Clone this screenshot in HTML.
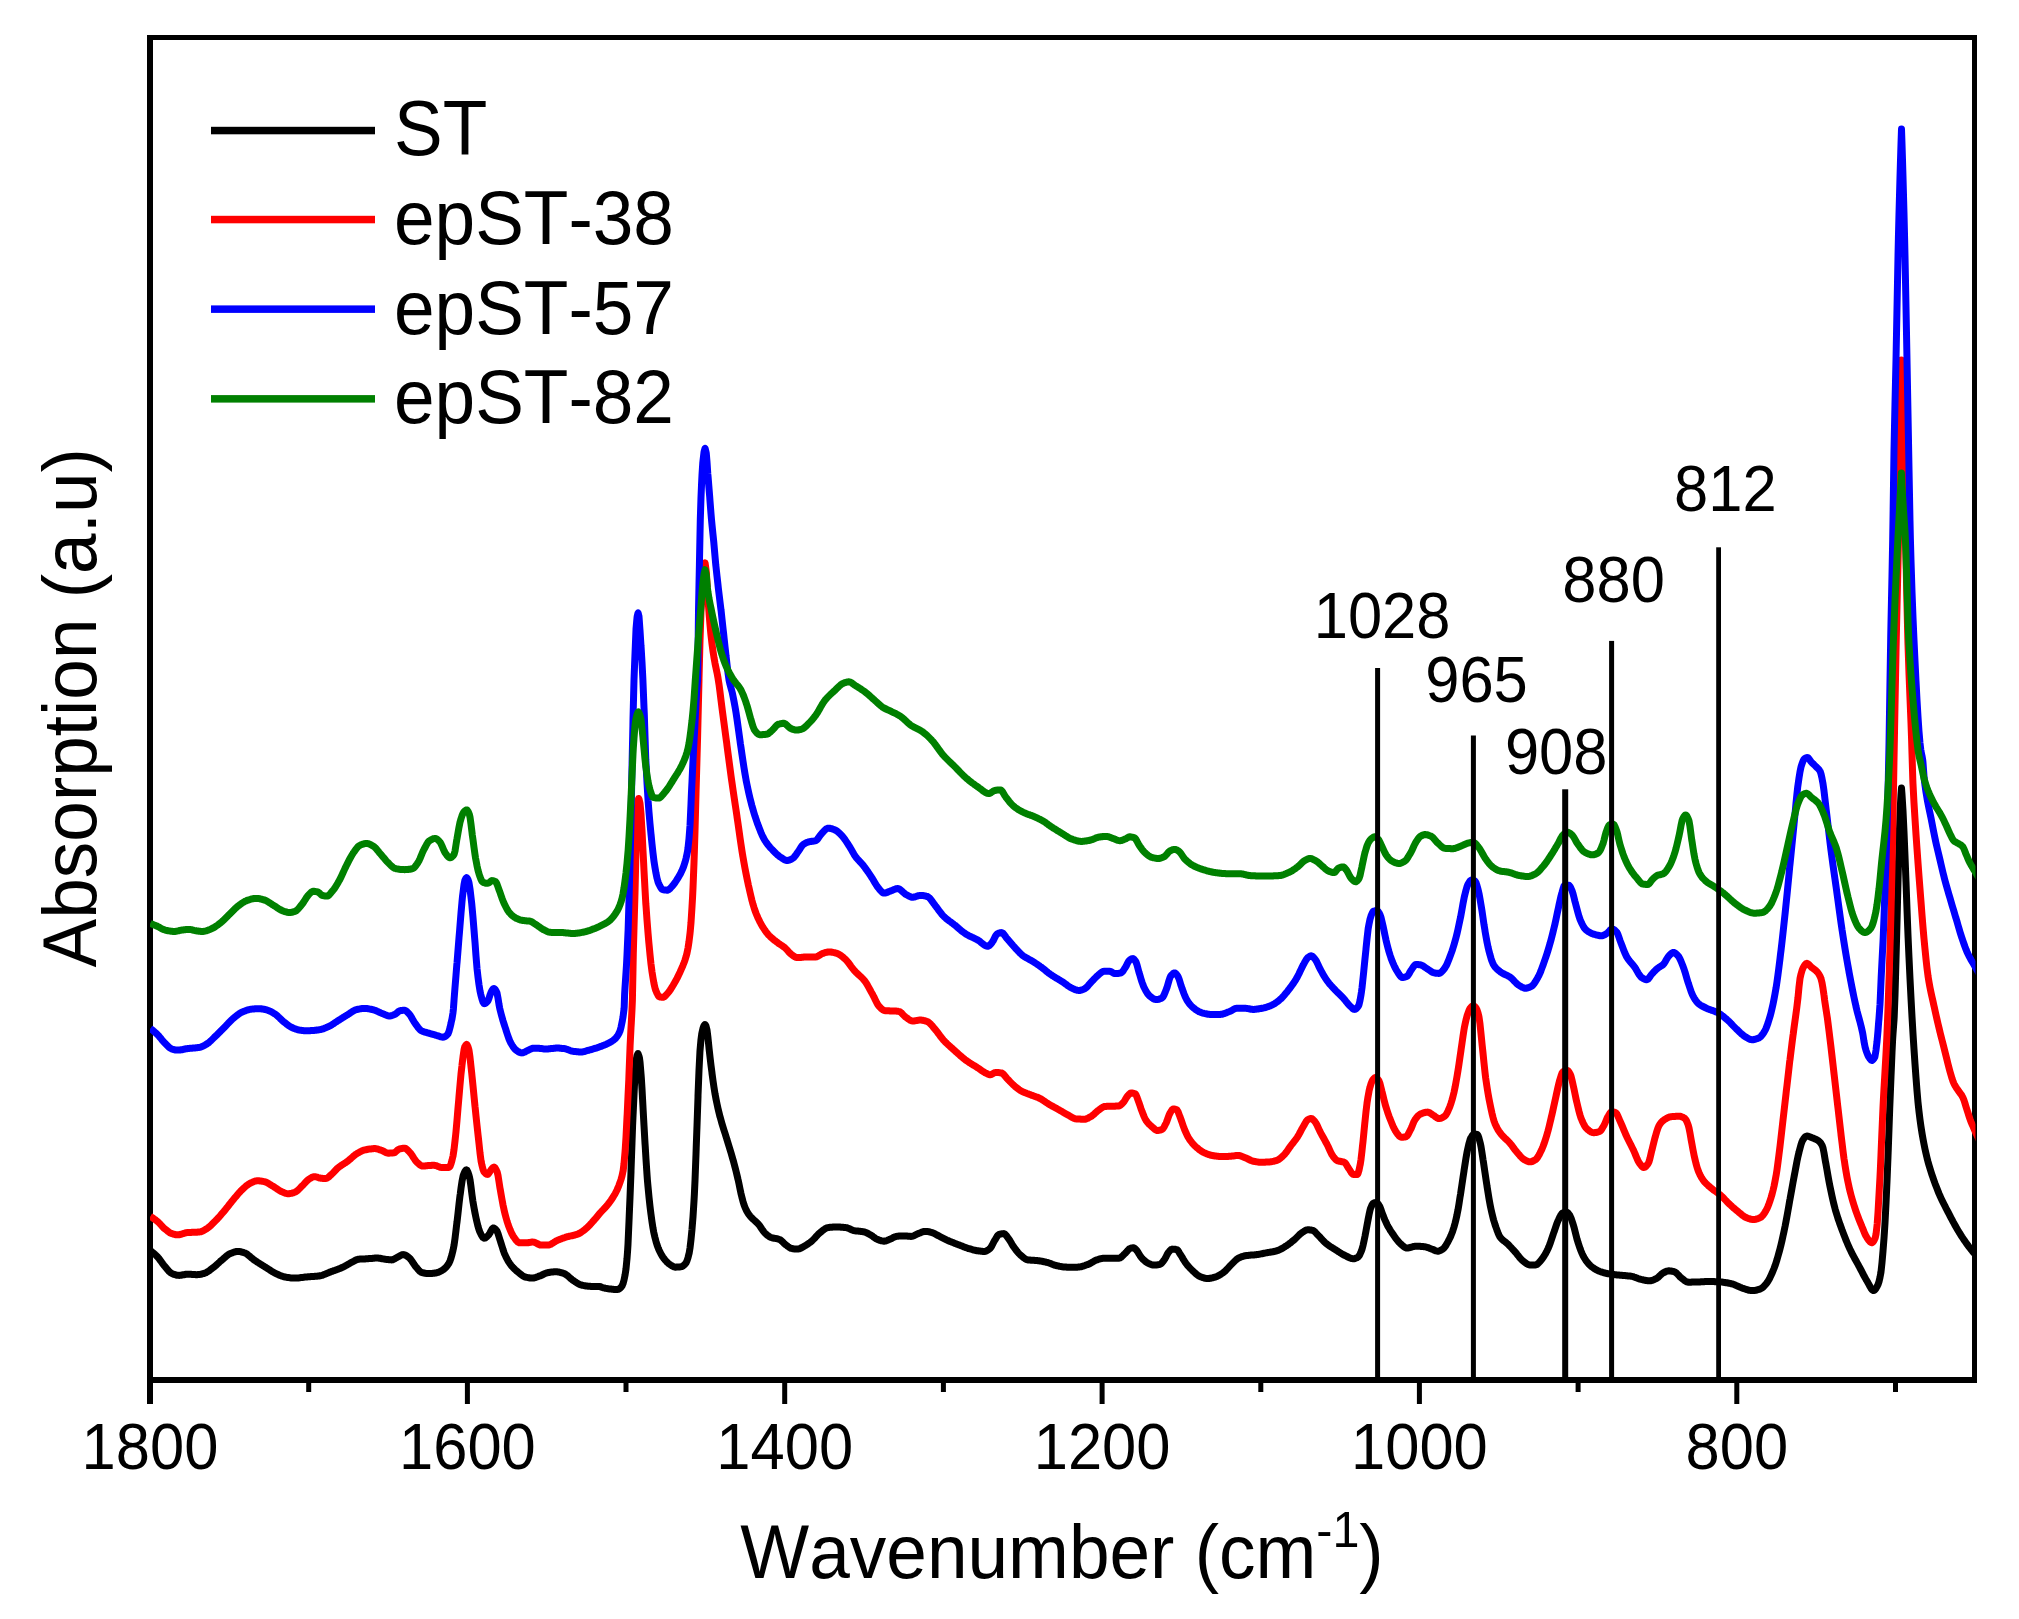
<!DOCTYPE html>
<html><head><meta charset="utf-8"><title>FTIR spectra</title>
<style>
html,body{margin:0;padding:0;background:#fff;}
body{width:2019px;height:1619px;overflow:hidden;}
svg{display:block;}
text{font-family:"Liberation Sans",Arial,Helvetica,sans-serif;fill:#000;font-kerning:none;}
.t73{font-size:73px;}
.t61{font-size:61.5px;}
</style></head><body>
<svg width="2019" height="1619" viewBox="0 0 2019 1619">
<rect x="0" y="0" width="2019" height="1619" fill="#ffffff"/>
<defs><clipPath id="plot"><rect x="150" y="36" width="1825.5" height="1344"/></clipPath></defs>

<rect x="147" y="35" width="6" height="1369" fill="#000"/><rect x="147" y="1377" width="1830" height="6" fill="#000"/><rect x="147" y="35" width="1830" height="5" fill="#000"/><rect x="1972" y="35" width="5" height="1348" fill="#000"/>
<g clip-path="url(#plot)" fill="none" stroke-linejoin="round" stroke-linecap="butt">
<path d="M150.3,1250.7 L151.0,1251.2 L152.0,1251.9 L153.0,1252.7 L154.0,1253.5 L155.0,1254.4 L156.0,1255.4 L157.0,1256.3 L157.1,1256.4 L158.0,1257.4 L159.0,1258.6 L160.0,1260.0 L161.0,1261.3 L162.0,1262.7 L163.0,1264.1 L164.0,1265.4 L165.0,1266.6 L165.1,1266.7 L166.0,1267.8 L167.0,1269.0 L168.0,1270.2 L169.0,1271.3 L170.0,1272.2 L171.0,1273.0 L171.9,1273.5 L172.0,1273.6 L173.0,1274.0 L174.0,1274.4 L175.0,1274.7 L176.0,1275.0 L177.0,1275.2 L178.0,1275.3 L178.8,1275.4 L179.0,1275.4 L180.0,1275.3 L181.0,1275.2 L182.0,1275.0 L183.0,1274.8 L184.0,1274.7 L185.0,1274.5 L186.0,1274.3 L187.0,1274.2 L187.9,1274.2 L188.0,1274.2 L189.0,1274.2 L190.0,1274.3 L191.0,1274.3 L192.0,1274.4 L193.0,1274.5 L194.0,1274.6 L195.0,1274.6 L196.0,1274.7 L197.0,1274.7 L197.0,1274.7 L198.0,1274.6 L199.0,1274.5 L200.0,1274.4 L201.0,1274.2 L202.0,1274.0 L203.0,1273.7 L203.8,1273.5 L204.0,1273.5 L205.0,1273.1 L206.0,1272.7 L207.0,1272.1 L208.0,1271.5 L209.0,1270.8 L210.0,1270.1 L211.0,1269.3 L212.0,1268.5 L212.9,1267.8 L213.0,1267.8 L214.0,1267.0 L215.0,1266.2 L216.0,1265.3 L217.0,1264.4 L218.0,1263.5 L219.0,1262.6 L220.0,1261.6 L221.0,1260.8 L222.0,1259.9 L222.1,1259.9 L223.0,1259.1 L224.0,1258.2 L225.0,1257.3 L226.0,1256.4 L227.0,1255.6 L228.0,1254.9 L229.0,1254.2 L230.0,1253.7 L230.0,1253.7 L231.0,1253.3 L232.0,1252.9 L233.0,1252.5 L234.0,1252.2 L235.0,1251.9 L236.0,1251.6 L237.0,1251.5 L238.0,1251.4 L238.0,1251.4 L239.0,1251.5 L240.0,1251.6 L241.0,1251.8 L242.0,1252.1 L243.0,1252.4 L244.0,1252.7 L244.9,1253.0 L245.0,1253.1 L246.0,1253.5 L247.0,1254.1 L248.0,1254.9 L249.0,1255.7 L250.0,1256.6 L251.0,1257.4 L252.0,1258.3 L253.0,1259.1 L254.0,1259.9 L254.0,1259.9 L255.0,1260.6 L256.0,1261.2 L257.0,1261.9 L258.0,1262.5 L259.0,1263.2 L260.0,1263.8 L261.0,1264.4 L262.0,1265.1 L263.0,1265.7 L264.0,1266.3 L265.0,1266.9 L265.4,1267.2 L266.0,1267.5 L267.0,1268.2 L268.0,1268.8 L269.0,1269.5 L270.0,1270.1 L271.0,1270.8 L272.0,1271.4 L273.0,1272.0 L274.0,1272.6 L275.0,1273.1 L276.0,1273.6 L276.8,1274.0 L277.0,1274.1 L278.0,1274.5 L279.0,1275.0 L280.0,1275.4 L281.0,1275.8 L282.0,1276.2 L283.0,1276.5 L284.0,1276.8 L285.0,1277.0 L285.9,1277.2 L286.0,1277.2 L287.0,1277.4 L288.0,1277.5 L289.0,1277.6 L290.0,1277.8 L291.0,1277.9 L292.0,1278.0 L293.0,1278.0 L294.0,1278.1 L295.0,1278.1 L295.0,1278.1 L296.0,1278.1 L297.0,1278.0 L298.0,1278.0 L299.0,1277.9 L300.0,1277.7 L301.0,1277.6 L302.0,1277.5 L303.0,1277.4 L304.0,1277.2 L305.0,1277.1 L306.0,1277.0 L306.4,1277.0 L307.0,1276.9 L308.0,1276.8 L309.0,1276.7 L310.0,1276.7 L311.0,1276.6 L312.0,1276.6 L313.0,1276.5 L314.0,1276.4 L315.0,1276.3 L316.0,1276.3 L317.0,1276.2 L318.0,1276.1 L319.0,1276.0 L320.0,1275.8 L320.1,1275.8 L321.0,1275.6 L322.0,1275.4 L323.0,1275.0 L324.0,1274.6 L325.0,1274.2 L326.0,1273.8 L327.0,1273.3 L328.0,1272.9 L329.0,1272.5 L329.2,1272.4 L330.0,1272.1 L331.0,1271.7 L332.0,1271.4 L333.0,1271.0 L334.0,1270.6 L335.0,1270.3 L336.0,1269.9 L337.0,1269.6 L338.0,1269.2 L339.0,1268.8 L340.0,1268.4 L341.0,1268.0 L342.0,1267.5 L342.9,1267.2 L343.0,1267.1 L344.0,1266.6 L345.0,1266.1 L346.0,1265.5 L347.0,1264.9 L348.0,1264.3 L349.0,1263.8 L350.0,1263.2 L351.0,1262.6 L352.0,1262.1 L352.0,1262.1 L353.0,1261.6 L354.0,1261.1 L355.0,1260.5 L356.0,1260.0 L357.0,1259.6 L358.0,1259.3 L358.8,1259.2 L359.0,1259.2 L360.0,1259.1 L361.0,1259.0 L362.0,1259.0 L363.0,1258.9 L364.0,1258.9 L365.0,1258.9 L366.0,1258.8 L367.0,1258.8 L367.9,1258.7 L368.0,1258.7 L369.0,1258.6 L370.0,1258.6 L371.0,1258.5 L372.0,1258.4 L373.0,1258.3 L374.0,1258.2 L375.0,1258.1 L376.0,1258.1 L377.0,1258.0 L377.1,1258.0 L378.0,1258.1 L379.0,1258.2 L380.0,1258.3 L381.0,1258.5 L382.0,1258.7 L383.0,1258.9 L384.0,1259.1 L385.0,1259.2 L386.0,1259.4 L386.2,1259.4 L387.0,1259.5 L388.0,1259.6 L389.0,1259.7 L390.0,1259.8 L391.0,1259.8 L391.9,1259.9 L392.0,1259.9 L393.0,1259.7 L394.0,1259.2 L395.0,1258.7 L396.0,1258.0 L397.0,1257.4 L397.6,1257.1 L398.0,1256.9 L399.0,1256.4 L400.0,1255.8 L401.0,1255.2 L402.0,1254.8 L403.0,1254.6 L403.3,1254.6 L404.0,1254.7 L405.0,1255.0 L406.0,1255.5 L407.0,1256.1 L408.0,1256.9 L409.0,1257.6 L409.0,1257.6 L410.0,1258.5 L411.0,1259.8 L412.0,1261.2 L413.0,1262.7 L414.0,1264.3 L415.0,1265.7 L415.8,1266.7 L416.0,1266.9 L417.0,1268.1 L418.0,1269.4 L419.0,1270.5 L420.0,1271.5 L421.0,1272.2 L421.5,1272.4 L422.0,1272.5 L423.0,1272.8 L424.0,1273.0 L425.0,1273.2 L426.0,1273.4 L427.0,1273.5 L428.0,1273.5 L428.4,1273.5 L429.0,1273.5 L430.0,1273.5 L431.0,1273.4 L432.0,1273.4 L433.0,1273.3 L434.0,1273.2 L435.0,1273.0 L436.0,1272.9 L436.3,1272.9 L437.0,1272.7 L438.0,1272.4 L439.0,1272.0 L440.0,1271.6 L441.0,1271.0 L442.0,1270.4 L443.0,1269.8 L443.2,1269.7 L444.0,1269.1 L445.0,1268.2 L446.0,1267.2 L447.0,1266.0 L448.0,1264.7 L448.9,1263.3 L449.0,1263.0 L450.0,1260.9 L451.0,1258.0 L452.0,1254.5 L453.0,1250.4 L453.4,1248.5 L454.0,1245.4 L455.0,1238.4 L456.0,1230.3 L456.8,1223.4 L457.0,1222.1 L458.0,1213.4 L459.0,1204.2 L460.0,1195.7 L460.3,1193.8 L461.0,1188.3 L462.0,1181.4 L463.0,1176.3 L463.2,1175.5 L464.0,1173.4 L465.0,1171.2 L466.0,1170.0 L466.4,1169.8 L467.0,1170.2 L468.0,1172.2 L469.0,1175.4 L469.4,1176.7 L470.0,1179.6 L471.0,1186.8 L472.0,1194.9 L472.8,1200.6 L473.0,1201.8 L474.0,1207.6 L475.0,1213.0 L476.0,1217.9 L476.2,1218.8 L477.0,1222.2 L478.0,1226.3 L479.0,1229.7 L479.6,1231.4 L480.0,1232.2 L481.0,1234.3 L482.0,1236.2 L483.0,1237.5 L484.0,1238.2 L484.2,1238.2 L485.0,1238.0 L486.0,1237.5 L487.0,1236.6 L488.0,1235.6 L488.8,1234.8 L489.0,1234.5 L490.0,1232.9 L491.0,1230.9 L492.0,1229.1 L493.0,1228.0 L493.3,1227.9 L494.0,1228.1 L495.0,1228.8 L496.0,1229.8 L496.7,1230.7 L497.0,1231.1 L498.0,1233.5 L499.0,1236.7 L500.0,1240.0 L500.2,1240.5 L501.0,1243.1 L502.0,1246.3 L503.0,1249.5 L504.0,1252.4 L504.7,1254.2 L505.0,1254.8 L506.0,1256.9 L507.0,1258.9 L508.0,1260.7 L509.0,1262.4 L510.0,1263.9 L510.4,1264.4 L511.0,1265.2 L512.0,1266.4 L513.0,1267.5 L514.0,1268.5 L515.0,1269.5 L516.0,1270.4 L517.0,1271.3 L518.0,1272.1 L518.4,1272.4 L519.0,1272.9 L520.0,1273.7 L521.0,1274.5 L522.0,1275.3 L523.0,1275.9 L524.0,1276.5 L525.0,1276.9 L525.2,1277.0 L526.0,1277.2 L527.0,1277.4 L528.0,1277.6 L529.0,1277.8 L530.0,1278.0 L531.0,1278.1 L532.0,1278.1 L532.1,1278.1 L533.0,1278.0 L534.0,1277.9 L535.0,1277.6 L536.0,1277.3 L537.0,1276.9 L538.0,1276.6 L538.9,1276.3 L539.0,1276.2 L540.0,1275.9 L541.0,1275.5 L542.0,1275.0 L543.0,1274.5 L544.0,1274.0 L545.0,1273.6 L546.0,1273.2 L547.0,1272.9 L548.0,1272.6 L548.0,1272.6 L549.0,1272.5 L550.0,1272.3 L551.0,1272.1 L552.0,1272.0 L553.0,1271.9 L554.0,1271.8 L555.0,1271.7 L556.0,1271.7 L556.0,1271.7 L557.0,1271.8 L558.0,1271.9 L559.0,1272.0 L560.0,1272.3 L561.0,1272.6 L562.0,1272.9 L563.0,1273.2 L564.0,1273.5 L564.0,1273.5 L565.0,1274.0 L566.0,1274.6 L567.0,1275.3 L568.0,1276.1 L569.0,1277.0 L570.0,1277.9 L571.0,1278.8 L572.0,1279.6 L573.0,1280.3 L573.1,1280.4 L574.0,1281.0 L575.0,1281.7 L576.0,1282.3 L577.0,1283.0 L578.0,1283.6 L579.0,1284.1 L580.0,1284.6 L581.0,1284.9 L581.1,1284.9 L582.0,1285.2 L583.0,1285.4 L584.0,1285.6 L585.0,1285.8 L586.0,1286.0 L587.0,1286.1 L588.0,1286.2 L589.0,1286.3 L589.1,1286.3 L590.0,1286.3 L591.0,1286.4 L592.0,1286.4 L593.0,1286.4 L594.0,1286.4 L595.0,1286.4 L596.0,1286.4 L597.0,1286.4 L598.0,1286.5 L599.0,1286.5 L600.0,1286.5 L600.0,1286.5 L601.0,1287.0 L601.4,1287.2 L602.0,1287.4 L603.0,1287.7 L604.0,1287.9 L605.0,1288.2 L606.0,1288.4 L607.0,1288.6 L608.0,1288.7 L609.0,1288.9 L610.0,1289.0 L610.5,1289.0 L611.0,1289.1 L612.0,1289.2 L613.0,1289.3 L614.0,1289.4 L615.0,1289.4 L616.0,1289.5 L617.0,1289.5 L617.4,1289.5 L618.0,1289.4 L619.0,1289.0 L620.0,1288.2 L621.0,1287.2 L621.9,1286.1 L622.0,1286.0 L623.0,1283.7 L624.0,1280.1 L625.0,1275.3 L625.3,1273.5 L626.0,1268.9 L627.0,1258.7 L627.6,1250.7 L628.0,1244.2 L629.0,1221.4 L629.2,1216.5 L630.0,1197.5 L631.0,1171.8 L631.0,1171.0 L632.0,1142.6 L632.6,1125.4 L633.0,1116.4 L634.0,1095.0 L634.4,1086.6 L635.0,1076.6 L636.0,1061.4 L636.3,1059.3 L637.0,1055.6 L637.9,1053.6 L638.0,1053.6 L639.0,1056.2 L639.5,1058.1 L640.0,1061.9 L641.0,1073.7 L641.3,1077.5 L642.0,1088.8 L643.0,1107.4 L643.1,1109.4 L644.0,1125.5 L645.0,1143.2 L645.2,1145.9 L646.0,1159.4 L647.0,1174.4 L647.4,1180.1 L648.0,1186.6 L649.0,1197.2 L650.0,1206.3 L650.4,1209.7 L651.0,1214.4 L652.0,1221.8 L653.0,1228.2 L653.8,1232.5 L654.0,1233.3 L655.0,1237.6 L656.0,1241.4 L657.0,1244.7 L658.0,1247.5 L658.4,1248.5 L659.0,1249.9 L660.0,1252.0 L661.0,1254.0 L662.0,1255.7 L663.0,1257.2 L664.0,1258.6 L664.1,1258.7 L665.0,1259.9 L666.0,1261.0 L667.0,1262.1 L668.0,1263.0 L669.0,1263.9 L669.8,1264.4 L670.0,1264.6 L671.0,1265.2 L672.0,1265.9 L673.0,1266.4 L674.0,1266.9 L675.0,1267.1 L675.5,1267.2 L676.0,1267.1 L677.0,1267.1 L678.0,1267.1 L679.0,1267.0 L680.0,1266.9 L681.0,1266.7 L681.2,1266.7 L682.0,1266.5 L683.0,1265.9 L684.0,1265.2 L685.0,1264.1 L685.7,1263.3 L686.0,1262.9 L687.0,1260.8 L688.0,1257.7 L689.0,1253.7 L689.2,1253.0 L690.0,1248.0 L691.0,1239.5 L692.0,1229.3 L692.1,1227.9 L693.0,1216.9 L694.0,1201.0 L694.4,1193.8 L695.0,1180.6 L696.0,1154.2 L696.2,1148.2 L697.0,1125.8 L698.0,1097.0 L698.0,1095.7 L699.0,1070.3 L699.9,1052.4 L700.0,1050.6 L701.0,1039.4 L701.7,1034.2 L702.0,1032.5 L703.0,1028.2 L703.3,1027.4 L704.0,1025.7 L705.0,1024.4 L705.1,1024.4 L706.0,1026.0 L706.9,1029.6 L707.0,1029.9 L708.0,1038.0 L709.0,1047.9 L709.0,1048.0 L710.0,1056.8 L711.0,1065.4 L712.0,1072.9 L712.0,1073.3 L713.0,1080.6 L714.0,1087.5 L715.0,1093.7 L715.4,1095.7 L716.0,1099.0 L717.0,1103.9 L718.0,1108.4 L719.0,1112.6 L719.9,1116.3 L720.0,1116.5 L721.0,1120.2 L722.0,1123.7 L723.0,1127.0 L724.0,1130.2 L725.0,1133.3 L726.0,1136.5 L726.8,1139.0 L727.0,1139.8 L728.0,1143.1 L729.0,1146.3 L730.0,1149.6 L731.0,1152.8 L732.0,1156.2 L733.0,1159.7 L733.6,1161.8 L734.0,1163.3 L735.0,1167.1 L736.0,1171.0 L737.0,1175.1 L738.0,1179.4 L738.2,1180.1 L739.0,1183.9 L740.0,1188.9 L741.0,1193.6 L741.6,1196.0 L742.0,1197.6 L743.0,1201.4 L744.0,1204.7 L745.0,1207.4 L745.0,1207.4 L746.0,1209.6 L747.0,1211.5 L748.0,1213.2 L749.0,1214.6 L749.6,1215.4 L750.0,1216.0 L751.0,1217.1 L752.0,1218.2 L753.0,1219.1 L754.0,1220.0 L755.0,1220.9 L756.0,1221.8 L757.0,1222.8 L758.0,1223.8 L758.7,1224.5 L759.0,1224.9 L760.0,1226.2 L761.0,1227.7 L762.0,1229.2 L763.0,1230.6 L764.0,1232.0 L765.0,1233.1 L765.5,1233.6 L766.0,1234.1 L767.0,1234.9 L768.0,1235.7 L769.0,1236.4 L770.0,1237.0 L771.0,1237.4 L771.2,1237.5 L772.0,1237.8 L773.0,1238.0 L774.0,1238.2 L775.0,1238.4 L776.0,1238.6 L777.0,1238.7 L778.0,1239.0 L779.0,1239.3 L779.2,1239.3 L780.0,1239.7 L781.0,1240.4 L782.0,1241.3 L783.0,1242.3 L784.0,1243.3 L785.0,1244.2 L786.0,1245.0 L786.0,1245.0 L787.0,1245.7 L788.0,1246.5 L789.0,1247.2 L790.0,1247.8 L791.0,1248.3 L791.7,1248.5 L792.0,1248.5 L793.0,1248.7 L794.0,1248.9 L795.0,1249.0 L796.0,1249.1 L797.0,1249.1 L797.4,1249.1 L798.0,1249.1 L799.0,1248.9 L800.0,1248.5 L801.0,1248.0 L802.0,1247.5 L803.0,1246.9 L804.0,1246.3 L804.3,1246.2 L805.0,1245.8 L806.0,1245.2 L807.0,1244.6 L808.0,1243.9 L809.0,1243.2 L810.0,1242.5 L811.0,1241.7 L811.1,1241.6 L812.0,1240.9 L813.0,1239.9 L814.0,1238.9 L815.0,1237.8 L816.0,1236.7 L817.0,1235.6 L818.0,1234.5 L819.0,1233.5 L820.0,1232.7 L820.2,1232.5 L821.0,1231.9 L822.0,1231.1 L823.0,1230.3 L824.0,1229.5 L825.0,1228.8 L826.0,1228.2 L827.0,1227.8 L828.0,1227.5 L828.2,1227.5 L829.0,1227.4 L830.0,1227.3 L831.0,1227.2 L832.0,1227.2 L833.0,1227.1 L834.0,1227.1 L835.0,1227.0 L836.0,1227.0 L836.2,1227.0 L837.0,1227.0 L838.0,1227.1 L839.0,1227.1 L840.0,1227.1 L841.0,1227.2 L842.0,1227.2 L843.0,1227.3 L844.0,1227.4 L845.0,1227.5 L845.3,1227.5 L846.0,1227.6 L847.0,1227.8 L848.0,1228.2 L849.0,1228.6 L850.0,1229.0 L851.0,1229.5 L852.0,1229.9 L853.0,1230.3 L854.0,1230.6 L854.4,1230.7 L855.0,1230.8 L856.0,1230.9 L857.0,1231.0 L858.0,1231.1 L859.0,1231.2 L860.0,1231.3 L861.0,1231.4 L862.0,1231.6 L863.0,1231.7 L863.5,1231.8 L864.0,1231.9 L865.0,1232.2 L866.0,1232.6 L867.0,1233.0 L868.0,1233.5 L869.0,1234.1 L870.0,1234.6 L870.4,1234.8 L871.0,1235.1 L872.0,1235.8 L873.0,1236.6 L874.0,1237.3 L875.0,1238.1 L876.0,1238.7 L877.0,1239.3 L877.2,1239.3 L878.0,1239.6 L879.0,1240.0 L880.0,1240.4 L881.0,1240.7 L882.0,1240.9 L883.0,1241.1 L884.0,1241.2 L884.1,1241.2 L885.0,1241.1 L886.0,1240.8 L887.0,1240.5 L888.0,1240.1 L889.0,1239.6 L889.7,1239.3 L890.0,1239.2 L891.0,1238.8 L892.0,1238.3 L893.0,1237.7 L894.0,1237.2 L895.0,1236.8 L896.0,1236.5 L896.6,1236.4 L897.0,1236.3 L898.0,1236.2 L899.0,1236.1 L900.0,1236.1 L901.0,1236.0 L902.0,1235.9 L903.0,1235.9 L903.4,1235.9 L904.0,1235.9 L905.0,1236.0 L906.0,1236.0 L907.0,1236.1 L908.0,1236.2 L909.0,1236.3 L910.0,1236.3 L911.0,1236.4 L911.4,1236.4 L912.0,1236.3 L913.0,1236.1 L914.0,1235.7 L915.0,1235.2 L916.0,1234.7 L917.0,1234.2 L918.0,1233.7 L918.2,1233.6 L919.0,1233.3 L920.0,1232.9 L921.0,1232.5 L922.0,1232.1 L923.0,1231.7 L924.0,1231.5 L925.0,1231.4 L925.1,1231.4 L926.0,1231.4 L927.0,1231.5 L928.0,1231.6 L929.0,1231.8 L930.0,1232.0 L931.0,1232.3 L931.9,1232.5 L932.0,1232.5 L933.0,1232.9 L934.0,1233.3 L935.0,1233.8 L936.0,1234.4 L937.0,1235.0 L938.0,1235.5 L938.8,1235.9 L939.0,1236.0 L940.0,1236.6 L941.0,1237.1 L942.0,1237.6 L943.0,1238.1 L944.0,1238.6 L945.0,1239.1 L946.0,1239.6 L947.0,1240.1 L947.9,1240.5 L948.0,1240.5 L949.0,1241.0 L950.0,1241.4 L951.0,1241.8 L952.0,1242.2 L953.0,1242.6 L954.0,1243.0 L955.0,1243.4 L956.0,1243.8 L957.0,1244.2 L958.0,1244.6 L959.0,1244.9 L959.3,1245.0 L960.0,1245.3 L961.0,1245.7 L962.0,1246.1 L963.0,1246.5 L964.0,1246.9 L965.0,1247.3 L966.0,1247.7 L967.0,1248.0 L968.0,1248.3 L968.4,1248.5 L969.0,1248.6 L970.0,1248.9 L971.0,1249.2 L972.0,1249.5 L973.0,1249.8 L974.0,1250.1 L975.0,1250.3 L976.0,1250.5 L977.0,1250.7 L977.5,1250.7 L978.0,1250.8 L979.0,1251.0 L980.0,1251.1 L981.0,1251.2 L982.0,1251.3 L983.0,1251.4 L984.0,1251.4 L984.3,1251.4 L985.0,1251.4 L986.0,1251.1 L987.0,1250.6 L988.0,1250.0 L989.0,1249.3 L990.0,1248.5 L990.0,1248.5 L991.0,1247.3 L992.0,1245.5 L993.0,1243.5 L994.0,1241.5 L994.6,1240.5 L995.0,1239.9 L996.0,1238.2 L997.0,1236.5 L998.0,1235.2 L999.0,1234.4 L999.2,1234.3 L1000.0,1234.1 L1001.0,1233.9 L1002.0,1233.8 L1003.0,1233.7 L1003.7,1233.6 L1004.0,1233.7 L1005.0,1234.2 L1006.0,1235.2 L1007.0,1236.5 L1008.0,1237.9 L1008.3,1238.2 L1009.0,1239.2 L1010.0,1240.7 L1011.0,1242.4 L1012.0,1244.2 L1013.0,1245.9 L1014.0,1247.3 L1014.0,1247.3 L1015.0,1248.7 L1016.0,1250.0 L1017.0,1251.3 L1018.0,1252.5 L1019.0,1253.6 L1020.0,1254.6 L1020.8,1255.3 L1021.0,1255.5 L1022.0,1256.3 L1023.0,1257.2 L1024.0,1258.0 L1025.0,1258.7 L1026.0,1259.3 L1027.0,1259.7 L1027.7,1259.9 L1028.0,1259.9 L1029.0,1260.0 L1030.0,1260.1 L1031.0,1260.2 L1032.0,1260.2 L1033.0,1260.3 L1034.0,1260.3 L1035.0,1260.4 L1036.0,1260.5 L1036.8,1260.5 L1037.0,1260.6 L1038.0,1260.7 L1039.0,1260.8 L1040.0,1261.0 L1041.0,1261.1 L1042.0,1261.3 L1043.0,1261.5 L1044.0,1261.7 L1045.0,1261.9 L1046.0,1262.2 L1047.0,1262.4 L1048.0,1262.7 L1049.0,1263.0 L1050.0,1263.3 L1050.0,1263.3 L1051.0,1263.7 L1052.0,1264.2 L1053.0,1264.6 L1053.7,1264.9 L1054.0,1265.0 L1055.0,1265.2 L1056.0,1265.5 L1057.0,1265.7 L1058.0,1265.9 L1059.0,1266.2 L1060.0,1266.4 L1061.0,1266.6 L1062.0,1266.7 L1063.0,1266.9 L1064.0,1267.0 L1065.0,1267.1 L1066.0,1267.1 L1067.0,1267.2 L1067.4,1267.2 L1068.0,1267.2 L1069.0,1267.2 L1070.0,1267.2 L1071.0,1267.2 L1072.0,1267.2 L1073.0,1267.2 L1074.0,1267.2 L1075.0,1267.2 L1076.0,1267.2 L1077.0,1267.2 L1077.6,1267.2 L1078.0,1267.1 L1079.0,1267.1 L1080.0,1266.9 L1081.0,1266.7 L1082.0,1266.5 L1083.0,1266.2 L1084.0,1265.8 L1085.0,1265.5 L1086.0,1265.1 L1087.0,1264.7 L1087.9,1264.4 L1088.0,1264.4 L1089.0,1264.0 L1090.0,1263.5 L1091.0,1262.9 L1092.0,1262.3 L1093.0,1261.8 L1094.0,1261.2 L1095.0,1260.7 L1096.0,1260.2 L1097.0,1259.9 L1097.0,1259.9 L1098.0,1259.5 L1099.0,1259.2 L1100.0,1258.9 L1101.0,1258.6 L1102.0,1258.4 L1103.0,1258.3 L1103.8,1258.3 L1104.0,1258.3 L1105.0,1258.3 L1106.0,1258.3 L1107.0,1258.3 L1108.0,1258.3 L1109.0,1258.3 L1110.0,1258.3 L1111.0,1258.3 L1112.0,1258.3 L1113.0,1258.3 L1114.0,1258.3 L1115.0,1258.3 L1116.0,1258.3 L1117.0,1258.3 L1118.0,1258.3 L1118.6,1258.3 L1119.0,1258.2 L1120.0,1257.9 L1121.0,1257.3 L1122.0,1256.4 L1123.0,1255.5 L1124.0,1254.4 L1125.0,1253.5 L1125.5,1253.0 L1126.0,1252.5 L1127.0,1251.4 L1128.0,1250.1 L1129.0,1249.1 L1130.0,1248.5 L1130.0,1248.5 L1131.0,1248.2 L1132.0,1247.9 L1133.0,1247.8 L1133.5,1247.8 L1134.0,1247.9 L1135.0,1248.6 L1136.0,1249.7 L1136.9,1250.7 L1137.0,1250.9 L1138.0,1252.2 L1139.0,1253.9 L1140.0,1255.6 L1141.0,1257.0 L1141.4,1257.6 L1142.0,1258.2 L1143.0,1259.3 L1144.0,1260.2 L1145.0,1261.1 L1146.0,1261.9 L1147.0,1262.5 L1147.1,1262.6 L1148.0,1263.1 L1149.0,1263.6 L1150.0,1264.1 L1151.0,1264.5 L1152.0,1264.8 L1153.0,1265.0 L1154.0,1265.1 L1154.0,1265.1 L1155.0,1265.1 L1156.0,1265.0 L1157.0,1264.9 L1158.0,1264.7 L1159.0,1264.6 L1159.7,1264.4 L1160.0,1264.3 L1161.0,1263.7 L1162.0,1262.7 L1163.0,1261.5 L1164.0,1260.2 L1164.2,1259.9 L1165.0,1258.7 L1166.0,1256.8 L1167.0,1254.8 L1168.0,1253.0 L1168.8,1251.9 L1169.0,1251.7 L1170.0,1250.5 L1171.0,1249.6 L1172.0,1249.2 L1172.2,1249.1 L1173.0,1249.2 L1174.0,1249.2 L1175.0,1249.3 L1176.0,1249.5 L1176.8,1249.6 L1177.0,1249.7 L1178.0,1250.6 L1179.0,1252.2 L1180.0,1253.9 L1180.2,1254.2 L1181.0,1255.4 L1182.0,1257.0 L1183.0,1258.8 L1184.0,1260.4 L1185.0,1262.0 L1185.9,1263.3 L1186.0,1263.4 L1187.0,1264.7 L1188.0,1265.9 L1189.0,1267.0 L1190.0,1268.1 L1191.0,1269.1 L1192.0,1270.1 L1192.7,1270.8 L1193.0,1271.1 L1194.0,1272.0 L1195.0,1272.9 L1196.0,1273.8 L1197.0,1274.7 L1198.0,1275.4 L1199.0,1276.0 L1199.6,1276.3 L1200.0,1276.5 L1201.0,1276.9 L1202.0,1277.3 L1203.0,1277.7 L1204.0,1278.0 L1205.0,1278.2 L1206.0,1278.4 L1207.0,1278.5 L1207.5,1278.6 L1208.0,1278.5 L1209.0,1278.5 L1210.0,1278.3 L1211.0,1278.2 L1212.0,1277.9 L1213.0,1277.7 L1214.0,1277.4 L1215.0,1277.1 L1215.5,1277.0 L1216.0,1276.8 L1217.0,1276.4 L1218.0,1275.9 L1219.0,1275.4 L1220.0,1274.8 L1221.0,1274.2 L1222.0,1273.5 L1223.0,1272.8 L1223.5,1272.4 L1224.0,1272.0 L1225.0,1271.2 L1226.0,1270.2 L1227.0,1269.1 L1228.0,1268.1 L1229.0,1267.0 L1230.0,1265.9 L1231.0,1264.9 L1231.5,1264.4 L1232.0,1263.9 L1233.0,1262.9 L1234.0,1261.9 L1235.0,1260.9 L1236.0,1259.9 L1237.0,1259.1 L1238.0,1258.4 L1238.3,1258.3 L1239.0,1257.9 L1240.0,1257.4 L1241.0,1257.0 L1242.0,1256.6 L1243.0,1256.3 L1244.0,1256.0 L1245.0,1255.8 L1245.2,1255.8 L1246.0,1255.6 L1247.0,1255.5 L1248.0,1255.4 L1249.0,1255.3 L1250.0,1255.2 L1251.0,1255.1 L1252.0,1255.0 L1253.0,1255.0 L1254.0,1254.9 L1255.0,1254.8 L1256.0,1254.7 L1256.5,1254.6 L1257.0,1254.6 L1258.0,1254.4 L1259.0,1254.3 L1260.0,1254.1 L1261.0,1253.9 L1262.0,1253.7 L1263.0,1253.5 L1264.0,1253.3 L1265.0,1253.1 L1266.0,1252.9 L1267.0,1252.7 L1267.9,1252.6 L1268.0,1252.6 L1269.0,1252.4 L1270.0,1252.2 L1271.0,1252.0 L1272.0,1251.9 L1273.0,1251.7 L1274.0,1251.5 L1275.0,1251.3 L1276.0,1251.0 L1277.0,1250.8 L1277.1,1250.7 L1278.0,1250.4 L1279.0,1250.0 L1280.0,1249.6 L1281.0,1249.0 L1282.0,1248.5 L1283.0,1247.9 L1284.0,1247.3 L1285.0,1246.7 L1285.0,1246.6 L1286.0,1246.0 L1287.0,1245.4 L1288.0,1244.7 L1289.0,1243.9 L1290.0,1243.2 L1291.0,1242.4 L1292.0,1241.6 L1293.0,1240.8 L1294.0,1239.9 L1294.2,1239.8 L1295.0,1239.1 L1296.0,1238.1 L1297.0,1237.1 L1298.0,1236.1 L1299.0,1235.1 L1300.0,1234.2 L1301.0,1233.3 L1302.0,1232.6 L1302.1,1232.5 L1303.0,1232.0 L1304.0,1231.3 L1305.0,1230.7 L1306.0,1230.2 L1307.0,1229.9 L1307.8,1229.8 L1308.0,1229.8 L1309.0,1229.8 L1310.0,1229.9 L1311.0,1230.0 L1312.0,1230.2 L1312.4,1230.2 L1313.0,1230.4 L1314.0,1231.0 L1315.0,1231.9 L1316.0,1233.0 L1317.0,1234.1 L1318.0,1235.2 L1318.1,1235.2 L1319.0,1236.1 L1320.0,1237.2 L1321.0,1238.3 L1322.0,1239.4 L1323.0,1240.5 L1324.0,1241.5 L1325.0,1242.5 L1326.0,1243.4 L1326.1,1243.4 L1327.0,1244.2 L1328.0,1244.9 L1329.0,1245.6 L1330.0,1246.3 L1331.0,1247.0 L1332.0,1247.6 L1333.0,1248.2 L1334.0,1248.8 L1335.0,1249.5 L1336.0,1250.1 L1336.3,1250.3 L1337.0,1250.7 L1338.0,1251.4 L1339.0,1252.0 L1340.0,1252.7 L1341.0,1253.3 L1342.0,1253.9 L1343.0,1254.5 L1344.0,1255.0 L1345.0,1255.5 L1345.4,1255.8 L1346.0,1256.0 L1347.0,1256.5 L1348.0,1257.0 L1349.0,1257.5 L1350.0,1257.9 L1351.0,1258.3 L1352.0,1258.6 L1353.0,1258.7 L1353.4,1258.7 L1354.0,1258.7 L1355.0,1258.5 L1356.0,1258.1 L1357.0,1257.7 L1358.0,1257.1 L1358.0,1257.1 L1359.0,1256.0 L1360.0,1254.2 L1361.0,1251.9 L1361.9,1249.6 L1362.0,1249.2 L1363.0,1245.6 L1364.0,1241.0 L1364.8,1237.1 L1365.0,1236.2 L1366.0,1230.9 L1367.0,1225.3 L1367.8,1221.1 L1368.0,1220.0 L1369.0,1214.8 L1370.0,1210.3 L1370.5,1208.6 L1371.0,1207.3 L1372.0,1205.0 L1373.0,1203.5 L1373.3,1203.3 L1374.0,1203.0 L1375.0,1202.6 L1376.0,1202.4 L1376.2,1202.4 L1377.0,1202.7 L1378.0,1203.8 L1379.0,1205.3 L1379.6,1206.3 L1380.0,1206.9 L1381.0,1209.5 L1382.0,1212.5 L1383.0,1215.3 L1383.1,1215.4 L1384.0,1217.7 L1385.0,1220.1 L1386.0,1222.3 L1387.0,1224.5 L1387.6,1225.7 L1388.0,1226.4 L1389.0,1228.1 L1390.0,1229.8 L1391.0,1231.4 L1392.0,1232.9 L1393.0,1234.3 L1393.3,1234.8 L1394.0,1235.8 L1395.0,1237.2 L1396.0,1238.6 L1397.0,1239.9 L1398.0,1241.2 L1399.0,1242.3 L1400.0,1243.3 L1400.2,1243.4 L1401.0,1244.2 L1402.0,1245.1 L1403.0,1246.0 L1404.0,1246.8 L1405.0,1247.4 L1406.0,1247.9 L1407.0,1248.0 L1407.0,1248.0 L1408.0,1247.9 L1409.0,1247.8 L1410.0,1247.5 L1411.0,1247.3 L1412.0,1247.0 L1413.0,1246.7 L1414.0,1246.4 L1415.0,1246.3 L1416.0,1246.2 L1416.1,1246.2 L1417.0,1246.2 L1418.0,1246.2 L1419.0,1246.3 L1420.0,1246.3 L1421.0,1246.4 L1422.0,1246.5 L1423.0,1246.6 L1424.0,1246.7 L1425.0,1246.8 L1425.2,1246.9 L1426.0,1247.0 L1427.0,1247.3 L1428.0,1247.6 L1429.0,1248.0 L1430.0,1248.4 L1431.0,1248.8 L1432.0,1249.1 L1432.1,1249.1 L1433.0,1249.5 L1434.0,1250.0 L1435.0,1250.5 L1436.0,1250.9 L1437.0,1251.1 L1437.8,1251.2 L1438.0,1251.2 L1439.0,1251.0 L1440.0,1250.7 L1441.0,1250.2 L1442.0,1249.6 L1443.0,1248.9 L1443.0,1248.9 L1444.0,1248.0 L1445.0,1246.7 L1446.0,1245.2 L1447.0,1243.4 L1448.0,1241.7 L1448.0,1241.6 L1449.0,1239.8 L1450.0,1237.8 L1451.0,1235.5 L1452.0,1233.0 L1452.6,1231.4 L1453.0,1230.2 L1454.0,1227.0 L1455.0,1223.4 L1456.0,1219.3 L1457.0,1214.9 L1457.1,1214.3 L1458.0,1209.8 L1459.0,1203.8 L1460.0,1197.3 L1460.6,1193.8 L1461.0,1190.9 L1462.0,1184.2 L1463.0,1177.4 L1464.0,1171.0 L1464.0,1170.8 L1465.0,1164.4 L1466.0,1158.0 L1467.0,1152.4 L1467.4,1150.4 L1468.0,1147.7 L1469.0,1143.4 L1470.0,1139.9 L1470.8,1137.9 L1471.0,1137.6 L1472.0,1136.0 L1473.0,1134.7 L1474.0,1134.1 L1474.2,1134.0 L1475.0,1134.1 L1476.0,1134.2 L1477.0,1134.4 L1477.2,1134.5 L1478.0,1135.5 L1479.0,1138.3 L1480.0,1142.1 L1480.4,1143.6 L1481.0,1146.5 L1482.0,1152.7 L1483.0,1159.5 L1483.4,1161.8 L1484.0,1166.1 L1485.0,1172.8 L1486.0,1179.6 L1486.8,1184.6 L1487.0,1186.1 L1488.0,1192.4 L1489.0,1198.6 L1490.0,1204.2 L1490.2,1205.2 L1491.0,1209.1 L1492.0,1213.6 L1493.0,1217.7 L1493.6,1220.0 L1494.0,1221.3 L1495.0,1224.5 L1496.0,1227.4 L1497.0,1230.1 L1497.0,1230.2 L1498.0,1232.8 L1499.0,1235.2 L1500.0,1237.1 L1500.0,1237.1 L1501.0,1238.3 L1502.0,1239.3 L1503.0,1240.2 L1504.0,1241.0 L1505.0,1241.7 L1506.0,1242.5 L1507.0,1243.4 L1507.1,1243.4 L1508.0,1244.3 L1509.0,1245.3 L1510.0,1246.4 L1511.0,1247.4 L1512.0,1248.5 L1513.0,1249.6 L1514.0,1250.7 L1515.0,1251.8 L1515.1,1251.9 L1516.0,1252.9 L1517.0,1254.2 L1518.0,1255.4 L1519.0,1256.7 L1520.0,1257.9 L1521.0,1259.1 L1522.0,1260.1 L1523.0,1261.0 L1523.1,1261.0 L1524.0,1261.7 L1525.0,1262.5 L1526.0,1263.3 L1527.0,1263.9 L1528.0,1264.4 L1529.0,1264.8 L1529.9,1264.9 L1530.0,1264.9 L1531.0,1264.9 L1532.0,1264.9 L1533.0,1264.9 L1534.0,1264.9 L1535.0,1264.9 L1535.6,1264.9 L1536.0,1264.8 L1537.0,1264.4 L1538.0,1263.6 L1539.0,1262.6 L1540.0,1261.4 L1541.0,1260.2 L1541.3,1259.9 L1542.0,1259.0 L1543.0,1257.7 L1544.0,1256.1 L1545.0,1254.5 L1546.0,1252.7 L1547.0,1250.8 L1548.0,1248.7 L1548.1,1248.5 L1549.0,1246.4 L1550.0,1243.8 L1551.0,1240.9 L1552.0,1237.9 L1553.0,1234.9 L1553.8,1232.5 L1554.0,1232.0 L1555.0,1229.1 L1556.0,1226.1 L1557.0,1223.3 L1558.0,1220.8 L1558.4,1220.0 L1559.0,1218.7 L1560.0,1216.6 L1561.0,1214.8 L1562.0,1213.5 L1562.5,1213.1 L1563.0,1212.9 L1564.0,1212.5 L1565.0,1212.2 L1566.0,1212.0 L1566.4,1212.0 L1567.0,1212.2 L1568.0,1213.0 L1569.0,1214.3 L1569.8,1215.4 L1570.0,1215.8 L1571.0,1217.9 L1572.0,1220.8 L1573.0,1223.9 L1573.2,1224.5 L1574.0,1227.2 L1575.0,1231.1 L1576.0,1235.2 L1577.0,1239.1 L1577.8,1241.6 L1578.0,1242.4 L1579.0,1245.4 L1580.0,1248.3 L1581.0,1251.0 L1582.0,1253.4 L1583.0,1255.6 L1583.5,1256.4 L1584.0,1257.4 L1585.0,1259.0 L1586.0,1260.6 L1587.0,1261.9 L1588.0,1263.2 L1589.0,1264.3 L1590.0,1265.3 L1590.3,1265.6 L1591.0,1266.2 L1592.0,1267.0 L1593.0,1267.7 L1594.0,1268.4 L1595.0,1269.1 L1596.0,1269.7 L1597.0,1270.2 L1598.0,1270.7 L1599.0,1271.1 L1599.4,1271.3 L1600.0,1271.5 L1601.0,1271.8 L1602.0,1272.2 L1603.0,1272.5 L1604.0,1272.8 L1605.0,1273.0 L1606.0,1273.3 L1607.0,1273.5 L1608.0,1273.7 L1609.0,1273.9 L1610.0,1274.1 L1610.8,1274.2 L1611.0,1274.2 L1612.0,1274.4 L1613.0,1274.5 L1614.0,1274.6 L1615.0,1274.7 L1616.0,1274.8 L1617.0,1274.9 L1618.0,1275.0 L1619.0,1275.1 L1620.0,1275.2 L1621.0,1275.2 L1622.0,1275.3 L1622.2,1275.4 L1623.0,1275.4 L1624.0,1275.5 L1625.0,1275.6 L1626.0,1275.7 L1627.0,1275.8 L1628.0,1275.9 L1629.0,1276.0 L1630.0,1276.1 L1631.0,1276.2 L1631.3,1276.3 L1632.0,1276.4 L1633.0,1276.6 L1634.0,1277.0 L1635.0,1277.3 L1636.0,1277.7 L1637.0,1278.1 L1638.0,1278.5 L1639.0,1278.8 L1640.0,1279.1 L1640.4,1279.2 L1641.0,1279.4 L1642.0,1279.6 L1643.0,1279.8 L1644.0,1280.1 L1645.0,1280.3 L1646.0,1280.5 L1647.0,1280.6 L1648.0,1280.8 L1649.0,1280.8 L1649.6,1280.8 L1650.0,1280.8 L1651.0,1280.7 L1652.0,1280.4 L1653.0,1280.1 L1654.0,1279.7 L1655.0,1279.2 L1656.0,1278.7 L1656.4,1278.6 L1657.0,1278.2 L1658.0,1277.5 L1659.0,1276.5 L1660.0,1275.5 L1661.0,1274.6 L1662.0,1273.7 L1663.0,1273.0 L1663.2,1272.9 L1664.0,1272.5 L1665.0,1272.0 L1666.0,1271.5 L1667.0,1271.1 L1668.0,1270.9 L1668.9,1270.8 L1669.0,1270.8 L1670.0,1270.9 L1671.0,1271.0 L1672.0,1271.2 L1673.0,1271.4 L1674.0,1271.7 L1674.6,1271.9 L1675.0,1272.1 L1676.0,1272.7 L1677.0,1273.6 L1678.0,1274.6 L1679.0,1275.7 L1680.0,1276.8 L1681.0,1277.7 L1681.5,1278.1 L1682.0,1278.5 L1683.0,1279.3 L1684.0,1280.1 L1685.0,1280.8 L1686.0,1281.5 L1687.0,1281.9 L1688.0,1282.2 L1688.3,1282.2 L1689.0,1282.2 L1690.0,1282.2 L1691.0,1282.2 L1692.0,1282.1 L1693.0,1282.1 L1694.0,1282.1 L1695.0,1282.0 L1696.0,1282.0 L1697.0,1282.0 L1697.4,1282.0 L1698.0,1282.0 L1699.0,1281.9 L1700.0,1281.9 L1701.0,1281.8 L1702.0,1281.8 L1703.0,1281.7 L1704.0,1281.7 L1705.0,1281.6 L1706.0,1281.6 L1707.0,1281.5 L1708.0,1281.5 L1708.8,1281.5 L1709.0,1281.5 L1710.0,1281.5 L1711.0,1281.5 L1712.0,1281.6 L1713.0,1281.6 L1714.0,1281.6 L1715.0,1281.7 L1716.0,1281.7 L1717.0,1281.8 L1718.0,1281.8 L1719.0,1281.9 L1720.0,1282.0 L1720.2,1282.0 L1721.0,1282.0 L1722.0,1282.1 L1723.0,1282.2 L1724.0,1282.4 L1725.0,1282.5 L1726.0,1282.7 L1727.0,1282.8 L1728.0,1283.0 L1729.0,1283.2 L1730.0,1283.4 L1731.0,1283.7 L1731.6,1283.8 L1732.0,1283.9 L1733.0,1284.2 L1734.0,1284.5 L1735.0,1284.9 L1736.0,1285.4 L1737.0,1285.8 L1738.0,1286.3 L1739.0,1286.7 L1740.0,1287.2 L1741.0,1287.6 L1742.0,1288.0 L1743.0,1288.3 L1743.0,1288.4 L1744.0,1288.7 L1745.0,1289.0 L1746.0,1289.3 L1747.0,1289.7 L1748.0,1290.0 L1749.0,1290.2 L1750.0,1290.4 L1751.0,1290.6 L1752.0,1290.6 L1752.1,1290.6 L1753.0,1290.6 L1754.0,1290.5 L1755.0,1290.4 L1756.0,1290.2 L1757.0,1290.0 L1758.0,1289.7 L1759.0,1289.4 L1760.0,1289.1 L1760.1,1289.0 L1761.0,1288.6 L1762.0,1288.0 L1763.0,1287.2 L1764.0,1286.2 L1765.0,1285.1 L1766.0,1283.9 L1767.0,1282.7 L1767.0,1282.6 L1768.0,1281.2 L1769.0,1279.5 L1770.0,1277.6 L1771.0,1275.5 L1772.0,1273.3 L1773.0,1270.9 L1773.8,1269.0 L1774.0,1268.5 L1775.0,1265.8 L1776.0,1262.8 L1777.0,1259.6 L1778.0,1256.1 L1779.0,1252.5 L1779.5,1250.7 L1780.0,1248.8 L1781.0,1244.8 L1782.0,1240.6 L1783.0,1236.1 L1784.0,1231.4 L1785.0,1226.6 L1785.2,1225.7 L1786.0,1221.5 L1787.0,1216.1 L1788.0,1210.5 L1789.0,1204.8 L1789.7,1200.6 L1790.0,1199.2 L1791.0,1193.6 L1792.0,1188.1 L1793.0,1182.5 L1794.0,1177.1 L1794.3,1175.5 L1795.0,1171.8 L1796.0,1166.5 L1797.0,1161.2 L1798.0,1156.4 L1798.9,1152.7 L1799.0,1152.2 L1800.0,1148.3 L1801.0,1144.6 L1802.0,1141.7 L1802.7,1140.2 L1803.0,1139.8 L1804.0,1138.3 L1805.0,1137.1 L1806.0,1136.3 L1806.8,1136.1 L1807.0,1136.1 L1808.0,1136.2 L1809.0,1136.5 L1810.0,1136.8 L1811.0,1137.3 L1812.0,1137.7 L1812.5,1137.9 L1813.0,1138.1 L1814.0,1138.5 L1815.0,1138.9 L1816.0,1139.3 L1817.0,1139.8 L1818.0,1140.5 L1818.2,1140.6 L1819.0,1141.2 L1820.0,1142.2 L1821.0,1143.5 L1822.0,1145.2 L1822.3,1145.9 L1823.0,1147.9 L1824.0,1152.9 L1825.0,1158.8 L1825.5,1161.8 L1826.0,1164.3 L1827.0,1170.0 L1828.0,1175.8 L1829.0,1181.3 L1829.6,1184.6 L1830.0,1186.4 L1831.0,1191.2 L1832.0,1195.9 L1833.0,1200.4 L1834.0,1204.6 L1835.0,1208.5 L1835.3,1209.7 L1836.0,1212.0 L1837.0,1215.3 L1838.0,1218.5 L1839.0,1221.4 L1840.0,1224.3 L1841.0,1227.0 L1842.0,1229.7 L1842.2,1230.2 L1843.0,1232.4 L1844.0,1235.0 L1845.0,1237.6 L1846.0,1240.1 L1847.0,1242.5 L1848.0,1244.8 L1849.0,1247.1 L1850.0,1249.3 L1850.2,1249.6 L1851.0,1251.4 L1852.0,1253.4 L1853.0,1255.3 L1854.0,1257.1 L1855.0,1259.0 L1856.0,1260.8 L1857.0,1262.6 L1858.0,1264.4 L1859.0,1266.2 L1859.3,1266.7 L1860.0,1268.1 L1861.0,1270.0 L1862.0,1271.9 L1863.0,1273.9 L1864.0,1275.8 L1865.0,1277.6 L1866.0,1279.4 L1867.0,1281.1 L1867.3,1281.5 L1868.0,1282.8 L1869.0,1284.7 L1870.0,1286.6 L1871.0,1288.3 L1872.0,1289.6 L1873.0,1290.5 L1873.6,1290.6 L1874.0,1290.6 L1875.0,1289.8 L1876.0,1288.4 L1877.0,1286.6 L1877.8,1285.0 L1878.0,1284.6 L1879.0,1281.6 L1880.0,1277.4 L1880.8,1273.2 L1881.0,1271.9 L1882.0,1262.6 L1882.8,1253.4 L1883.0,1251.1 L1884.0,1238.2 L1884.7,1227.7 L1885.0,1222.7 L1886.0,1203.3 L1886.7,1188.2 L1887.0,1181.4 L1888.0,1156.6 L1888.3,1148.7 L1889.0,1129.0 L1889.7,1109.2 L1890.0,1101.4 L1891.0,1076.7 L1891.3,1069.6 L1892.0,1052.7 L1892.6,1040.0 L1893.0,1033.8 L1894.0,1020.3 L1894.2,1016.7 L1895.0,995.6 L1896.0,959.9 L1896.6,937.6 L1897.0,922.4 L1898.0,881.3 L1898.6,858.6 L1899.0,844.6 L1900.0,813.6 L1900.2,809.0 L1901.0,794.2 L1901.5,788.0 L1902.0,794.6 L1902.9,809.0 L1903.0,810.8 L1904.0,832.0 L1905.0,856.2 L1905.1,858.6 L1906.0,882.0 L1907.0,909.5 L1908.0,935.3 L1908.1,937.6 L1909.0,957.7 L1910.0,978.6 L1911.0,998.2 L1912.0,1016.7 L1913.0,1033.6 L1913.4,1040.0 L1914.0,1049.3 L1915.0,1064.1 L1915.4,1069.6 L1916.0,1077.7 L1917.0,1090.8 L1918.0,1102.3 L1918.3,1105.2 L1919.0,1111.5 L1920.0,1119.6 L1921.0,1126.7 L1922.0,1133.1 L1922.3,1134.9 L1923.0,1138.9 L1924.0,1144.2 L1925.0,1149.1 L1926.0,1153.6 L1927.0,1157.8 L1927.2,1158.6 L1928.0,1161.7 L1929.0,1165.2 L1930.0,1168.6 L1931.0,1171.8 L1932.0,1174.8 L1933.0,1177.7 L1933.2,1178.3 L1934.0,1180.6 L1935.0,1183.4 L1936.0,1186.0 L1937.0,1188.6 L1938.0,1191.1 L1939.0,1193.6 L1940.0,1195.9 L1940.1,1196.1 L1941.0,1198.1 L1942.0,1200.2 L1943.0,1202.3 L1944.0,1204.3 L1945.0,1206.2 L1946.0,1208.2 L1947.0,1210.1 L1948.0,1212.0 L1949.0,1213.9 L1950.0,1215.9 L1951.0,1217.8 L1952.0,1219.7 L1953.0,1221.6 L1954.0,1223.4 L1955.0,1225.2 L1955.9,1226.8 L1956.0,1227.0 L1957.0,1228.7 L1958.0,1230.4 L1959.0,1232.1 L1960.0,1233.7 L1961.0,1235.3 L1962.0,1236.9 L1963.0,1238.4 L1963.8,1239.6 L1964.0,1239.9 L1965.0,1241.3 L1966.0,1242.7 L1967.0,1244.1 L1968.0,1245.5 L1969.0,1246.8 L1970.0,1248.1 L1971.0,1249.4 L1972.0,1250.6 L1972.7,1251.5 L1973.0,1251.9 L1974.0,1253.1 L1975.0,1254.3 L1976.0,1255.5 L1977.0,1256.6 L1978.0,1257.8 L1979.0,1258.9 L1980.0,1260.0" stroke="#000000" stroke-width="7.0"/>
<path d="M150.3,1216.5 L151.0,1216.9 L152.0,1217.5 L153.0,1218.1 L154.0,1218.8 L155.0,1219.5 L156.0,1220.3 L157.0,1221.0 L157.1,1221.1 L158.0,1221.9 L159.0,1222.9 L160.0,1223.9 L161.0,1225.0 L162.0,1226.1 L163.0,1227.2 L164.0,1228.2 L165.0,1229.0 L165.1,1229.1 L166.0,1229.8 L167.0,1230.6 L168.0,1231.4 L169.0,1232.1 L170.0,1232.8 L171.0,1233.3 L171.9,1233.6 L172.0,1233.7 L173.0,1234.0 L174.0,1234.2 L175.0,1234.5 L176.0,1234.7 L177.0,1234.8 L177.6,1234.8 L178.0,1234.8 L179.0,1234.7 L180.0,1234.5 L181.0,1234.3 L182.0,1234.0 L183.0,1233.7 L184.0,1233.3 L185.0,1233.0 L186.0,1232.8 L187.0,1232.6 L187.9,1232.5 L188.0,1232.5 L189.0,1232.4 L190.0,1232.4 L191.0,1232.4 L192.0,1232.3 L193.0,1232.3 L194.0,1232.3 L195.0,1232.3 L196.0,1232.2 L197.0,1232.2 L198.0,1232.1 L199.0,1232.1 L199.3,1232.0 L200.0,1231.9 L201.0,1231.7 L202.0,1231.3 L203.0,1230.8 L204.0,1230.3 L205.0,1229.7 L206.0,1229.1 L206.1,1229.1 L207.0,1228.5 L208.0,1227.8 L209.0,1227.0 L210.0,1226.2 L211.0,1225.3 L212.0,1224.3 L213.0,1223.3 L214.0,1222.3 L215.0,1221.3 L215.2,1221.1 L216.0,1220.3 L217.0,1219.3 L218.0,1218.2 L219.0,1217.1 L220.0,1216.0 L221.0,1214.8 L222.0,1213.6 L223.0,1212.4 L224.0,1211.3 L224.3,1210.9 L225.0,1210.1 L226.0,1208.8 L227.0,1207.6 L228.0,1206.3 L229.0,1205.0 L230.0,1203.7 L231.0,1202.5 L232.0,1201.2 L233.0,1200.0 L233.5,1199.5 L234.0,1198.8 L235.0,1197.6 L236.0,1196.4 L237.0,1195.2 L238.0,1194.0 L239.0,1192.9 L240.0,1191.8 L241.0,1190.7 L242.0,1189.7 L242.6,1189.2 L243.0,1188.8 L244.0,1187.9 L245.0,1187.0 L246.0,1186.1 L247.0,1185.3 L248.0,1184.6 L249.0,1183.9 L250.0,1183.3 L250.6,1183.0 L251.0,1182.8 L252.0,1182.4 L253.0,1181.9 L254.0,1181.5 L255.0,1181.2 L256.0,1180.9 L257.0,1180.8 L257.4,1180.8 L258.0,1180.8 L259.0,1180.8 L260.0,1180.9 L261.0,1181.1 L262.0,1181.2 L263.0,1181.4 L264.0,1181.6 L264.2,1181.7 L265.0,1181.9 L266.0,1182.2 L267.0,1182.7 L268.0,1183.2 L269.0,1183.8 L270.0,1184.4 L271.0,1185.1 L272.0,1185.7 L272.2,1185.8 L273.0,1186.2 L274.0,1186.9 L275.0,1187.6 L276.0,1188.2 L277.0,1188.9 L278.0,1189.6 L279.0,1190.2 L280.0,1190.8 L281.0,1191.3 L281.3,1191.5 L282.0,1191.8 L283.0,1192.2 L284.0,1192.7 L285.0,1193.1 L286.0,1193.4 L287.0,1193.6 L288.0,1193.8 L288.2,1193.8 L289.0,1193.7 L290.0,1193.6 L291.0,1193.4 L292.0,1193.2 L293.0,1192.9 L294.0,1192.5 L295.0,1192.2 L295.0,1192.2 L296.0,1191.7 L297.0,1191.0 L298.0,1190.1 L299.0,1189.1 L300.0,1188.1 L301.0,1187.0 L301.8,1186.2 L302.0,1186.1 L303.0,1185.1 L304.0,1184.0 L305.0,1182.9 L306.0,1181.8 L307.0,1180.8 L308.0,1179.9 L308.7,1179.4 L309.0,1179.2 L310.0,1178.5 L311.0,1177.9 L312.0,1177.3 L313.0,1176.9 L314.0,1176.7 L314.4,1176.7 L315.0,1176.7 L316.0,1176.9 L317.0,1177.1 L318.0,1177.5 L319.0,1177.8 L320.0,1178.1 L321.0,1178.2 L321.2,1178.3 L322.0,1178.3 L323.0,1178.4 L324.0,1178.4 L325.0,1178.5 L325.8,1178.5 L326.0,1178.5 L327.0,1178.2 L328.0,1177.5 L329.0,1176.7 L330.0,1175.7 L331.0,1174.8 L331.5,1174.4 L332.0,1173.9 L333.0,1173.0 L334.0,1171.9 L335.0,1170.8 L336.0,1169.8 L337.0,1168.7 L338.0,1167.8 L338.3,1167.5 L339.0,1167.0 L340.0,1166.3 L341.0,1165.6 L342.0,1164.9 L343.0,1164.3 L344.0,1163.7 L345.0,1163.0 L346.0,1162.4 L347.0,1161.7 L347.4,1161.4 L348.0,1161.0 L349.0,1160.1 L350.0,1159.3 L351.0,1158.4 L352.0,1157.5 L353.0,1156.6 L354.0,1155.7 L355.0,1154.9 L356.0,1154.2 L356.5,1153.9 L357.0,1153.6 L358.0,1153.0 L359.0,1152.4 L360.0,1151.8 L361.0,1151.3 L362.0,1150.8 L363.0,1150.4 L364.0,1150.1 L364.5,1150.0 L365.0,1149.9 L366.0,1149.7 L367.0,1149.5 L368.0,1149.3 L369.0,1149.1 L370.0,1149.0 L371.0,1148.9 L372.0,1148.8 L373.0,1148.7 L374.0,1148.6 L374.8,1148.6 L375.0,1148.6 L376.0,1148.7 L377.0,1148.9 L378.0,1149.2 L379.0,1149.5 L380.0,1149.9 L381.0,1150.2 L381.6,1150.4 L382.0,1150.6 L383.0,1151.0 L384.0,1151.5 L385.0,1152.1 L386.0,1152.6 L387.0,1152.9 L388.0,1153.2 L388.5,1153.2 L389.0,1153.2 L390.0,1153.1 L391.0,1153.1 L392.0,1153.0 L393.0,1152.9 L394.0,1152.7 L394.2,1152.7 L395.0,1152.4 L396.0,1151.5 L397.0,1150.6 L398.0,1149.7 L398.7,1149.3 L399.0,1149.2 L400.0,1148.9 L401.0,1148.6 L402.0,1148.4 L403.0,1148.3 L404.0,1148.2 L404.4,1148.2 L405.0,1148.2 L406.0,1148.7 L407.0,1149.5 L408.0,1150.5 L409.0,1151.5 L410.0,1152.6 L410.1,1152.7 L411.0,1153.8 L412.0,1155.2 L413.0,1156.8 L414.0,1158.4 L415.0,1159.9 L416.0,1161.3 L417.0,1162.3 L417.0,1162.3 L418.0,1163.2 L419.0,1164.1 L420.0,1164.9 L421.0,1165.5 L422.0,1165.9 L422.7,1165.9 L423.0,1165.9 L424.0,1165.9 L425.0,1165.9 L426.0,1165.8 L427.0,1165.7 L428.0,1165.6 L429.0,1165.5 L430.0,1165.5 L431.0,1165.4 L432.0,1165.3 L433.0,1165.3 L434.0,1165.3 L434.1,1165.3 L435.0,1165.4 L436.0,1165.6 L437.0,1166.0 L438.0,1166.4 L439.0,1166.8 L440.0,1167.2 L441.0,1167.4 L442.0,1167.5 L442.0,1167.5 L443.0,1167.5 L444.0,1167.5 L445.0,1167.5 L446.0,1167.5 L447.0,1167.5 L448.0,1167.5 L448.9,1167.5 L449.0,1167.5 L450.0,1166.4 L451.0,1163.8 L452.0,1160.2 L452.7,1157.3 L453.0,1156.1 L454.0,1149.6 L455.0,1141.0 L455.7,1134.5 L456.0,1131.6 L457.0,1120.4 L458.0,1108.1 L458.7,1100.3 L459.0,1096.6 L460.0,1085.0 L461.0,1074.0 L461.9,1066.1 L462.0,1065.0 L463.0,1056.8 L464.0,1049.9 L464.8,1046.7 L465.0,1046.4 L466.0,1044.8 L466.6,1044.4 L467.0,1044.6 L468.0,1046.8 L468.7,1049.0 L469.0,1050.3 L470.0,1057.3 L471.0,1066.7 L471.7,1072.9 L472.0,1076.0 L473.0,1085.9 L474.0,1096.2 L475.0,1106.4 L475.1,1107.1 L476.0,1116.0 L477.0,1125.4 L478.0,1134.6 L478.5,1139.0 L479.0,1143.6 L480.0,1153.0 L481.0,1160.6 L481.2,1161.8 L482.0,1165.4 L483.0,1169.4 L484.0,1171.8 L484.2,1172.1 L485.0,1172.9 L486.0,1173.8 L487.0,1174.3 L487.6,1174.4 L488.0,1174.3 L489.0,1173.1 L490.0,1171.4 L491.0,1169.9 L491.0,1169.8 L492.0,1168.7 L493.0,1167.6 L494.0,1167.1 L494.0,1167.1 L495.0,1167.7 L496.0,1169.4 L497.0,1171.6 L497.2,1172.1 L498.0,1175.4 L499.0,1181.7 L500.0,1188.3 L500.2,1189.2 L501.0,1193.9 L502.0,1199.5 L503.0,1204.9 L504.0,1209.6 L504.0,1209.7 L505.0,1213.8 L506.0,1217.6 L507.0,1221.1 L508.0,1224.2 L508.1,1224.5 L509.0,1226.9 L510.0,1229.5 L511.0,1231.8 L512.0,1234.0 L513.0,1235.8 L513.8,1237.1 L514.0,1237.3 L515.0,1238.7 L516.0,1240.1 L517.0,1241.2 L518.0,1242.2 L519.0,1242.7 L519.5,1242.8 L520.0,1242.8 L521.0,1242.8 L522.0,1242.8 L523.0,1242.8 L524.0,1242.8 L525.0,1242.8 L526.0,1242.8 L526.4,1242.8 L527.0,1242.7 L528.0,1242.7 L529.0,1242.5 L530.0,1242.4 L531.0,1242.2 L532.0,1242.1 L533.0,1242.1 L533.2,1242.1 L534.0,1242.2 L535.0,1242.5 L536.0,1242.9 L537.0,1243.5 L538.0,1244.0 L539.0,1244.5 L540.0,1244.9 L541.0,1245.0 L541.2,1245.0 L542.0,1245.0 L543.0,1245.0 L544.0,1245.0 L545.0,1245.0 L546.0,1245.0 L547.0,1245.0 L548.0,1245.0 L548.0,1245.0 L549.0,1244.9 L550.0,1244.6 L551.0,1244.2 L552.0,1243.6 L553.0,1243.0 L554.0,1242.3 L555.0,1241.7 L556.0,1241.1 L557.0,1240.5 L557.1,1240.5 L558.0,1240.1 L559.0,1239.7 L560.0,1239.3 L561.0,1238.9 L562.0,1238.5 L563.0,1238.2 L564.0,1237.8 L565.0,1237.5 L566.0,1237.1 L566.3,1237.1 L567.0,1236.8 L568.0,1236.6 L569.0,1236.3 L570.0,1236.1 L571.0,1235.9 L572.0,1235.7 L573.0,1235.5 L574.0,1235.2 L575.0,1235.0 L576.0,1234.7 L577.0,1234.3 L577.7,1234.1 L578.0,1234.0 L579.0,1233.5 L580.0,1233.0 L581.0,1232.4 L582.0,1231.7 L583.0,1231.0 L584.0,1230.2 L585.0,1229.4 L586.0,1228.6 L586.8,1227.9 L587.0,1227.8 L588.0,1226.8 L589.0,1225.8 L590.0,1224.8 L591.0,1223.6 L592.0,1222.5 L593.0,1221.3 L593.6,1220.7 L594.0,1220.2 L595.0,1219.1 L596.0,1217.9 L597.0,1216.7 L598.0,1215.5 L599.0,1214.3 L600.0,1213.1 L600.0,1213.1 L601.0,1212.0 L602.0,1210.9 L603.0,1209.9 L604.0,1208.8 L605.0,1207.8 L606.0,1206.7 L607.0,1205.5 L608.0,1204.3 L608.2,1204.0 L609.0,1203.0 L610.0,1201.7 L611.0,1200.3 L612.0,1198.8 L613.0,1197.3 L614.0,1195.6 L615.0,1193.9 L615.1,1193.8 L616.0,1192.0 L617.0,1190.0 L618.0,1187.7 L619.0,1185.2 L619.6,1183.5 L620.0,1182.5 L621.0,1179.5 L622.0,1176.0 L623.0,1171.2 L623.1,1171.0 L624.0,1163.7 L625.0,1152.4 L625.3,1148.2 L626.0,1137.3 L627.0,1117.1 L627.2,1114.0 L628.0,1096.5 L628.8,1079.8 L629.0,1073.8 L630.0,1048.3 L630.1,1045.6 L631.0,1027.9 L631.3,1022.8 L632.0,1009.5 L632.4,1000.0 L633.0,969.7 L633.3,953.5 L634.0,927.8 L634.9,896.5 L635.0,892.8 L636.0,849.6 L636.3,839.6 L637.0,816.1 L637.4,807.6 L638.0,801.2 L638.6,798.5 L639.0,799.1 L640.0,803.4 L640.1,804.2 L641.0,813.8 L641.7,825.9 L642.0,830.3 L643.0,850.8 L643.6,862.4 L644.0,870.6 L645.0,889.3 L645.8,903.4 L646.0,905.7 L647.0,920.0 L648.0,932.8 L648.8,942.1 L649.0,944.2 L650.0,954.7 L651.0,964.1 L652.0,971.8 L652.0,971.8 L653.0,978.0 L654.0,983.6 L655.0,988.0 L655.6,990.0 L656.0,990.9 L657.0,993.3 L658.0,995.3 L659.0,996.6 L659.5,996.8 L660.0,997.0 L661.0,997.1 L662.0,997.3 L662.9,997.3 L663.0,997.3 L664.0,997.0 L665.0,996.2 L666.0,995.1 L667.0,994.0 L667.5,993.4 L668.0,992.9 L669.0,991.6 L670.0,990.2 L671.0,988.7 L672.0,987.1 L673.0,985.5 L674.0,983.8 L674.3,983.2 L675.0,982.0 L676.0,980.2 L677.0,978.4 L678.0,976.4 L679.0,974.3 L680.0,972.2 L681.0,969.9 L681.2,969.5 L682.0,967.6 L683.0,965.3 L684.0,962.8 L685.0,960.1 L686.0,956.8 L686.9,953.5 L687.0,953.0 L688.0,948.1 L689.0,941.6 L690.0,933.5 L690.3,930.7 L691.0,922.6 L692.0,907.0 L692.6,896.5 L693.0,887.8 L694.0,862.5 L694.4,851.0 L695.0,831.0 L696.0,794.0 L696.0,793.8 L697.0,758.7 L697.6,737.0 L698.0,720.2 L699.0,680.0 L699.0,678.4 L700.0,640.8 L701.0,611.0 L701.0,610.7 L702.0,593.2 L702.4,587.9 L703.0,579.8 L704.0,569.7 L704.0,569.5 L705.0,563.3 L705.1,562.9 L706.0,569.5 L706.3,572.0 L707.0,582.9 L707.8,597.1 L708.0,599.2 L709.0,612.6 L709.2,615.3 L710.0,624.8 L710.8,633.5 L711.0,635.3 L712.0,643.8 L713.0,651.2 L713.8,656.3 L714.0,657.7 L715.0,663.2 L716.0,668.0 L717.0,672.7 L718.0,678.0 L718.3,680.0 L719.0,684.4 L720.0,692.0 L721.0,700.1 L722.0,708.0 L722.2,709.6 L723.0,715.6 L724.0,723.1 L725.0,730.6 L726.0,738.1 L726.8,743.8 L727.0,745.6 L728.0,753.2 L729.0,760.8 L730.0,768.3 L731.0,775.7 L731.3,778.0 L732.0,782.8 L733.0,789.7 L734.0,796.5 L735.0,803.2 L736.0,809.8 L737.0,816.6 L737.0,816.8 L738.0,823.5 L739.0,830.6 L740.0,837.7 L741.0,844.6 L742.0,851.1 L742.7,855.5 L743.0,857.1 L744.0,862.8 L745.0,868.3 L746.0,873.5 L747.0,878.5 L748.0,883.2 L748.4,885.2 L749.0,887.8 L750.0,892.2 L751.0,896.5 L752.0,900.6 L753.0,904.3 L754.0,907.6 L754.1,907.9 L755.0,910.5 L756.0,913.2 L757.0,915.7 L758.0,918.0 L759.0,920.1 L760.0,922.1 L761.0,923.9 L761.0,924.0 L762.0,925.7 L763.0,927.4 L764.0,928.9 L765.0,930.4 L766.0,931.8 L767.0,933.1 L768.0,934.3 L768.9,935.3 L769.0,935.4 L770.0,936.4 L771.0,937.3 L772.0,938.2 L773.0,939.1 L774.0,939.9 L775.0,940.7 L776.0,941.4 L776.9,942.1 L777.0,942.2 L778.0,942.9 L779.0,943.7 L780.0,944.3 L781.0,945.0 L782.0,945.7 L783.0,946.4 L784.0,947.1 L784.9,947.8 L785.0,947.9 L786.0,948.9 L787.0,949.9 L788.0,951.0 L789.0,952.2 L790.0,953.2 L791.0,954.1 L791.7,954.7 L792.0,954.9 L793.0,955.6 L794.0,956.3 L795.0,956.9 L796.0,957.4 L797.0,957.6 L797.4,957.6 L798.0,957.6 L799.0,957.6 L800.0,957.5 L801.0,957.4 L802.0,957.3 L803.0,957.2 L804.0,957.1 L805.0,957.0 L806.0,957.0 L806.5,957.0 L807.0,957.0 L808.0,957.0 L809.0,957.0 L810.0,957.0 L811.0,957.0 L812.0,957.0 L813.0,957.0 L814.0,957.0 L815.0,957.0 L815.7,957.0 L816.0,956.9 L817.0,956.7 L818.0,956.2 L819.0,955.6 L820.0,954.9 L821.0,954.3 L822.0,953.7 L822.5,953.5 L823.0,953.4 L824.0,953.0 L825.0,952.7 L826.0,952.4 L827.0,952.2 L828.0,952.0 L829.0,951.9 L829.3,951.9 L830.0,952.0 L831.0,952.0 L832.0,952.2 L833.0,952.4 L834.0,952.6 L835.0,952.8 L836.0,953.1 L837.0,953.4 L837.3,953.5 L838.0,953.8 L839.0,954.3 L840.0,954.9 L841.0,955.6 L842.0,956.3 L843.0,957.2 L844.0,958.1 L845.0,959.0 L845.3,959.2 L846.0,959.9 L847.0,961.0 L848.0,962.2 L849.0,963.5 L850.0,964.9 L851.0,966.3 L852.0,967.6 L853.0,968.9 L854.0,970.2 L854.4,970.6 L855.0,971.3 L856.0,972.3 L857.0,973.2 L858.0,974.2 L859.0,975.1 L860.0,976.0 L861.0,976.9 L862.0,977.9 L863.0,978.9 L864.0,980.1 L864.7,980.9 L865.0,981.3 L866.0,982.7 L867.0,984.3 L868.0,986.1 L869.0,987.9 L870.0,989.7 L871.0,991.6 L872.0,993.4 L872.7,994.6 L873.0,995.2 L874.0,997.1 L875.0,999.2 L876.0,1001.2 L877.0,1003.2 L878.0,1004.9 L879.0,1006.3 L879.5,1006.8 L880.0,1007.3 L881.0,1008.3 L882.0,1009.2 L883.0,1009.9 L884.0,1010.4 L885.0,1010.7 L885.2,1010.7 L886.0,1010.8 L887.0,1010.8 L888.0,1010.8 L889.0,1010.8 L890.0,1010.9 L891.0,1010.9 L892.0,1010.9 L893.0,1010.9 L893.2,1010.9 L894.0,1011.0 L895.0,1011.0 L896.0,1011.1 L897.0,1011.2 L898.0,1011.3 L898.9,1011.4 L899.0,1011.4 L900.0,1011.8 L901.0,1012.5 L902.0,1013.5 L903.0,1014.6 L904.0,1015.6 L905.0,1016.6 L905.7,1017.1 L906.0,1017.3 L907.0,1018.0 L908.0,1018.8 L909.0,1019.5 L910.0,1020.2 L911.0,1020.6 L912.0,1020.9 L912.5,1021.0 L913.0,1021.0 L914.0,1020.9 L915.0,1020.8 L916.0,1020.6 L917.0,1020.4 L918.0,1020.3 L919.0,1020.1 L920.0,1020.1 L920.5,1020.1 L921.0,1020.1 L922.0,1020.2 L923.0,1020.3 L924.0,1020.6 L925.0,1020.8 L926.0,1021.2 L927.0,1021.5 L927.4,1021.7 L928.0,1021.9 L929.0,1022.6 L930.0,1023.5 L931.0,1024.5 L932.0,1025.6 L933.0,1026.8 L934.0,1028.1 L935.0,1029.2 L935.3,1029.6 L936.0,1030.4 L937.0,1031.7 L938.0,1033.0 L939.0,1034.3 L940.0,1035.7 L941.0,1037.1 L942.0,1038.3 L943.0,1039.5 L943.3,1039.9 L944.0,1040.6 L945.0,1041.7 L946.0,1042.7 L947.0,1043.6 L948.0,1044.6 L949.0,1045.5 L950.0,1046.4 L951.0,1047.3 L952.0,1048.2 L953.0,1049.1 L954.0,1050.0 L954.7,1050.6 L955.0,1050.9 L956.0,1051.8 L957.0,1052.7 L958.0,1053.6 L959.0,1054.5 L960.0,1055.4 L961.0,1056.3 L962.0,1057.1 L963.0,1058.0 L964.0,1058.8 L965.0,1059.6 L966.0,1060.3 L966.1,1060.4 L967.0,1061.0 L968.0,1061.7 L969.0,1062.4 L970.0,1063.0 L971.0,1063.7 L972.0,1064.3 L973.0,1064.9 L974.0,1065.5 L975.0,1066.1 L976.0,1066.7 L977.0,1067.4 L977.5,1067.7 L978.0,1068.0 L979.0,1068.7 L980.0,1069.4 L981.0,1070.1 L982.0,1070.8 L983.0,1071.5 L984.0,1072.1 L985.0,1072.7 L985.5,1072.9 L986.0,1073.2 L987.0,1073.7 L988.0,1074.2 L989.0,1074.6 L990.0,1074.8 L990.0,1074.8 L991.0,1074.6 L992.0,1074.1 L993.0,1073.6 L994.0,1073.0 L995.0,1072.6 L995.7,1072.5 L996.0,1072.5 L997.0,1072.5 L998.0,1072.6 L999.0,1072.6 L1000.0,1072.8 L1001.0,1072.9 L1001.4,1072.9 L1002.0,1073.1 L1003.0,1073.8 L1004.0,1074.8 L1005.0,1076.1 L1006.0,1077.3 L1007.0,1078.5 L1007.1,1078.6 L1008.0,1079.5 L1009.0,1080.5 L1010.0,1081.6 L1011.0,1082.6 L1012.0,1083.6 L1013.0,1084.6 L1014.0,1085.5 L1014.0,1085.5 L1015.0,1086.4 L1016.0,1087.2 L1017.0,1088.0 L1018.0,1088.8 L1019.0,1089.6 L1020.0,1090.2 L1020.8,1090.7 L1021.0,1090.8 L1022.0,1091.3 L1023.0,1091.8 L1024.0,1092.3 L1025.0,1092.7 L1026.0,1093.1 L1027.0,1093.5 L1028.0,1093.8 L1029.0,1094.2 L1029.9,1094.6 L1030.0,1094.6 L1031.0,1095.0 L1032.0,1095.4 L1033.0,1095.7 L1034.0,1096.1 L1035.0,1096.4 L1036.0,1096.8 L1037.0,1097.1 L1038.0,1097.5 L1039.0,1098.0 L1039.1,1098.0 L1040.0,1098.5 L1041.0,1099.0 L1042.0,1099.6 L1043.0,1100.3 L1044.0,1100.9 L1045.0,1101.6 L1046.0,1102.3 L1047.0,1103.0 L1048.0,1103.6 L1049.0,1104.3 L1050.0,1104.9 L1050.0,1104.9 L1051.0,1105.4 L1052.0,1106.0 L1053.0,1106.5 L1054.0,1107.1 L1055.0,1107.6 L1056.0,1108.2 L1057.0,1108.7 L1058.0,1109.3 L1058.2,1109.4 L1059.0,1109.8 L1060.0,1110.4 L1061.0,1111.0 L1062.0,1111.6 L1063.0,1112.2 L1064.0,1112.8 L1065.0,1113.4 L1066.0,1113.9 L1067.0,1114.5 L1067.4,1114.7 L1068.0,1115.0 L1069.0,1115.6 L1070.0,1116.2 L1071.0,1116.8 L1072.0,1117.4 L1073.0,1117.9 L1074.0,1118.4 L1075.0,1118.7 L1076.0,1118.9 L1076.5,1119.0 L1077.0,1119.0 L1078.0,1119.1 L1079.0,1119.1 L1080.0,1119.1 L1081.0,1119.2 L1082.0,1119.2 L1083.0,1119.2 L1084.0,1119.2 L1084.4,1119.2 L1085.0,1119.2 L1086.0,1119.0 L1087.0,1118.6 L1088.0,1118.2 L1089.0,1117.6 L1090.0,1117.0 L1091.0,1116.4 L1091.3,1116.3 L1092.0,1115.8 L1093.0,1115.0 L1094.0,1114.2 L1095.0,1113.2 L1096.0,1112.3 L1097.0,1111.4 L1098.0,1110.6 L1098.1,1110.6 L1099.0,1109.9 L1100.0,1109.1 L1101.0,1108.4 L1102.0,1107.7 L1103.0,1107.1 L1104.0,1106.6 L1105.0,1106.5 L1105.0,1106.4 L1106.0,1106.4 L1107.0,1106.3 L1108.0,1106.3 L1109.0,1106.3 L1110.0,1106.3 L1111.0,1106.2 L1112.0,1106.2 L1113.0,1106.2 L1114.0,1106.2 L1115.0,1106.2 L1116.0,1106.1 L1117.0,1106.1 L1118.0,1106.0 L1118.6,1106.0 L1119.0,1105.9 L1120.0,1105.5 L1121.0,1104.7 L1122.0,1103.8 L1123.0,1102.8 L1123.2,1102.6 L1124.0,1101.6 L1125.0,1100.0 L1126.0,1098.3 L1127.0,1096.7 L1127.8,1095.7 L1128.0,1095.5 L1129.0,1094.4 L1130.0,1093.5 L1131.0,1093.0 L1131.2,1093.0 L1132.0,1093.0 L1133.0,1093.2 L1134.0,1093.4 L1135.0,1093.8 L1135.3,1093.9 L1136.0,1094.7 L1137.0,1097.2 L1138.0,1100.1 L1138.5,1101.4 L1139.0,1102.8 L1140.0,1105.7 L1141.0,1108.7 L1142.0,1111.4 L1142.1,1111.7 L1143.0,1113.9 L1144.0,1116.4 L1145.0,1118.6 L1146.0,1120.4 L1146.0,1120.4 L1147.0,1121.8 L1148.0,1123.0 L1149.0,1124.1 L1150.0,1125.0 L1151.0,1125.9 L1151.7,1126.5 L1152.0,1126.8 L1153.0,1127.7 L1154.0,1128.6 L1155.0,1129.4 L1156.0,1130.0 L1157.0,1130.4 L1157.4,1130.4 L1158.0,1130.4 L1159.0,1130.3 L1160.0,1130.1 L1161.0,1129.8 L1162.0,1129.5 L1162.0,1129.5 L1163.0,1128.6 L1164.0,1127.1 L1165.0,1125.2 L1166.0,1123.2 L1166.1,1123.1 L1167.0,1120.9 L1168.0,1118.0 L1169.0,1115.3 L1169.9,1113.3 L1170.0,1113.2 L1171.0,1111.4 L1172.0,1109.9 L1173.0,1109.0 L1173.3,1109.0 L1174.0,1109.0 L1175.0,1109.2 L1176.0,1109.5 L1176.8,1109.9 L1177.0,1110.0 L1178.0,1111.6 L1179.0,1114.2 L1180.0,1116.9 L1180.2,1117.4 L1181.0,1119.5 L1182.0,1122.4 L1183.0,1125.3 L1184.0,1128.1 L1184.7,1129.9 L1185.0,1130.5 L1186.0,1132.8 L1187.0,1134.9 L1188.0,1136.9 L1189.0,1138.6 L1189.3,1139.0 L1190.0,1140.1 L1191.0,1141.4 L1192.0,1142.7 L1193.0,1143.9 L1194.0,1145.0 L1195.0,1146.0 L1196.0,1146.9 L1196.1,1147.0 L1197.0,1147.8 L1198.0,1148.6 L1199.0,1149.4 L1200.0,1150.2 L1201.0,1150.9 L1202.0,1151.6 L1203.0,1152.2 L1204.0,1152.7 L1204.1,1152.7 L1205.0,1153.1 L1206.0,1153.5 L1207.0,1153.9 L1208.0,1154.3 L1209.0,1154.7 L1210.0,1155.0 L1211.0,1155.2 L1212.0,1155.5 L1213.0,1155.6 L1213.2,1155.7 L1214.0,1155.8 L1215.0,1156.0 L1216.0,1156.1 L1217.0,1156.2 L1218.0,1156.3 L1219.0,1156.4 L1220.0,1156.5 L1221.0,1156.6 L1222.0,1156.6 L1222.4,1156.6 L1223.0,1156.6 L1224.0,1156.6 L1225.0,1156.5 L1226.0,1156.5 L1227.0,1156.4 L1228.0,1156.4 L1229.0,1156.3 L1230.0,1156.2 L1231.0,1156.2 L1231.5,1156.1 L1232.0,1156.1 L1233.0,1156.0 L1234.0,1155.9 L1235.0,1155.7 L1236.0,1155.6 L1237.0,1155.5 L1238.0,1155.5 L1238.3,1155.5 L1239.0,1155.5 L1240.0,1155.7 L1241.0,1156.0 L1242.0,1156.4 L1243.0,1156.8 L1244.0,1157.3 L1245.0,1157.7 L1245.2,1157.7 L1246.0,1158.1 L1247.0,1158.5 L1248.0,1159.0 L1249.0,1159.5 L1250.0,1160.0 L1251.0,1160.5 L1252.0,1160.8 L1253.0,1161.1 L1253.1,1161.2 L1254.0,1161.3 L1255.0,1161.6 L1256.0,1161.7 L1257.0,1161.9 L1258.0,1162.1 L1259.0,1162.2 L1260.0,1162.3 L1261.0,1162.3 L1261.1,1162.3 L1262.0,1162.3 L1263.0,1162.3 L1264.0,1162.2 L1265.0,1162.2 L1266.0,1162.1 L1267.0,1162.1 L1268.0,1162.0 L1269.0,1161.9 L1270.0,1161.9 L1270.2,1161.8 L1271.0,1161.8 L1272.0,1161.6 L1273.0,1161.4 L1274.0,1161.2 L1275.0,1160.9 L1276.0,1160.6 L1277.0,1160.3 L1277.1,1160.2 L1278.0,1159.8 L1279.0,1159.3 L1280.0,1158.5 L1281.0,1157.7 L1282.0,1156.8 L1283.0,1155.9 L1283.9,1155.0 L1284.0,1154.9 L1285.0,1153.8 L1286.0,1152.6 L1287.0,1151.2 L1288.0,1149.8 L1289.0,1148.3 L1290.0,1146.9 L1290.7,1145.9 L1291.0,1145.5 L1292.0,1144.2 L1293.0,1143.0 L1294.0,1141.7 L1295.0,1140.4 L1296.0,1139.1 L1297.0,1137.6 L1297.6,1136.8 L1298.0,1136.1 L1299.0,1134.4 L1300.0,1132.5 L1301.0,1130.6 L1302.0,1128.7 L1303.0,1127.0 L1303.3,1126.5 L1304.0,1125.3 L1305.0,1123.4 L1306.0,1121.7 L1307.0,1120.4 L1307.8,1119.7 L1308.0,1119.6 L1309.0,1119.1 L1310.0,1118.7 L1311.0,1118.5 L1311.3,1118.5 L1312.0,1118.7 L1313.0,1119.5 L1314.0,1120.6 L1315.0,1121.8 L1315.1,1122.0 L1316.0,1123.2 L1317.0,1125.0 L1318.0,1127.2 L1319.0,1129.4 L1320.0,1131.5 L1320.4,1132.2 L1321.0,1133.4 L1322.0,1135.2 L1323.0,1137.0 L1324.0,1138.8 L1325.0,1140.6 L1326.0,1142.5 L1327.0,1144.3 L1327.2,1144.7 L1328.0,1146.3 L1329.0,1148.5 L1330.0,1150.7 L1331.0,1152.9 L1332.0,1154.8 L1332.9,1156.1 L1333.0,1156.3 L1334.0,1157.6 L1335.0,1158.7 L1336.0,1159.7 L1337.0,1160.5 L1337.5,1160.7 L1338.0,1160.9 L1339.0,1161.2 L1340.0,1161.3 L1341.0,1161.5 L1342.0,1161.7 L1343.0,1161.9 L1344.0,1162.2 L1344.3,1162.3 L1345.0,1162.8 L1346.0,1164.0 L1347.0,1165.7 L1348.0,1167.4 L1348.9,1168.7 L1349.0,1168.9 L1350.0,1170.4 L1351.0,1172.1 L1352.0,1173.5 L1353.0,1174.3 L1353.4,1174.4 L1354.0,1174.4 L1355.0,1174.4 L1356.0,1174.4 L1357.0,1174.4 L1357.3,1174.4 L1358.0,1173.6 L1359.0,1170.2 L1360.0,1165.4 L1360.3,1164.1 L1361.0,1159.4 L1362.0,1150.8 L1362.5,1145.9 L1363.0,1141.6 L1364.0,1131.4 L1364.8,1123.1 L1365.0,1121.4 L1366.0,1111.7 L1367.0,1103.3 L1367.1,1102.6 L1368.0,1096.8 L1369.0,1091.3 L1369.8,1087.8 L1370.0,1087.2 L1371.0,1083.8 L1372.0,1081.2 L1372.8,1079.8 L1373.0,1079.5 L1374.0,1078.4 L1375.0,1077.6 L1375.5,1077.5 L1376.0,1077.6 L1377.0,1078.3 L1378.0,1079.5 L1379.0,1080.9 L1379.0,1081.0 L1380.0,1083.6 L1381.0,1087.5 L1381.9,1091.2 L1382.0,1091.5 L1383.0,1095.5 L1384.0,1099.7 L1385.0,1103.6 L1385.3,1104.9 L1386.0,1107.1 L1387.0,1110.3 L1388.0,1113.3 L1389.0,1116.2 L1389.9,1118.5 L1390.0,1118.8 L1391.0,1121.3 L1392.0,1123.8 L1393.0,1126.2 L1394.0,1128.3 L1395.0,1130.1 L1395.6,1131.1 L1396.0,1131.7 L1397.0,1133.2 L1398.0,1134.6 L1399.0,1135.8 L1400.0,1136.7 L1401.0,1137.2 L1401.3,1137.2 L1402.0,1137.2 L1403.0,1137.2 L1404.0,1137.1 L1405.0,1136.9 L1405.9,1136.8 L1406.0,1136.7 L1407.0,1136.0 L1408.0,1134.5 L1409.0,1132.6 L1410.0,1130.7 L1410.4,1129.9 L1411.0,1128.8 L1412.0,1126.4 L1413.0,1123.8 L1414.0,1121.4 L1415.0,1119.7 L1415.0,1119.6 L1416.0,1118.3 L1417.0,1117.0 L1418.0,1115.9 L1419.0,1115.0 L1420.0,1114.3 L1420.7,1114.0 L1421.0,1113.8 L1422.0,1113.4 L1423.0,1113.0 L1424.0,1112.7 L1425.0,1112.5 L1426.0,1112.3 L1427.0,1112.2 L1427.5,1112.1 L1428.0,1112.2 L1429.0,1112.5 L1430.0,1113.0 L1431.0,1113.7 L1432.0,1114.4 L1433.0,1115.0 L1433.2,1115.1 L1434.0,1115.6 L1435.0,1116.4 L1436.0,1117.2 L1437.0,1117.9 L1438.0,1118.4 L1438.9,1118.5 L1439.0,1118.5 L1440.0,1118.4 L1441.0,1118.2 L1442.0,1117.8 L1443.0,1117.2 L1444.0,1116.6 L1444.6,1116.3 L1445.0,1115.9 L1446.0,1114.7 L1447.0,1113.0 L1448.0,1110.9 L1449.0,1108.6 L1449.2,1108.3 L1450.0,1106.2 L1451.0,1103.3 L1452.0,1100.0 L1453.0,1096.3 L1453.7,1093.5 L1454.0,1092.3 L1455.0,1087.6 L1456.0,1082.2 L1457.0,1076.5 L1457.6,1072.9 L1458.0,1070.5 L1459.0,1064.0 L1460.0,1057.1 L1461.0,1050.3 L1461.0,1050.1 L1462.0,1043.3 L1463.0,1036.2 L1464.0,1029.8 L1464.4,1027.4 L1465.0,1024.5 L1466.0,1019.9 L1467.0,1016.1 L1467.4,1014.8 L1468.0,1013.1 L1469.0,1010.4 L1470.0,1008.5 L1470.4,1008.0 L1471.0,1007.3 L1472.0,1006.3 L1473.0,1005.7 L1473.3,1005.7 L1474.0,1005.9 L1475.0,1006.7 L1476.0,1007.9 L1476.1,1008.0 L1477.0,1009.8 L1478.0,1012.8 L1478.8,1016.0 L1479.0,1016.9 L1480.0,1024.1 L1481.0,1033.7 L1482.0,1043.6 L1482.2,1045.6 L1483.0,1053.0 L1484.0,1063.0 L1485.0,1072.4 L1485.6,1077.5 L1486.0,1080.2 L1487.0,1087.0 L1488.0,1093.2 L1489.0,1098.8 L1490.0,1103.9 L1490.2,1104.9 L1491.0,1108.7 L1492.0,1113.3 L1493.0,1117.4 L1494.0,1121.0 L1494.8,1123.1 L1495.0,1123.7 L1496.0,1125.9 L1497.0,1127.9 L1498.0,1129.7 L1499.0,1131.2 L1500.0,1132.6 L1501.0,1134.0 L1501.4,1134.5 L1502.0,1135.2 L1503.0,1136.3 L1504.0,1137.3 L1505.0,1138.3 L1506.0,1139.2 L1507.0,1140.1 L1508.0,1141.0 L1509.0,1142.1 L1509.4,1142.5 L1510.0,1143.2 L1511.0,1144.4 L1512.0,1145.7 L1513.0,1147.1 L1514.0,1148.5 L1515.0,1149.8 L1516.0,1151.1 L1517.0,1152.3 L1517.4,1152.7 L1518.0,1153.5 L1519.0,1154.6 L1520.0,1155.8 L1521.0,1156.9 L1522.0,1157.9 L1523.0,1158.7 L1524.0,1159.5 L1524.2,1159.6 L1525.0,1160.0 L1526.0,1160.6 L1527.0,1161.1 L1528.0,1161.5 L1529.0,1161.8 L1529.9,1161.8 L1530.0,1161.8 L1531.0,1161.7 L1532.0,1161.5 L1533.0,1161.0 L1534.0,1160.5 L1535.0,1159.9 L1535.6,1159.6 L1536.0,1159.3 L1537.0,1158.2 L1538.0,1156.7 L1539.0,1155.0 L1540.0,1153.1 L1541.0,1151.0 L1541.3,1150.4 L1542.0,1148.9 L1543.0,1146.5 L1544.0,1143.8 L1545.0,1140.8 L1546.0,1137.7 L1547.0,1134.5 L1547.0,1134.4 L1548.0,1130.9 L1549.0,1127.0 L1550.0,1122.8 L1551.0,1118.6 L1551.5,1116.3 L1552.0,1114.3 L1553.0,1109.9 L1554.0,1105.3 L1555.0,1100.7 L1556.0,1096.2 L1556.1,1095.7 L1557.0,1091.6 L1558.0,1087.0 L1559.0,1082.8 L1559.5,1080.9 L1560.0,1079.3 L1561.0,1076.0 L1562.0,1073.2 L1562.9,1071.8 L1563.0,1071.8 L1564.0,1071.1 L1565.0,1070.6 L1566.0,1070.3 L1566.8,1070.2 L1567.0,1070.2 L1568.0,1070.8 L1569.0,1072.0 L1570.0,1073.7 L1570.2,1074.1 L1571.0,1076.1 L1572.0,1080.1 L1573.0,1084.6 L1573.2,1085.5 L1574.0,1089.1 L1575.0,1093.9 L1576.0,1098.7 L1576.6,1101.4 L1577.0,1103.0 L1578.0,1107.3 L1579.0,1111.4 L1580.0,1115.0 L1581.0,1118.1 L1581.2,1118.5 L1582.0,1120.5 L1583.0,1122.7 L1584.0,1124.7 L1585.0,1126.5 L1586.0,1127.9 L1586.9,1128.8 L1587.0,1128.9 L1588.0,1129.8 L1589.0,1130.6 L1590.0,1131.3 L1591.0,1131.9 L1592.0,1132.3 L1593.0,1132.6 L1593.7,1132.7 L1594.0,1132.7 L1595.0,1132.6 L1596.0,1132.5 L1597.0,1132.3 L1598.0,1132.0 L1599.0,1131.7 L1599.4,1131.5 L1600.0,1131.2 L1601.0,1130.2 L1602.0,1128.7 L1603.0,1127.0 L1604.0,1125.4 L1604.0,1125.3 L1605.0,1123.3 L1606.0,1120.8 L1607.0,1118.4 L1608.0,1116.4 L1608.1,1116.3 L1609.0,1114.8 L1610.0,1113.2 L1611.0,1112.1 L1612.0,1111.7 L1612.0,1111.7 L1613.0,1111.8 L1614.0,1112.1 L1615.0,1112.4 L1615.8,1112.8 L1616.0,1112.9 L1617.0,1114.2 L1618.0,1116.3 L1619.0,1118.7 L1619.9,1120.8 L1620.0,1121.0 L1621.0,1123.2 L1622.0,1125.5 L1623.0,1127.9 L1624.0,1130.3 L1625.0,1132.7 L1626.0,1135.1 L1626.8,1136.8 L1627.0,1137.3 L1628.0,1139.3 L1629.0,1141.3 L1630.0,1143.3 L1631.0,1145.2 L1632.0,1147.2 L1633.0,1149.2 L1633.6,1150.4 L1634.0,1151.3 L1635.0,1153.6 L1636.0,1156.1 L1637.0,1158.5 L1638.0,1160.7 L1639.0,1162.5 L1639.3,1163.0 L1640.0,1163.9 L1641.0,1165.3 L1642.0,1166.5 L1643.0,1167.3 L1643.9,1167.5 L1644.0,1167.5 L1645.0,1167.2 L1646.0,1166.3 L1647.0,1165.1 L1648.0,1163.7 L1648.4,1163.0 L1649.0,1161.7 L1650.0,1158.2 L1651.0,1153.9 L1651.8,1150.4 L1652.0,1149.8 L1653.0,1145.7 L1654.0,1141.6 L1655.0,1137.7 L1655.3,1136.8 L1656.0,1134.2 L1657.0,1130.8 L1658.0,1127.9 L1659.0,1125.6 L1659.1,1125.4 L1660.0,1124.1 L1661.0,1122.7 L1662.0,1121.6 L1663.0,1120.7 L1664.0,1119.9 L1664.4,1119.7 L1665.0,1119.3 L1666.0,1118.7 L1667.0,1118.1 L1668.0,1117.6 L1669.0,1117.2 L1670.0,1116.9 L1671.0,1116.7 L1671.2,1116.7 L1672.0,1116.6 L1673.0,1116.5 L1674.0,1116.5 L1675.0,1116.4 L1676.0,1116.3 L1677.0,1116.3 L1678.0,1116.3 L1679.0,1116.3 L1679.2,1116.3 L1680.0,1116.3 L1681.0,1116.5 L1682.0,1116.9 L1683.0,1117.3 L1684.0,1117.9 L1684.9,1118.5 L1685.0,1118.6 L1686.0,1119.9 L1687.0,1121.9 L1688.0,1124.5 L1688.3,1125.4 L1689.0,1128.0 L1690.0,1133.2 L1691.0,1138.8 L1691.0,1139.0 L1692.0,1144.3 L1693.0,1149.9 L1694.0,1154.9 L1694.0,1155.0 L1695.0,1159.4 L1696.0,1163.5 L1697.0,1167.2 L1697.9,1169.8 L1698.0,1170.1 L1699.0,1172.6 L1700.0,1174.8 L1701.0,1176.7 L1702.0,1178.4 L1703.0,1179.9 L1703.1,1180.1 L1704.0,1181.2 L1705.0,1182.4 L1706.0,1183.5 L1707.0,1184.4 L1708.0,1185.4 L1709.0,1186.3 L1710.0,1187.1 L1711.0,1188.0 L1711.1,1188.1 L1712.0,1188.8 L1713.0,1189.6 L1714.0,1190.3 L1715.0,1191.0 L1716.0,1191.7 L1717.0,1192.4 L1718.0,1193.1 L1719.0,1193.9 L1720.0,1194.7 L1720.2,1194.9 L1721.0,1195.6 L1722.0,1196.5 L1723.0,1197.5 L1724.0,1198.5 L1725.0,1199.6 L1726.0,1200.6 L1727.0,1201.7 L1728.0,1202.7 L1729.0,1203.7 L1729.3,1204.0 L1730.0,1204.6 L1731.0,1205.5 L1732.0,1206.5 L1733.0,1207.4 L1734.0,1208.3 L1735.0,1209.1 L1736.0,1210.0 L1737.0,1210.8 L1738.0,1211.6 L1738.5,1212.0 L1739.0,1212.4 L1740.0,1213.2 L1741.0,1214.1 L1742.0,1214.9 L1743.0,1215.7 L1744.0,1216.4 L1745.0,1217.0 L1746.0,1217.5 L1746.4,1217.7 L1747.0,1217.9 L1748.0,1218.3 L1749.0,1218.6 L1750.0,1219.0 L1751.0,1219.2 L1752.0,1219.4 L1753.0,1219.5 L1753.3,1219.5 L1754.0,1219.5 L1755.0,1219.4 L1756.0,1219.2 L1757.0,1218.9 L1758.0,1218.6 L1759.0,1218.2 L1760.0,1217.7 L1760.1,1217.7 L1761.0,1217.2 L1762.0,1216.2 L1763.0,1215.1 L1764.0,1213.7 L1765.0,1212.2 L1765.8,1210.9 L1766.0,1210.5 L1767.0,1208.6 L1768.0,1206.3 L1769.0,1203.7 L1770.0,1200.8 L1771.0,1197.7 L1771.5,1196.0 L1772.0,1194.4 L1773.0,1190.5 L1774.0,1186.2 L1775.0,1181.3 L1776.0,1175.9 L1776.1,1175.5 L1777.0,1169.7 L1778.0,1162.3 L1779.0,1154.4 L1779.5,1150.4 L1780.0,1146.3 L1781.0,1137.7 L1782.0,1128.8 L1782.9,1120.8 L1783.0,1120.0 L1784.0,1111.4 L1785.0,1102.7 L1786.0,1094.0 L1786.3,1091.2 L1787.0,1085.3 L1788.0,1076.6 L1789.0,1067.9 L1789.7,1061.5 L1790.0,1059.5 L1791.0,1051.3 L1792.0,1043.3 L1793.0,1035.5 L1793.2,1034.2 L1794.0,1028.0 L1795.0,1020.8 L1796.0,1013.6 L1796.6,1009.1 L1797.0,1005.9 L1797.7,1000.0 L1798.0,997.5 L1799.0,986.9 L1800.0,978.6 L1800.0,978.6 L1801.0,974.1 L1802.0,970.6 L1803.0,968.0 L1803.4,967.2 L1804.0,966.2 L1805.0,964.7 L1806.0,963.7 L1806.8,963.3 L1807.0,963.3 L1808.0,963.8 L1809.0,964.7 L1810.0,965.8 L1811.0,966.8 L1811.4,967.2 L1812.0,967.7 L1813.0,968.4 L1814.0,969.1 L1815.0,969.8 L1816.0,970.7 L1817.0,971.7 L1817.1,971.8 L1818.0,972.9 L1819.0,974.4 L1820.0,976.2 L1821.0,978.6 L1821.0,978.7 L1822.0,982.6 L1823.0,988.4 L1823.9,994.6 L1824.0,995.0 L1824.6,1000.0 L1825.0,1002.7 L1826.0,1009.2 L1827.0,1015.7 L1827.4,1018.2 L1828.0,1023.0 L1829.0,1030.9 L1830.0,1039.1 L1830.8,1045.6 L1831.0,1047.4 L1832.0,1056.0 L1833.0,1064.7 L1834.0,1073.5 L1834.2,1075.2 L1835.0,1082.2 L1836.0,1090.8 L1837.0,1099.5 L1837.6,1104.9 L1838.0,1108.2 L1839.0,1116.9 L1840.0,1125.7 L1841.0,1134.2 L1841.0,1134.5 L1842.0,1142.6 L1843.0,1151.0 L1844.0,1158.7 L1844.5,1161.8 L1845.0,1165.3 L1846.0,1171.4 L1847.0,1177.1 L1848.0,1182.2 L1849.0,1186.8 L1849.0,1186.9 L1850.0,1191.1 L1851.0,1195.0 L1852.0,1198.6 L1853.0,1202.0 L1854.0,1205.2 L1854.7,1207.4 L1855.0,1208.3 L1856.0,1211.3 L1857.0,1214.1 L1858.0,1216.8 L1859.0,1219.4 L1860.0,1221.9 L1861.0,1224.3 L1861.6,1225.7 L1862.0,1226.8 L1863.0,1229.2 L1864.0,1231.7 L1865.0,1234.1 L1866.0,1236.1 L1867.0,1237.8 L1867.3,1238.2 L1868.0,1239.2 L1869.0,1240.6 L1870.0,1241.8 L1871.0,1242.5 L1871.8,1242.8 L1872.0,1242.7 L1873.0,1242.1 L1874.0,1240.6 L1875.0,1238.4 L1875.3,1237.6 L1876.0,1234.3 L1877.0,1225.8 L1877.2,1223.8 L1878.0,1212.4 L1878.8,1198.1 L1879.0,1194.7 L1880.0,1176.6 L1880.4,1168.5 L1881.0,1154.6 L1881.8,1134.9 L1882.0,1130.3 L1883.0,1107.5 L1883.4,1099.3 L1884.0,1088.4 L1885.0,1071.4 L1885.1,1069.6 L1886.0,1053.8 L1886.7,1040.0 L1887.0,1033.3 L1888.0,1008.5 L1889.0,980.0 L1890.0,947.9 L1890.3,937.6 L1891.0,911.3 L1892.0,868.0 L1893.0,819.0 L1894.0,760.0 L1895.0,704.9 L1896.0,652.8 L1896.3,638.0 L1897.0,606.3 L1898.0,563.2 L1898.5,539.0 L1899.0,511.6 L1900.0,450.0 L1900.8,395.0 L1901.0,382.7 L1901.4,360.0 L1902.0,386.3 L1902.2,395.0 L1903.0,428.9 L1903.5,450.0 L1904.0,471.1 L1905.0,513.2 L1905.6,539.0 L1906.0,557.3 L1907.0,605.2 L1907.8,638.0 L1908.0,644.7 L1909.0,673.6 L1910.0,698.3 L1911.0,723.1 L1911.6,740.0 L1912.0,753.5 L1912.8,779.5 L1913.0,784.1 L1914.0,803.0 L1915.0,819.0 L1916.0,834.5 L1917.0,848.8 L1917.7,858.6 L1918.0,862.7 L1919.0,876.2 L1920.0,889.1 L1920.7,898.1 L1921.0,901.9 L1922.0,914.9 L1923.0,927.4 L1923.9,937.6 L1924.0,938.7 L1925.0,949.2 L1926.0,959.1 L1927.0,968.2 L1928.0,975.9 L1928.2,977.2 L1929.0,982.1 L1930.0,987.6 L1931.0,992.5 L1932.0,997.0 L1933.0,1001.4 L1934.0,1005.9 L1934.2,1006.8 L1935.0,1010.5 L1936.0,1015.0 L1937.0,1019.4 L1938.0,1023.7 L1939.0,1027.9 L1940.0,1032.1 L1940.1,1032.5 L1941.0,1036.1 L1942.0,1040.0 L1943.0,1043.9 L1944.0,1047.9 L1945.0,1051.8 L1946.0,1055.8 L1947.0,1059.8 L1948.0,1064.0 L1949.0,1067.9 L1950.0,1071.6 L1951.0,1075.0 L1952.0,1078.4 L1953.0,1081.3 L1953.9,1083.5 L1954.0,1083.7 L1955.0,1085.6 L1956.0,1087.2 L1957.0,1088.7 L1958.0,1090.1 L1958.9,1091.4 L1959.0,1091.6 L1960.0,1093.0 L1961.0,1094.3 L1962.0,1095.8 L1962.8,1097.3 L1963.0,1097.7 L1964.0,1100.3 L1965.0,1103.4 L1966.0,1106.7 L1966.8,1109.2 L1967.0,1109.8 L1968.0,1112.9 L1969.0,1116.1 L1970.0,1119.1 L1970.7,1121.0 L1971.0,1121.8 L1972.0,1124.2 L1973.0,1126.4 L1973.7,1128.0 L1974.0,1128.7 L1975.0,1131.0 L1976.0,1133.2 L1977.0,1135.4 L1978.0,1137.7 L1979.0,1139.8 L1980.0,1142.0" stroke="#ff0000" stroke-width="7.0"/>
<path d="M150.3,1028.5 L151.0,1029.0 L152.0,1029.8 L153.0,1030.6 L154.0,1031.4 L155.0,1032.3 L156.0,1033.2 L157.0,1034.1 L157.1,1034.2 L158.0,1035.1 L159.0,1036.2 L160.0,1037.4 L161.0,1038.6 L162.0,1039.9 L163.0,1041.1 L164.0,1042.2 L165.0,1043.2 L165.1,1043.3 L166.0,1044.2 L167.0,1045.2 L168.0,1046.2 L169.0,1047.2 L170.0,1048.0 L171.0,1048.6 L171.9,1049.0 L172.0,1049.0 L173.0,1049.3 L174.0,1049.6 L175.0,1049.9 L176.0,1050.0 L177.0,1050.1 L177.6,1050.1 L178.0,1050.1 L179.0,1050.1 L180.0,1050.0 L181.0,1049.8 L182.0,1049.7 L183.0,1049.5 L184.0,1049.2 L185.0,1049.0 L186.0,1048.8 L187.0,1048.7 L187.9,1048.6 L188.0,1048.5 L189.0,1048.4 L190.0,1048.3 L191.0,1048.2 L192.0,1048.2 L193.0,1048.1 L194.0,1048.0 L195.0,1047.9 L196.0,1047.8 L197.0,1047.7 L198.0,1047.6 L199.0,1047.5 L199.3,1047.4 L200.0,1047.3 L201.0,1047.0 L202.0,1046.6 L203.0,1046.1 L204.0,1045.6 L205.0,1045.1 L206.0,1044.5 L206.1,1044.4 L207.0,1043.9 L208.0,1043.2 L209.0,1042.4 L210.0,1041.5 L211.0,1040.6 L212.0,1039.6 L213.0,1038.6 L214.0,1037.6 L215.0,1036.7 L215.2,1036.5 L216.0,1035.7 L217.0,1034.8 L218.0,1033.8 L219.0,1032.8 L220.0,1031.8 L221.0,1030.7 L222.0,1029.7 L223.0,1028.7 L224.0,1027.7 L224.3,1027.4 L225.0,1026.7 L226.0,1025.7 L227.0,1024.6 L228.0,1023.5 L229.0,1022.5 L230.0,1021.5 L231.0,1020.5 L232.0,1019.5 L233.0,1018.6 L233.5,1018.2 L234.0,1017.8 L235.0,1017.0 L236.0,1016.1 L237.0,1015.4 L238.0,1014.6 L239.0,1013.9 L240.0,1013.2 L241.0,1012.6 L242.0,1012.1 L242.6,1011.9 L243.0,1011.7 L244.0,1011.3 L245.0,1010.9 L246.0,1010.5 L247.0,1010.2 L248.0,1009.9 L249.0,1009.6 L250.0,1009.4 L251.0,1009.2 L251.7,1009.1 L252.0,1009.1 L253.0,1009.0 L254.0,1008.9 L255.0,1008.8 L256.0,1008.7 L257.0,1008.7 L258.0,1008.7 L258.5,1008.7 L259.0,1008.7 L260.0,1008.7 L261.0,1008.8 L262.0,1009.0 L263.0,1009.1 L264.0,1009.3 L265.0,1009.5 L265.4,1009.6 L266.0,1009.7 L267.0,1010.0 L268.0,1010.3 L269.0,1010.8 L270.0,1011.2 L271.0,1011.7 L272.0,1012.2 L273.0,1012.8 L274.0,1013.4 L274.5,1013.7 L275.0,1014.0 L276.0,1014.7 L277.0,1015.5 L278.0,1016.5 L279.0,1017.4 L280.0,1018.4 L281.0,1019.3 L282.0,1020.3 L283.0,1021.2 L283.6,1021.7 L284.0,1022.0 L285.0,1022.8 L286.0,1023.6 L287.0,1024.4 L288.0,1025.1 L289.0,1025.8 L290.0,1026.5 L291.0,1027.1 L291.6,1027.4 L292.0,1027.5 L293.0,1028.0 L294.0,1028.4 L295.0,1028.8 L296.0,1029.2 L297.0,1029.5 L298.0,1029.8 L299.0,1030.0 L299.6,1030.1 L300.0,1030.2 L301.0,1030.3 L302.0,1030.4 L303.0,1030.6 L304.0,1030.7 L305.0,1030.7 L306.0,1030.8 L306.4,1030.8 L307.0,1030.8 L308.0,1030.8 L309.0,1030.7 L310.0,1030.7 L311.0,1030.6 L312.0,1030.5 L313.0,1030.5 L314.0,1030.4 L315.0,1030.3 L316.0,1030.2 L317.0,1030.0 L318.0,1029.9 L319.0,1029.8 L320.0,1029.6 L320.1,1029.6 L321.0,1029.5 L322.0,1029.2 L323.0,1028.9 L324.0,1028.5 L325.0,1028.1 L326.0,1027.7 L327.0,1027.2 L328.0,1026.8 L329.0,1026.3 L329.2,1026.2 L330.0,1025.8 L331.0,1025.3 L332.0,1024.7 L333.0,1024.0 L334.0,1023.4 L335.0,1022.7 L336.0,1022.0 L337.0,1021.4 L338.0,1020.7 L338.3,1020.5 L339.0,1020.1 L340.0,1019.5 L341.0,1018.8 L342.0,1018.2 L343.0,1017.6 L344.0,1016.9 L345.0,1016.3 L346.0,1015.7 L347.0,1015.1 L347.4,1014.8 L348.0,1014.5 L349.0,1013.8 L350.0,1013.1 L351.0,1012.4 L352.0,1011.8 L353.0,1011.1 L354.0,1010.6 L355.0,1010.1 L356.0,1009.7 L356.5,1009.6 L357.0,1009.5 L358.0,1009.3 L359.0,1009.1 L360.0,1008.9 L361.0,1008.7 L362.0,1008.6 L363.0,1008.5 L364.0,1008.4 L364.5,1008.4 L365.0,1008.4 L366.0,1008.5 L367.0,1008.6 L368.0,1008.7 L369.0,1008.9 L370.0,1009.1 L371.0,1009.3 L372.0,1009.5 L372.5,1009.6 L373.0,1009.7 L374.0,1010.0 L375.0,1010.3 L376.0,1010.7 L377.0,1011.2 L378.0,1011.6 L379.0,1012.1 L380.0,1012.6 L381.0,1013.0 L381.6,1013.2 L382.0,1013.4 L383.0,1013.8 L384.0,1014.2 L385.0,1014.7 L386.0,1015.1 L387.0,1015.5 L388.0,1015.8 L389.0,1015.9 L389.6,1016.0 L390.0,1015.9 L391.0,1015.8 L392.0,1015.5 L393.0,1015.2 L394.0,1014.7 L395.0,1014.3 L395.3,1014.1 L396.0,1013.7 L397.0,1012.8 L398.0,1011.9 L399.0,1011.1 L399.9,1010.7 L400.0,1010.7 L401.0,1010.5 L402.0,1010.4 L403.0,1010.3 L404.0,1010.3 L404.4,1010.3 L405.0,1010.3 L406.0,1010.8 L407.0,1011.7 L408.0,1012.7 L409.0,1013.7 L409.0,1013.7 L410.0,1014.9 L411.0,1016.5 L412.0,1018.3 L413.0,1020.1 L414.0,1021.8 L414.7,1022.8 L415.0,1023.2 L416.0,1024.6 L417.0,1026.0 L418.0,1027.4 L419.0,1028.6 L420.0,1029.7 L421.0,1030.5 L421.5,1030.8 L422.0,1031.0 L423.0,1031.4 L424.0,1031.8 L425.0,1032.1 L426.0,1032.4 L427.0,1032.7 L428.0,1032.9 L428.4,1033.1 L429.0,1033.3 L430.0,1033.5 L431.0,1033.8 L432.0,1034.1 L433.0,1034.4 L434.0,1034.7 L435.0,1035.0 L436.0,1035.2 L436.3,1035.3 L437.0,1035.5 L438.0,1035.9 L439.0,1036.2 L440.0,1036.6 L441.0,1036.9 L442.0,1037.1 L443.0,1037.2 L443.2,1037.2 L444.0,1037.0 L445.0,1036.6 L446.0,1035.9 L447.0,1035.0 L447.7,1034.2 L448.0,1033.8 L449.0,1031.4 L450.0,1027.7 L451.0,1023.4 L451.1,1022.8 L452.0,1018.9 L453.0,1012.7 L453.4,1009.1 L454.0,1000.7 L454.1,999.1 L455.0,987.5 L456.0,975.3 L456.8,964.9 L457.0,963.0 L458.0,950.4 L459.0,937.8 L459.6,930.7 L460.0,925.6 L461.0,913.1 L462.0,901.7 L462.5,896.5 L463.0,892.6 L464.0,884.6 L464.8,880.6 L465.0,880.1 L466.0,878.1 L466.6,877.6 L467.0,877.8 L468.0,879.7 L468.7,881.7 L469.0,882.9 L470.0,889.0 L471.0,897.4 L471.7,903.4 L472.0,906.6 L473.0,917.6 L474.0,929.9 L474.6,937.6 L475.0,942.3 L476.0,955.9 L477.0,968.3 L477.4,971.8 L478.0,977.2 L479.0,984.8 L480.0,991.0 L480.8,994.6 L481.0,995.4 L482.0,999.1 L483.0,1002.1 L484.0,1003.6 L484.2,1003.7 L485.0,1003.5 L486.0,1002.9 L487.0,1002.0 L487.6,1001.4 L488.0,1000.8 L489.0,998.2 L490.0,995.0 L491.0,992.4 L491.0,992.3 L492.0,990.4 L493.0,988.9 L493.8,988.4 L494.0,988.4 L495.0,989.2 L496.0,990.8 L496.7,992.3 L497.0,993.0 L498.0,998.1 L499.0,1004.5 L499.7,1008.2 L500.0,1009.5 L501.0,1013.5 L502.0,1017.2 L503.0,1020.7 L504.0,1023.9 L505.0,1027.0 L505.9,1029.6 L506.0,1030.1 L507.0,1033.2 L508.0,1036.2 L509.0,1039.0 L510.0,1041.3 L510.4,1042.2 L511.0,1043.3 L512.0,1045.0 L513.0,1046.6 L514.0,1048.0 L515.0,1049.2 L516.0,1050.1 L516.1,1050.1 L517.0,1050.8 L518.0,1051.5 L519.0,1052.0 L520.0,1052.5 L521.0,1052.8 L521.8,1052.9 L522.0,1052.9 L523.0,1052.7 L524.0,1052.3 L525.0,1051.9 L526.0,1051.3 L527.0,1050.8 L527.5,1050.6 L528.0,1050.4 L529.0,1049.9 L530.0,1049.4 L531.0,1048.9 L532.0,1048.5 L533.0,1048.3 L533.2,1048.3 L534.0,1048.3 L535.0,1048.3 L536.0,1048.3 L537.0,1048.3 L538.0,1048.3 L538.9,1048.3 L539.0,1048.3 L540.0,1048.4 L541.0,1048.5 L542.0,1048.6 L543.0,1048.8 L544.0,1048.9 L545.0,1049.0 L545.7,1049.0 L546.0,1049.0 L547.0,1049.0 L548.0,1048.9 L549.0,1048.8 L550.0,1048.7 L551.0,1048.6 L552.0,1048.5 L553.0,1048.4 L554.0,1048.3 L555.0,1048.2 L556.0,1048.1 L557.0,1048.1 L557.1,1048.1 L558.0,1048.1 L559.0,1048.1 L560.0,1048.2 L561.0,1048.3 L562.0,1048.4 L563.0,1048.5 L564.0,1048.6 L564.0,1048.6 L565.0,1048.7 L566.0,1049.0 L567.0,1049.3 L568.0,1049.7 L569.0,1050.1 L570.0,1050.5 L571.0,1050.8 L572.0,1051.1 L573.0,1051.3 L573.1,1051.3 L574.0,1051.4 L575.0,1051.5 L576.0,1051.6 L577.0,1051.8 L578.0,1051.8 L579.0,1051.9 L580.0,1052.0 L581.0,1052.0 L581.1,1052.0 L582.0,1051.9 L583.0,1051.8 L584.0,1051.6 L585.0,1051.3 L586.0,1051.0 L587.0,1050.7 L588.0,1050.4 L589.0,1050.2 L589.1,1050.1 L590.0,1049.9 L591.0,1049.6 L592.0,1049.3 L593.0,1049.0 L594.0,1048.7 L595.0,1048.4 L596.0,1048.1 L597.0,1047.8 L598.0,1047.4 L599.0,1047.1 L600.0,1046.7 L600.0,1046.7 L601.0,1046.4 L602.0,1046.0 L603.0,1045.6 L604.0,1045.2 L605.0,1044.8 L606.0,1044.4 L607.0,1043.9 L608.0,1043.4 L608.2,1043.3 L609.0,1042.9 L610.0,1042.4 L611.0,1041.8 L612.0,1041.2 L613.0,1040.5 L614.0,1039.7 L615.0,1038.8 L615.1,1038.8 L616.0,1037.8 L617.0,1036.6 L618.0,1035.1 L619.0,1033.3 L619.6,1031.9 L620.0,1031.0 L621.0,1027.3 L622.0,1022.5 L622.4,1020.5 L623.0,1017.1 L624.0,1009.2 L624.2,1006.8 L624.6,994.6 L625.0,987.8 L626.0,972.7 L626.5,964.9 L627.0,954.9 L628.0,932.5 L628.1,930.7 L629.0,900.9 L629.4,885.2 L630.0,863.7 L630.6,839.6 L631.0,819.2 L631.7,782.6 L632.0,768.0 L632.9,725.6 L633.0,719.1 L634.0,680.0 L634.0,679.8 L634.9,656.3 L635.0,653.9 L636.0,629.7 L636.0,629.0 L637.0,617.7 L637.2,616.4 L638.0,613.1 L638.1,613.0 L639.0,616.4 L639.0,616.4 L639.9,629.0 L640.0,630.2 L641.0,646.2 L641.1,647.2 L642.0,662.3 L642.4,670.0 L642.9,680.0 L643.0,682.7 L644.0,707.6 L644.3,714.2 L645.0,736.3 L645.8,759.8 L646.0,763.2 L647.0,782.9 L648.0,799.0 L648.1,800.8 L649.0,812.3 L650.0,823.8 L651.0,834.1 L651.1,835.0 L652.0,844.0 L653.0,853.2 L654.0,861.2 L654.5,864.6 L655.0,867.6 L656.0,873.3 L657.0,878.2 L658.0,881.9 L658.4,882.9 L659.0,884.3 L660.0,886.3 L661.0,888.0 L662.0,889.2 L662.9,889.7 L663.0,889.7 L664.0,889.9 L665.0,890.0 L666.0,890.1 L667.0,890.2 L667.5,890.2 L668.0,890.1 L669.0,889.5 L670.0,888.6 L671.0,887.5 L672.0,886.4 L672.1,886.3 L673.0,885.2 L674.0,884.0 L675.0,882.6 L676.0,881.1 L677.0,879.5 L677.8,878.3 L678.0,877.9 L679.0,876.2 L680.0,874.5 L681.0,872.6 L682.0,870.5 L683.0,868.1 L683.5,866.9 L684.0,865.4 L685.0,862.3 L686.0,858.6 L687.0,854.0 L687.6,851.0 L688.0,848.0 L689.0,838.7 L689.8,828.2 L690.0,825.7 L691.0,804.0 L691.4,794.0 L692.0,781.7 L693.0,760.4 L693.0,759.8 L694.0,741.4 L694.9,725.6 L695.0,722.8 L696.0,703.0 L696.7,691.4 L697.0,687.7 L697.6,680.0 L698.0,654.1 L698.5,610.7 L699.0,584.8 L699.4,565.2 L700.0,534.2 L700.3,519.6 L701.0,497.1 L701.5,485.4 L702.0,474.8 L702.8,462.6 L703.0,460.8 L704.0,452.2 L704.2,451.2 L705.0,448.5 L705.1,448.4 L706.0,451.9 L706.3,453.5 L707.0,461.7 L707.8,474.0 L708.0,475.9 L709.0,488.4 L709.7,496.8 L710.0,500.9 L711.0,513.7 L711.5,519.6 L712.0,524.9 L713.0,534.6 L713.8,542.4 L714.0,544.8 L715.0,556.2 L715.8,565.2 L716.0,566.9 L717.0,576.2 L718.0,585.0 L718.3,587.9 L719.0,593.6 L720.0,601.8 L721.0,610.1 L721.1,610.7 L722.0,619.1 L723.0,628.3 L723.6,633.5 L724.0,637.4 L725.0,646.7 L726.0,655.6 L726.1,656.3 L727.0,664.4 L728.0,672.9 L729.0,679.7 L729.0,680.0 L730.0,684.4 L731.0,688.0 L732.0,691.7 L732.5,693.7 L733.0,696.2 L734.0,701.2 L735.0,706.7 L735.9,711.9 L736.0,712.6 L737.0,719.1 L738.0,726.3 L739.0,733.6 L740.0,740.8 L740.4,743.8 L741.0,747.6 L742.0,754.4 L743.0,761.2 L744.0,767.7 L745.0,773.9 L746.0,779.5 L746.1,780.3 L747.0,784.6 L748.0,789.4 L749.0,793.9 L750.0,798.2 L751.0,802.2 L751.8,805.4 L752.0,806.0 L753.0,809.5 L754.0,812.9 L755.0,816.2 L756.0,819.2 L757.0,822.1 L757.5,823.6 L758.0,824.8 L759.0,827.5 L760.0,830.1 L761.0,832.6 L762.0,834.9 L763.0,837.0 L764.0,838.9 L764.4,839.6 L765.0,840.6 L766.0,842.1 L767.0,843.5 L768.0,844.8 L769.0,846.1 L770.0,847.3 L771.0,848.4 L772.0,849.4 L772.4,849.8 L773.0,850.5 L774.0,851.5 L775.0,852.5 L776.0,853.5 L777.0,854.4 L778.0,855.3 L779.0,856.1 L780.0,856.8 L781.0,857.5 L781.5,857.8 L782.0,858.1 L783.0,858.8 L784.0,859.4 L785.0,860.0 L786.0,860.3 L787.0,860.5 L787.2,860.5 L788.0,860.5 L789.0,860.2 L790.0,859.8 L791.0,859.3 L792.0,858.8 L792.9,858.3 L793.0,858.2 L794.0,857.3 L795.0,856.1 L796.0,854.7 L797.0,853.2 L798.0,851.8 L798.6,851.0 L799.0,850.4 L800.0,848.8 L801.0,847.2 L802.0,845.7 L803.0,844.7 L803.1,844.6 L804.0,844.0 L805.0,843.4 L806.0,842.9 L807.0,842.4 L808.0,842.1 L808.8,841.8 L809.0,841.8 L810.0,841.6 L811.0,841.5 L812.0,841.3 L813.0,841.2 L814.0,841.1 L815.0,840.9 L815.7,840.7 L816.0,840.6 L817.0,839.8 L818.0,838.5 L819.0,837.0 L820.0,835.6 L821.0,834.3 L821.4,833.9 L822.0,833.2 L823.0,832.1 L824.0,831.0 L825.0,830.0 L826.0,829.1 L827.0,828.5 L828.0,828.2 L828.2,828.2 L829.0,828.2 L830.0,828.3 L831.0,828.6 L832.0,828.8 L833.0,829.2 L834.0,829.6 L835.0,830.0 L835.0,830.0 L836.0,830.5 L837.0,831.1 L838.0,831.9 L839.0,832.8 L840.0,833.8 L841.0,834.8 L841.9,835.7 L842.0,835.8 L843.0,837.0 L844.0,838.2 L845.0,839.6 L846.0,841.1 L847.0,842.6 L848.0,844.2 L848.7,845.3 L849.0,845.7 L850.0,847.3 L851.0,849.1 L852.0,850.8 L853.0,852.6 L854.0,854.3 L855.0,855.9 L855.6,856.7 L856.0,857.2 L857.0,858.5 L858.0,859.6 L859.0,860.7 L860.0,861.8 L861.0,862.8 L862.0,863.9 L863.0,865.1 L863.5,865.8 L864.0,866.4 L865.0,867.7 L866.0,869.1 L867.0,870.5 L868.0,871.9 L869.0,873.4 L870.0,874.9 L871.0,876.4 L871.5,877.2 L872.0,877.9 L873.0,879.5 L874.0,881.2 L875.0,882.9 L876.0,884.6 L877.0,886.1 L878.0,887.5 L878.4,887.9 L879.0,888.7 L880.0,889.9 L881.0,891.1 L882.0,892.1 L883.0,892.8 L884.0,893.1 L884.1,893.1 L885.0,893.0 L886.0,892.8 L887.0,892.5 L888.0,892.0 L889.0,891.6 L890.0,891.2 L890.9,890.9 L891.0,890.8 L892.0,890.4 L893.0,890.0 L894.0,889.6 L895.0,889.2 L896.0,888.8 L897.0,888.6 L897.7,888.6 L898.0,888.6 L899.0,888.9 L900.0,889.4 L901.0,890.2 L902.0,891.2 L903.0,892.1 L904.0,893.0 L905.0,893.8 L905.7,894.3 L906.0,894.4 L907.0,895.0 L908.0,895.6 L909.0,896.1 L910.0,896.6 L911.0,897.0 L912.0,897.2 L912.5,897.2 L913.0,897.2 L914.0,897.1 L915.0,896.8 L916.0,896.5 L917.0,896.2 L918.0,895.8 L919.0,895.6 L920.0,895.4 L920.5,895.4 L921.0,895.4 L922.0,895.5 L923.0,895.6 L924.0,895.7 L925.0,895.9 L926.0,896.2 L927.0,896.4 L927.4,896.5 L928.0,896.8 L929.0,897.5 L930.0,898.5 L931.0,899.7 L932.0,901.1 L933.0,902.5 L934.0,903.9 L935.0,905.2 L935.3,905.7 L936.0,906.5 L937.0,907.8 L938.0,909.2 L939.0,910.6 L940.0,911.9 L941.0,913.2 L942.0,914.5 L943.0,915.6 L943.3,915.9 L944.0,916.6 L945.0,917.5 L946.0,918.4 L947.0,919.2 L948.0,920.0 L949.0,920.8 L950.0,921.5 L951.0,922.2 L952.0,923.0 L953.0,923.7 L954.0,924.5 L954.7,925.0 L955.0,925.3 L956.0,926.1 L957.0,926.9 L958.0,927.8 L959.0,928.7 L960.0,929.5 L961.0,930.4 L962.0,931.2 L963.0,932.0 L964.0,932.7 L965.0,933.4 L966.0,934.1 L966.1,934.2 L967.0,934.7 L968.0,935.2 L969.0,935.8 L970.0,936.3 L971.0,936.7 L972.0,937.2 L973.0,937.6 L974.0,938.1 L975.0,938.6 L976.0,939.1 L977.0,939.6 L977.5,939.9 L978.0,940.1 L979.0,940.8 L980.0,941.6 L981.0,942.4 L982.0,943.2 L983.0,944.0 L984.0,944.8 L985.0,945.4 L986.0,945.9 L987.0,946.2 L987.8,946.2 L988.0,946.2 L989.0,945.8 L990.0,944.9 L991.0,943.8 L992.0,942.5 L992.3,942.1 L993.0,941.1 L994.0,939.1 L995.0,937.0 L996.0,935.1 L996.9,934.2 L997.0,934.1 L998.0,933.5 L999.0,933.1 L1000.0,932.8 L1001.0,932.6 L1001.4,932.6 L1002.0,932.7 L1003.0,933.3 L1004.0,934.5 L1005.0,935.8 L1006.0,937.3 L1007.0,938.6 L1007.1,938.7 L1008.0,939.7 L1009.0,940.8 L1010.0,942.0 L1011.0,943.2 L1012.0,944.3 L1013.0,945.5 L1014.0,946.6 L1015.0,947.7 L1015.1,947.8 L1016.0,948.8 L1017.0,949.9 L1018.0,951.0 L1019.0,952.0 L1020.0,953.1 L1021.0,954.0 L1022.0,954.9 L1023.0,955.7 L1023.1,955.8 L1024.0,956.4 L1025.0,957.1 L1026.0,957.7 L1027.0,958.2 L1028.0,958.7 L1029.0,959.3 L1030.0,959.8 L1031.0,960.3 L1032.0,960.9 L1032.2,961.1 L1033.0,961.5 L1034.0,962.2 L1035.0,962.8 L1036.0,963.5 L1037.0,964.2 L1038.0,964.8 L1039.0,965.5 L1040.0,966.3 L1041.0,967.0 L1041.3,967.2 L1042.0,967.7 L1043.0,968.5 L1044.0,969.3 L1045.0,970.1 L1046.0,970.9 L1047.0,971.8 L1048.0,972.6 L1049.0,973.3 L1050.0,974.1 L1050.0,974.1 L1051.0,974.7 L1052.0,975.4 L1053.0,976.0 L1054.0,976.7 L1055.0,977.3 L1056.0,977.9 L1057.0,978.5 L1058.0,979.1 L1059.0,979.7 L1060.0,980.3 L1061.0,980.9 L1062.0,981.5 L1062.8,982.0 L1063.0,982.2 L1064.0,982.9 L1065.0,983.6 L1066.0,984.3 L1067.0,985.1 L1068.0,985.8 L1069.0,986.5 L1070.0,987.2 L1071.0,987.7 L1071.9,988.2 L1072.0,988.2 L1073.0,988.7 L1074.0,989.1 L1075.0,989.6 L1076.0,989.9 L1077.0,990.2 L1078.0,990.4 L1078.8,990.5 L1079.0,990.5 L1080.0,990.4 L1081.0,990.1 L1082.0,989.8 L1083.0,989.5 L1084.0,989.1 L1084.4,988.9 L1085.0,988.6 L1086.0,987.8 L1087.0,986.9 L1088.0,985.8 L1089.0,984.6 L1090.0,983.4 L1091.0,982.3 L1091.3,982.0 L1092.0,981.3 L1093.0,980.3 L1094.0,979.2 L1095.0,978.1 L1096.0,977.1 L1097.0,976.2 L1098.0,975.3 L1098.1,975.2 L1099.0,974.4 L1100.0,973.5 L1101.0,972.7 L1102.0,971.9 L1103.0,971.5 L1103.8,971.3 L1104.0,971.3 L1105.0,971.3 L1106.0,971.3 L1107.0,971.3 L1108.0,971.3 L1109.0,971.3 L1109.5,971.3 L1110.0,971.4 L1111.0,971.7 L1112.0,972.2 L1113.0,972.8 L1114.0,973.3 L1115.0,973.6 L1115.2,973.6 L1116.0,973.6 L1117.0,973.5 L1118.0,973.4 L1119.0,973.3 L1120.0,973.1 L1120.9,972.9 L1121.0,972.9 L1122.0,972.2 L1123.0,971.1 L1124.0,969.5 L1125.0,967.9 L1125.5,967.2 L1126.0,966.4 L1127.0,964.3 L1128.0,962.3 L1129.0,960.7 L1129.4,960.4 L1130.0,959.9 L1131.0,959.2 L1132.0,958.7 L1132.8,958.6 L1133.0,958.6 L1134.0,959.2 L1135.0,960.4 L1135.7,961.5 L1136.0,962.0 L1137.0,964.9 L1138.0,968.7 L1139.0,972.4 L1139.2,972.9 L1140.0,975.6 L1141.0,978.9 L1142.0,982.1 L1143.0,984.9 L1143.7,986.6 L1144.0,987.2 L1145.0,989.2 L1146.0,991.1 L1147.0,992.7 L1148.0,994.2 L1149.0,995.3 L1149.4,995.7 L1150.0,996.2 L1151.0,997.0 L1152.0,997.8 L1153.0,998.5 L1154.0,999.0 L1155.0,999.4 L1156.0,999.6 L1156.3,999.6 L1157.0,999.5 L1158.0,999.4 L1159.0,999.2 L1160.0,998.8 L1161.0,998.4 L1162.0,998.0 L1162.0,998.0 L1163.0,996.9 L1164.0,995.0 L1165.0,992.7 L1166.0,990.1 L1166.5,988.9 L1167.0,987.5 L1168.0,984.1 L1169.0,980.5 L1170.0,977.5 L1170.6,976.3 L1171.0,975.8 L1172.0,974.6 L1173.0,973.6 L1174.0,973.0 L1174.5,972.9 L1175.0,973.0 L1176.0,973.8 L1177.0,975.0 L1177.9,976.3 L1178.0,976.5 L1179.0,978.8 L1180.0,982.0 L1181.0,985.4 L1181.8,987.7 L1182.0,988.3 L1183.0,991.0 L1184.0,993.7 L1185.0,996.2 L1186.0,998.4 L1187.0,1000.2 L1187.0,1000.3 L1188.0,1001.8 L1189.0,1003.2 L1190.0,1004.4 L1191.0,1005.6 L1192.0,1006.6 L1193.0,1007.5 L1193.9,1008.2 L1194.0,1008.3 L1195.0,1009.1 L1196.0,1009.8 L1197.0,1010.5 L1198.0,1011.1 L1199.0,1011.7 L1200.0,1012.1 L1201.0,1012.5 L1201.8,1012.8 L1202.0,1012.8 L1203.0,1013.1 L1204.0,1013.4 L1205.0,1013.6 L1206.0,1013.8 L1207.0,1014.0 L1208.0,1014.2 L1209.0,1014.3 L1210.0,1014.4 L1211.0,1014.4 L1211.0,1014.4 L1212.0,1014.4 L1213.0,1014.4 L1214.0,1014.4 L1215.0,1014.4 L1216.0,1014.4 L1217.0,1014.4 L1218.0,1014.4 L1219.0,1014.4 L1220.0,1014.4 L1220.1,1014.4 L1221.0,1014.3 L1222.0,1014.2 L1223.0,1014.0 L1224.0,1013.7 L1225.0,1013.3 L1226.0,1012.9 L1227.0,1012.5 L1228.0,1012.1 L1229.0,1011.7 L1229.2,1011.7 L1230.0,1011.3 L1231.0,1010.8 L1232.0,1010.3 L1233.0,1009.7 L1234.0,1009.2 L1235.0,1008.7 L1236.0,1008.4 L1237.0,1008.2 L1237.2,1008.2 L1238.0,1008.2 L1239.0,1008.2 L1240.0,1008.2 L1241.0,1008.2 L1242.0,1008.2 L1243.0,1008.2 L1244.0,1008.2 L1245.0,1008.2 L1245.2,1008.2 L1246.0,1008.3 L1247.0,1008.4 L1248.0,1008.6 L1249.0,1008.8 L1250.0,1009.0 L1251.0,1009.2 L1252.0,1009.3 L1253.0,1009.4 L1253.1,1009.4 L1254.0,1009.4 L1255.0,1009.3 L1256.0,1009.2 L1257.0,1009.1 L1258.0,1009.0 L1259.0,1008.8 L1260.0,1008.6 L1261.0,1008.5 L1262.0,1008.3 L1262.2,1008.2 L1263.0,1008.1 L1264.0,1007.9 L1265.0,1007.6 L1266.0,1007.3 L1267.0,1007.0 L1268.0,1006.7 L1269.0,1006.3 L1270.0,1005.9 L1271.0,1005.5 L1272.0,1005.1 L1272.5,1004.8 L1273.0,1004.6 L1274.0,1004.0 L1275.0,1003.4 L1276.0,1002.7 L1277.0,1002.0 L1278.0,1001.2 L1279.0,1000.4 L1280.0,999.5 L1280.5,999.1 L1281.0,998.7 L1282.0,997.7 L1283.0,996.6 L1284.0,995.5 L1285.0,994.3 L1286.0,993.1 L1287.0,991.9 L1288.0,990.6 L1288.5,990.0 L1289.0,989.3 L1290.0,988.0 L1291.0,986.7 L1292.0,985.3 L1293.0,983.9 L1294.0,982.5 L1295.0,980.9 L1296.0,979.3 L1296.4,978.6 L1297.0,977.6 L1298.0,975.7 L1299.0,973.7 L1300.0,971.5 L1301.0,969.4 L1302.0,967.4 L1303.0,965.4 L1303.3,964.9 L1304.0,963.6 L1305.0,961.7 L1306.0,960.0 L1307.0,958.5 L1307.8,957.6 L1308.0,957.5 L1309.0,956.8 L1310.0,956.1 L1311.0,955.8 L1311.3,955.8 L1312.0,956.0 L1313.0,956.8 L1314.0,957.9 L1315.0,959.1 L1315.1,959.2 L1316.0,960.5 L1317.0,962.4 L1318.0,964.5 L1319.0,966.7 L1320.0,968.8 L1320.4,969.5 L1321.0,970.6 L1322.0,972.4 L1323.0,974.2 L1324.0,975.9 L1325.0,977.6 L1326.0,979.1 L1327.0,980.6 L1327.2,980.9 L1328.0,981.9 L1329.0,983.2 L1330.0,984.4 L1331.0,985.5 L1332.0,986.6 L1333.0,987.7 L1334.0,988.7 L1335.0,989.8 L1335.2,990.0 L1336.0,990.9 L1337.0,991.9 L1338.0,992.8 L1339.0,993.8 L1340.0,994.8 L1341.0,995.8 L1342.0,996.8 L1343.0,997.8 L1343.2,998.0 L1344.0,998.9 L1345.0,1000.1 L1346.0,1001.4 L1347.0,1002.6 L1348.0,1003.9 L1349.0,1005.0 L1350.0,1006.0 L1350.0,1006.0 L1351.0,1006.9 L1352.0,1007.9 L1353.0,1008.8 L1354.0,1009.3 L1354.6,1009.4 L1355.0,1009.3 L1356.0,1008.8 L1357.0,1007.9 L1358.0,1006.6 L1358.4,1006.0 L1359.0,1004.7 L1360.0,1000.5 L1361.0,994.8 L1361.4,992.3 L1362.0,987.9 L1363.0,978.5 L1363.7,971.8 L1364.0,968.7 L1365.0,958.6 L1366.0,949.0 L1366.0,948.6 L1367.0,938.8 L1368.0,930.1 L1368.2,928.5 L1369.0,924.1 L1370.0,919.2 L1371.0,915.9 L1371.0,915.9 L1372.0,913.5 L1373.0,911.7 L1373.9,910.9 L1374.0,910.9 L1375.0,910.8 L1376.0,910.7 L1376.9,910.7 L1377.0,910.7 L1378.0,911.3 L1379.0,912.7 L1380.0,914.6 L1380.1,914.8 L1381.0,917.4 L1382.0,921.5 L1383.0,925.9 L1383.1,926.2 L1384.0,930.5 L1385.0,935.4 L1386.0,940.1 L1386.5,942.1 L1387.0,944.2 L1388.0,948.1 L1389.0,951.7 L1390.0,955.0 L1391.0,958.0 L1391.0,958.1 L1392.0,960.6 L1393.0,963.1 L1394.0,965.4 L1395.0,967.5 L1396.0,969.4 L1396.7,970.6 L1397.0,971.0 L1398.0,972.7 L1399.0,974.3 L1400.0,975.7 L1401.0,976.8 L1402.0,977.4 L1402.4,977.5 L1403.0,977.4 L1404.0,977.3 L1405.0,977.1 L1406.0,976.7 L1407.0,976.3 L1407.0,976.3 L1408.0,975.4 L1409.0,973.9 L1410.0,972.0 L1411.0,970.3 L1411.6,969.5 L1412.0,968.9 L1413.0,967.4 L1414.0,966.0 L1415.0,965.0 L1416.0,964.5 L1416.1,964.5 L1417.0,964.5 L1418.0,964.6 L1419.0,964.7 L1420.0,964.8 L1420.7,964.9 L1421.0,965.0 L1422.0,965.4 L1423.0,965.9 L1424.0,966.6 L1425.0,967.3 L1426.0,968.0 L1427.0,968.7 L1427.5,969.0 L1428.0,969.3 L1429.0,970.0 L1430.0,970.7 L1431.0,971.4 L1432.0,972.0 L1433.0,972.5 L1434.0,972.8 L1434.3,972.9 L1435.0,973.0 L1436.0,973.2 L1437.0,973.3 L1438.0,973.3 L1438.9,973.4 L1439.0,973.4 L1440.0,973.1 L1441.0,972.4 L1442.0,971.5 L1443.0,970.4 L1444.0,969.1 L1444.6,968.4 L1445.0,967.8 L1446.0,966.1 L1447.0,964.1 L1448.0,961.7 L1449.0,959.2 L1450.0,956.6 L1450.3,955.8 L1451.0,953.9 L1452.0,951.1 L1453.0,948.0 L1454.0,944.7 L1455.0,941.3 L1456.0,937.6 L1456.0,937.6 L1457.0,933.6 L1458.0,929.2 L1459.0,924.6 L1460.0,919.8 L1460.6,917.1 L1461.0,914.8 L1462.0,909.3 L1463.0,903.6 L1464.0,898.5 L1464.4,896.5 L1465.0,894.2 L1466.0,890.1 L1467.0,886.6 L1468.0,884.2 L1468.1,884.0 L1469.0,882.5 L1470.0,881.1 L1471.0,880.3 L1471.5,880.1 L1472.0,880.2 L1473.0,880.3 L1474.0,880.6 L1474.9,881.0 L1475.0,881.1 L1476.0,882.7 L1477.0,885.7 L1478.0,889.3 L1478.1,889.7 L1479.0,893.5 L1480.0,898.8 L1481.0,904.8 L1481.5,907.9 L1482.0,910.9 L1483.0,917.7 L1484.0,924.7 L1485.0,930.7 L1485.0,931.0 L1486.0,936.7 L1487.0,942.0 L1488.0,946.9 L1489.0,951.1 L1489.1,951.3 L1490.0,954.8 L1491.0,958.3 L1492.0,961.3 L1493.0,963.8 L1493.6,964.9 L1494.0,965.5 L1495.0,966.9 L1496.0,968.1 L1497.0,969.1 L1498.0,970.0 L1499.0,970.8 L1500.0,971.6 L1500.3,971.8 L1501.0,972.3 L1502.0,972.9 L1503.0,973.5 L1504.0,974.0 L1505.0,974.5 L1506.0,974.9 L1507.0,975.4 L1508.0,975.9 L1509.0,976.5 L1510.0,977.1 L1510.5,977.5 L1511.0,977.8 L1512.0,978.7 L1513.0,979.7 L1514.0,980.8 L1515.0,981.9 L1516.0,982.9 L1517.0,983.8 L1518.0,984.7 L1518.5,985.0 L1519.0,985.3 L1520.0,986.0 L1521.0,986.6 L1522.0,987.2 L1523.0,987.6 L1524.0,988.0 L1525.0,988.2 L1525.3,988.2 L1526.0,988.2 L1527.0,988.0 L1528.0,987.8 L1529.0,987.4 L1530.0,987.0 L1531.0,986.6 L1531.0,986.6 L1532.0,986.0 L1533.0,985.0 L1534.0,983.8 L1535.0,982.3 L1536.0,980.7 L1537.0,979.0 L1537.9,977.5 L1538.0,977.2 L1539.0,975.3 L1540.0,973.1 L1541.0,970.6 L1542.0,967.9 L1543.0,965.2 L1544.0,962.4 L1544.7,960.4 L1545.0,959.5 L1546.0,956.6 L1547.0,953.6 L1548.0,950.4 L1549.0,947.0 L1550.0,943.6 L1550.4,942.1 L1551.0,940.0 L1552.0,936.2 L1553.0,932.2 L1554.0,928.0 L1555.0,923.9 L1555.0,923.7 L1556.0,919.2 L1557.0,914.4 L1558.0,909.7 L1558.4,907.9 L1559.0,905.1 L1560.0,900.5 L1561.0,896.1 L1561.8,893.1 L1562.0,892.5 L1563.0,888.9 L1564.0,886.0 L1564.8,885.2 L1565.0,885.2 L1566.0,885.2 L1567.0,885.2 L1568.0,885.2 L1568.6,885.2 L1569.0,885.2 L1570.0,886.4 L1571.0,888.4 L1572.0,890.7 L1572.1,890.9 L1573.0,893.6 L1574.0,897.5 L1575.0,901.6 L1575.5,903.4 L1576.0,905.3 L1577.0,909.1 L1578.0,912.9 L1579.0,916.4 L1580.0,919.2 L1580.0,919.3 L1581.0,921.6 L1582.0,923.8 L1583.0,925.8 L1584.0,927.5 L1585.0,928.8 L1585.7,929.6 L1586.0,929.8 L1587.0,930.7 L1588.0,931.4 L1589.0,932.0 L1590.0,932.6 L1591.0,933.1 L1592.0,933.6 L1593.0,933.9 L1593.7,934.2 L1594.0,934.2 L1595.0,934.5 L1596.0,934.8 L1597.0,935.1 L1598.0,935.3 L1599.0,935.5 L1600.0,935.7 L1601.0,935.7 L1601.7,935.8 L1602.0,935.7 L1603.0,935.5 L1604.0,935.1 L1605.0,934.6 L1606.0,933.9 L1607.0,933.3 L1607.4,933.0 L1608.0,932.5 L1609.0,931.4 L1610.0,930.2 L1611.0,929.3 L1612.0,928.9 L1612.0,928.9 L1613.0,929.1 L1614.0,929.7 L1615.0,930.4 L1616.0,931.4 L1616.5,931.9 L1617.0,932.5 L1618.0,934.6 L1619.0,937.4 L1620.0,940.4 L1621.0,943.1 L1621.1,943.3 L1622.0,945.6 L1623.0,948.3 L1624.0,950.9 L1625.0,953.3 L1626.0,955.5 L1626.8,957.0 L1627.0,957.3 L1628.0,958.9 L1629.0,960.3 L1630.0,961.5 L1631.0,962.7 L1632.0,963.8 L1633.0,965.0 L1634.0,966.2 L1634.7,967.2 L1635.0,967.6 L1636.0,969.2 L1637.0,970.9 L1638.0,972.7 L1639.0,974.4 L1640.0,975.8 L1641.0,977.0 L1641.6,977.5 L1642.0,977.7 L1643.0,978.4 L1644.0,978.9 L1645.0,979.4 L1646.0,979.7 L1646.8,979.7 L1647.0,979.7 L1648.0,979.2 L1649.0,978.0 L1650.0,976.6 L1651.0,975.1 L1651.8,974.1 L1652.0,973.9 L1653.0,972.8 L1654.0,971.7 L1655.0,970.7 L1656.0,969.7 L1657.0,968.8 L1657.5,968.4 L1658.0,968.0 L1659.0,967.3 L1660.0,966.7 L1661.0,966.1 L1662.0,965.5 L1663.0,964.7 L1663.2,964.5 L1664.0,963.6 L1665.0,962.1 L1666.0,960.3 L1667.0,958.6 L1668.0,957.0 L1668.9,955.8 L1669.0,955.8 L1670.0,954.7 L1671.0,953.7 L1672.0,952.9 L1673.0,952.5 L1673.5,952.4 L1674.0,952.5 L1675.0,952.9 L1676.0,953.7 L1677.0,954.7 L1678.0,955.8 L1678.1,955.8 L1679.0,957.1 L1680.0,959.0 L1681.0,961.2 L1682.0,963.7 L1683.0,966.3 L1683.8,968.4 L1684.0,969.0 L1685.0,972.1 L1686.0,975.5 L1687.0,978.9 L1688.0,982.2 L1688.3,983.2 L1689.0,985.2 L1690.0,988.3 L1691.0,991.2 L1692.0,993.8 L1692.9,995.7 L1693.0,995.9 L1694.0,997.7 L1695.0,999.4 L1696.0,1000.8 L1697.0,1002.1 L1698.0,1003.2 L1698.6,1003.7 L1699.0,1004.0 L1700.0,1004.8 L1701.0,1005.4 L1702.0,1006.0 L1703.0,1006.5 L1704.0,1007.0 L1705.0,1007.5 L1706.0,1008.0 L1706.5,1008.2 L1707.0,1008.5 L1708.0,1008.9 L1709.0,1009.3 L1710.0,1009.7 L1711.0,1010.0 L1712.0,1010.4 L1713.0,1010.7 L1714.0,1011.1 L1715.0,1011.5 L1716.0,1011.9 L1717.0,1012.3 L1717.9,1012.8 L1718.0,1012.8 L1719.0,1013.4 L1720.0,1014.0 L1721.0,1014.7 L1722.0,1015.5 L1723.0,1016.2 L1724.0,1017.0 L1725.0,1017.9 L1726.0,1018.7 L1727.0,1019.6 L1727.1,1019.6 L1728.0,1020.5 L1729.0,1021.4 L1730.0,1022.4 L1731.0,1023.5 L1732.0,1024.5 L1733.0,1025.6 L1734.0,1026.6 L1735.0,1027.6 L1736.0,1028.6 L1736.2,1028.8 L1737.0,1029.5 L1738.0,1030.5 L1739.0,1031.5 L1740.0,1032.5 L1741.0,1033.4 L1742.0,1034.3 L1743.0,1035.1 L1744.0,1035.9 L1745.0,1036.6 L1745.3,1036.7 L1746.0,1037.1 L1747.0,1037.7 L1748.0,1038.3 L1749.0,1038.8 L1750.0,1039.3 L1751.0,1039.6 L1752.0,1039.7 L1752.1,1039.7 L1753.0,1039.7 L1754.0,1039.5 L1755.0,1039.3 L1756.0,1039.0 L1757.0,1038.7 L1758.0,1038.3 L1759.0,1037.9 L1759.0,1037.9 L1760.0,1037.2 L1761.0,1036.3 L1762.0,1035.1 L1763.0,1033.7 L1764.0,1032.2 L1764.7,1031.0 L1765.0,1030.5 L1766.0,1028.4 L1767.0,1025.9 L1768.0,1023.0 L1769.0,1019.8 L1770.0,1016.4 L1770.4,1015.1 L1771.0,1012.8 L1772.0,1008.7 L1773.0,1004.2 L1774.0,999.2 L1775.0,993.9 L1776.0,988.2 L1776.1,987.7 L1777.0,981.8 L1778.0,974.6 L1779.0,966.8 L1780.0,958.7 L1780.6,953.5 L1781.0,950.5 L1782.0,941.9 L1783.0,932.9 L1784.0,923.7 L1785.0,914.3 L1785.2,912.5 L1786.0,904.7 L1787.0,894.8 L1788.0,884.6 L1789.0,874.5 L1789.7,866.9 L1790.0,864.4 L1791.0,854.4 L1792.0,844.4 L1793.0,834.4 L1794.0,824.4 L1794.3,821.3 L1795.0,814.1 L1796.0,803.4 L1797.0,793.3 L1797.7,787.1 L1798.0,785.1 L1799.0,778.0 L1800.0,771.8 L1801.0,767.1 L1801.1,766.6 L1802.0,763.9 L1803.0,761.1 L1804.0,759.2 L1804.6,758.6 L1805.0,758.4 L1806.0,757.8 L1807.0,757.5 L1807.3,757.5 L1808.0,757.7 L1809.0,758.8 L1810.0,760.2 L1811.0,761.6 L1811.4,762.1 L1812.0,762.7 L1813.0,763.7 L1814.0,764.6 L1815.0,765.6 L1816.0,766.6 L1816.0,766.7 L1817.0,767.6 L1818.0,768.5 L1819.0,769.6 L1820.0,771.1 L1820.1,771.2 L1821.0,773.9 L1822.0,778.3 L1822.8,782.6 L1823.0,783.7 L1824.0,790.8 L1825.0,799.3 L1826.0,808.1 L1826.2,809.9 L1827.0,816.5 L1828.0,825.2 L1829.0,833.9 L1830.0,842.4 L1830.8,848.7 L1831.0,850.4 L1832.0,857.9 L1833.0,865.2 L1834.0,872.2 L1835.0,879.2 L1836.0,886.3 L1836.5,889.7 L1837.0,893.5 L1838.0,900.9 L1839.0,908.3 L1840.0,915.6 L1841.0,922.7 L1842.0,929.6 L1842.2,930.7 L1843.0,936.1 L1844.0,942.4 L1845.0,948.6 L1846.0,954.6 L1847.0,960.5 L1848.0,966.2 L1849.0,971.7 L1849.0,971.8 L1850.0,977.1 L1851.0,982.4 L1852.0,987.5 L1853.0,992.5 L1854.0,997.4 L1855.0,1002.1 L1855.9,1006.0 L1856.0,1006.6 L1857.0,1010.8 L1858.0,1014.6 L1859.0,1018.2 L1860.0,1021.9 L1861.0,1025.8 L1862.0,1030.1 L1862.7,1033.3 L1863.0,1035.0 L1864.0,1041.5 L1865.0,1046.7 L1865.0,1046.8 L1866.0,1050.3 L1867.0,1053.2 L1868.0,1055.5 L1868.8,1057.0 L1869.0,1057.2 L1870.0,1058.8 L1871.0,1060.0 L1871.8,1060.4 L1872.0,1060.4 L1873.0,1059.8 L1874.0,1058.4 L1874.8,1057.0 L1875.0,1056.3 L1876.0,1050.2 L1876.8,1043.3 L1877.0,1041.8 L1878.0,1030.9 L1878.6,1022.8 L1879.0,1018.4 L1880.0,1004.2 L1880.2,1000.0 L1881.0,981.7 L1881.2,977.0 L1882.0,961.2 L1883.0,942.0 L1883.2,937.6 L1884.0,917.4 L1884.7,898.0 L1885.0,889.6 L1886.0,860.8 L1886.7,838.8 L1887.0,828.8 L1888.0,792.0 L1888.3,779.5 L1888.9,750.0 L1889.0,744.5 L1890.0,681.1 L1890.7,638.0 L1891.0,622.2 L1892.0,575.3 L1892.7,539.0 L1893.0,519.6 L1894.0,450.0 L1895.0,403.1 L1896.0,360.0 L1897.0,308.3 L1898.0,256.3 L1898.4,238.0 L1899.0,213.5 L1900.0,177.0 L1900.5,160.0 L1901.0,143.9 L1901.5,129.0 L1902.0,143.9 L1902.5,160.0 L1903.0,177.0 L1904.0,213.5 L1904.6,238.0 L1905.0,256.0 L1906.0,306.7 L1907.0,360.0 L1908.0,414.1 L1909.0,468.9 L1909.5,495.0 L1910.0,521.0 L1910.4,539.0 L1911.0,560.5 L1912.0,591.5 L1913.0,617.7 L1913.9,638.0 L1914.0,640.1 L1915.0,661.1 L1916.0,681.2 L1917.0,700.0 L1918.0,716.9 L1919.0,731.5 L1920.0,743.1 L1920.8,750.0 L1921.0,751.3 L1922.0,755.9 L1922.7,759.8 L1923.0,762.7 L1924.0,776.2 L1924.3,779.5 L1925.0,785.3 L1926.0,792.2 L1927.0,798.1 L1927.2,799.3 L1928.0,803.7 L1929.0,808.6 L1930.0,813.3 L1931.0,818.0 L1931.2,819.0 L1932.0,823.1 L1933.0,828.3 L1934.0,833.4 L1935.0,838.3 L1935.1,838.8 L1936.0,842.9 L1937.0,847.2 L1938.0,851.5 L1939.0,855.6 L1939.7,858.6 L1940.0,859.9 L1941.0,864.2 L1942.0,868.5 L1943.0,872.7 L1944.0,876.7 L1944.4,878.3 L1945.0,880.6 L1946.0,884.2 L1947.0,887.8 L1948.0,891.2 L1949.0,894.7 L1950.0,898.1 L1951.0,901.5 L1952.0,904.9 L1953.0,908.2 L1954.0,911.6 L1955.0,914.9 L1955.9,917.9 L1956.0,918.2 L1957.0,921.6 L1958.0,925.1 L1959.0,928.5 L1960.0,931.9 L1961.0,935.1 L1961.8,937.6 L1962.0,938.2 L1963.0,941.1 L1964.0,944.0 L1965.0,946.8 L1966.0,949.4 L1967.0,951.8 L1967.7,953.4 L1968.0,954.0 L1969.0,956.1 L1970.0,957.9 L1971.0,959.7 L1972.0,961.4 L1973.0,963.1 L1973.7,964.3 L1974.0,964.8 L1975.0,966.6 L1976.0,968.3 L1977.0,970.0 L1978.0,971.7 L1979.0,973.4 L1980.0,975.0" stroke="#0000ff" stroke-width="7.0"/>
<path d="M150.3,923.4 L151.0,923.7 L152.0,924.1 L153.0,924.5 L154.0,924.9 L155.0,925.3 L156.0,925.7 L157.0,926.1 L157.1,926.2 L158.0,926.6 L159.0,927.1 L160.0,927.7 L161.0,928.3 L162.0,928.8 L163.0,929.3 L164.0,929.7 L165.0,930.0 L165.1,930.1 L166.0,930.3 L167.0,930.5 L168.0,930.7 L169.0,930.9 L170.0,931.1 L171.0,931.2 L172.0,931.3 L173.0,931.4 L174.0,931.4 L174.2,931.4 L175.0,931.4 L176.0,931.3 L177.0,931.1 L178.0,930.9 L179.0,930.7 L180.0,930.4 L181.0,930.2 L182.0,930.1 L182.2,930.1 L183.0,929.9 L184.0,929.8 L185.0,929.7 L186.0,929.6 L187.0,929.5 L188.0,929.4 L189.0,929.4 L189.0,929.4 L190.0,929.4 L191.0,929.6 L192.0,929.8 L193.0,930.1 L194.0,930.4 L195.0,930.6 L195.8,930.7 L196.0,930.8 L197.0,930.9 L198.0,931.0 L199.0,931.2 L200.0,931.3 L201.0,931.4 L202.0,931.4 L202.7,931.4 L203.0,931.4 L204.0,931.3 L205.0,931.1 L206.0,930.9 L207.0,930.6 L208.0,930.2 L209.0,929.8 L210.0,929.4 L210.7,929.1 L211.0,929.0 L212.0,928.6 L213.0,928.0 L214.0,927.5 L215.0,926.9 L216.0,926.2 L217.0,925.5 L218.0,924.8 L219.0,924.0 L219.8,923.4 L220.0,923.3 L221.0,922.5 L222.0,921.6 L223.0,920.7 L224.0,919.7 L225.0,918.7 L226.0,917.7 L227.0,916.7 L228.0,915.7 L228.9,914.8 L229.0,914.7 L230.0,913.7 L231.0,912.7 L232.0,911.7 L233.0,910.7 L234.0,909.7 L235.0,908.7 L236.0,907.8 L237.0,906.9 L238.0,906.1 L238.0,906.1 L239.0,905.4 L240.0,904.6 L241.0,903.9 L242.0,903.2 L243.0,902.5 L244.0,901.9 L245.0,901.3 L246.0,900.9 L247.0,900.5 L247.1,900.4 L248.0,900.1 L249.0,899.8 L250.0,899.5 L251.0,899.2 L252.0,898.9 L253.0,898.7 L254.0,898.5 L255.0,898.4 L256.0,898.4 L256.3,898.4 L257.0,898.4 L258.0,898.5 L259.0,898.6 L260.0,898.8 L261.0,899.1 L262.0,899.3 L263.0,899.6 L264.0,899.9 L264.2,900.0 L265.0,900.2 L266.0,900.7 L267.0,901.2 L268.0,901.8 L269.0,902.4 L270.0,903.1 L271.0,903.7 L272.0,904.4 L273.0,905.0 L273.3,905.2 L274.0,905.6 L275.0,906.2 L276.0,906.9 L277.0,907.6 L278.0,908.3 L279.0,908.9 L280.0,909.5 L281.0,910.0 L282.0,910.5 L282.5,910.7 L283.0,910.9 L284.0,911.3 L285.0,911.6 L286.0,911.9 L287.0,912.2 L288.0,912.4 L289.0,912.5 L289.3,912.5 L290.0,912.5 L291.0,912.4 L292.0,912.2 L293.0,912.0 L294.0,911.7 L295.0,911.4 L295.0,911.4 L296.0,910.9 L297.0,910.1 L298.0,909.1 L299.0,908.0 L300.0,906.8 L301.0,905.5 L301.8,904.5 L302.0,904.3 L303.0,903.0 L304.0,901.5 L305.0,899.9 L306.0,898.3 L307.0,896.8 L308.0,895.5 L308.7,894.7 L309.0,894.4 L310.0,893.4 L311.0,892.4 L312.0,891.7 L313.0,891.3 L313.2,891.3 L314.0,891.3 L315.0,891.4 L316.0,891.6 L317.0,891.8 L317.8,892.0 L318.0,892.1 L319.0,892.7 L320.0,893.6 L321.0,894.6 L322.0,895.3 L322.4,895.4 L323.0,895.6 L324.0,895.8 L325.0,895.9 L326.0,896.1 L326.9,896.1 L327.0,896.1 L328.0,895.8 L329.0,895.1 L330.0,894.0 L331.0,892.8 L332.0,891.6 L332.6,890.9 L333.0,890.4 L334.0,889.1 L335.0,887.7 L336.0,886.1 L337.0,884.4 L338.0,882.7 L339.0,880.9 L339.5,880.1 L340.0,879.1 L341.0,877.1 L342.0,875.0 L343.0,872.8 L344.0,870.6 L345.0,868.4 L346.0,866.4 L346.3,865.8 L347.0,864.4 L348.0,862.4 L349.0,860.4 L350.0,858.5 L351.0,856.7 L352.0,855.0 L353.0,853.4 L353.1,853.2 L354.0,852.0 L355.0,850.5 L356.0,849.1 L357.0,847.8 L358.0,846.7 L359.0,845.8 L360.0,845.3 L360.0,845.2 L361.0,844.8 L362.0,844.4 L363.0,844.1 L364.0,843.8 L365.0,843.6 L366.0,843.5 L366.8,843.4 L367.0,843.4 L368.0,843.6 L369.0,843.9 L370.0,844.3 L371.0,844.8 L372.0,845.4 L373.0,846.0 L373.6,846.4 L374.0,846.6 L375.0,847.5 L376.0,848.5 L377.0,849.7 L378.0,850.9 L379.0,852.2 L380.0,853.4 L380.5,853.9 L381.0,854.5 L382.0,855.7 L383.0,856.9 L384.0,858.1 L385.0,859.3 L386.0,860.5 L387.0,861.6 L388.0,862.6 L388.5,863.0 L389.0,863.6 L390.0,864.6 L391.0,865.6 L392.0,866.5 L393.0,867.3 L394.0,868.0 L395.0,868.4 L395.3,868.5 L396.0,868.7 L397.0,868.9 L398.0,869.1 L399.0,869.2 L400.0,869.4 L401.0,869.5 L402.0,869.6 L403.0,869.6 L404.0,869.6 L404.4,869.7 L405.0,869.6 L406.0,869.6 L407.0,869.5 L408.0,869.5 L409.0,869.3 L410.0,869.2 L411.0,869.0 L412.0,868.8 L412.4,868.7 L413.0,868.5 L414.0,867.8 L415.0,866.8 L416.0,865.4 L417.0,864.0 L418.0,862.5 L418.1,862.4 L419.0,860.8 L420.0,858.6 L421.0,856.2 L422.0,853.7 L423.0,851.4 L423.8,849.8 L424.0,849.4 L425.0,847.5 L426.0,845.6 L427.0,843.8 L428.0,842.2 L429.0,841.1 L429.5,840.7 L430.0,840.4 L431.0,839.8 L432.0,839.3 L433.0,838.8 L434.0,838.6 L435.0,838.4 L435.2,838.4 L436.0,838.6 L437.0,839.1 L438.0,840.0 L439.0,841.0 L439.7,841.8 L440.0,842.1 L441.0,843.8 L442.0,845.9 L443.0,848.3 L444.0,850.6 L445.0,852.6 L445.4,853.2 L446.0,854.0 L447.0,855.4 L448.0,856.6 L449.0,857.5 L450.0,857.8 L450.0,857.8 L451.0,857.6 L452.0,856.9 L453.0,855.9 L454.0,854.5 L454.1,854.4 L455.0,851.1 L456.0,844.8 L456.8,839.6 L457.0,838.7 L458.0,832.9 L459.0,827.2 L460.0,822.3 L460.3,821.3 L461.0,818.8 L462.0,815.7 L463.0,813.3 L463.7,812.2 L464.0,811.8 L465.0,810.8 L466.0,810.1 L466.6,809.9 L467.0,810.0 L468.0,811.3 L469.0,813.5 L469.4,814.5 L470.0,817.1 L471.0,824.2 L472.0,832.4 L472.3,835.0 L473.0,839.8 L474.0,847.4 L475.0,854.5 L475.5,857.8 L476.0,860.4 L477.0,865.7 L478.0,870.3 L479.0,873.8 L479.0,873.9 L480.0,876.8 L481.0,879.4 L482.0,881.4 L483.0,882.4 L483.1,882.4 L484.0,882.7 L485.0,883.0 L486.0,883.2 L487.0,883.3 L487.6,883.3 L488.0,883.3 L489.0,882.7 L490.0,881.9 L491.0,881.0 L492.0,880.6 L492.2,880.6 L493.0,880.7 L494.0,881.0 L495.0,881.4 L495.6,881.7 L496.0,882.1 L497.0,884.1 L498.0,886.9 L499.0,889.7 L499.0,889.7 L500.0,892.4 L501.0,895.3 L502.0,898.2 L503.0,900.9 L503.6,902.2 L504.0,903.2 L505.0,905.3 L506.0,907.3 L507.0,909.2 L508.0,910.8 L509.0,912.2 L509.3,912.5 L510.0,913.3 L511.0,914.4 L512.0,915.3 L513.0,916.2 L514.0,916.9 L515.0,917.6 L516.0,918.2 L516.1,918.2 L517.0,918.6 L518.0,919.0 L519.0,919.4 L520.0,919.8 L521.0,920.1 L522.0,920.3 L522.9,920.5 L523.0,920.5 L524.0,920.6 L525.0,920.7 L526.0,920.8 L527.0,920.9 L528.0,920.9 L529.0,921.0 L529.8,921.2 L530.0,921.2 L531.0,921.5 L532.0,922.0 L533.0,922.6 L534.0,923.3 L535.0,924.0 L536.0,924.6 L536.6,925.0 L537.0,925.3 L538.0,925.9 L539.0,926.7 L540.0,927.4 L541.0,928.1 L542.0,928.8 L543.0,929.4 L543.5,929.6 L544.0,929.9 L545.0,930.4 L546.0,930.9 L547.0,931.4 L548.0,931.8 L549.0,932.1 L550.0,932.3 L550.3,932.3 L551.0,932.4 L552.0,932.4 L553.0,932.4 L554.0,932.4 L555.0,932.5 L556.0,932.5 L557.0,932.5 L558.0,932.5 L559.0,932.5 L560.0,932.5 L561.0,932.5 L561.7,932.6 L562.0,932.6 L563.0,932.6 L564.0,932.7 L565.0,932.8 L566.0,932.9 L567.0,933.0 L568.0,933.1 L569.0,933.2 L570.0,933.3 L571.0,933.4 L572.0,933.5 L573.0,933.5 L573.1,933.5 L574.0,933.5 L575.0,933.4 L576.0,933.3 L577.0,933.2 L578.0,933.1 L579.0,932.9 L580.0,932.8 L581.0,932.6 L582.0,932.4 L583.0,932.2 L584.0,932.0 L584.5,931.9 L585.0,931.8 L586.0,931.5 L587.0,931.3 L588.0,930.9 L589.0,930.6 L590.0,930.3 L591.0,929.9 L592.0,929.5 L593.0,929.1 L593.6,928.9 L594.0,928.8 L595.0,928.4 L596.0,928.0 L597.0,927.6 L598.0,927.1 L599.0,926.7 L600.0,926.2 L600.0,926.2 L601.0,925.7 L602.0,925.2 L603.0,924.7 L604.0,924.2 L605.0,923.7 L606.0,923.1 L607.0,922.5 L608.0,921.8 L608.2,921.6 L609.0,921.0 L610.0,920.2 L611.0,919.2 L612.0,918.1 L613.0,917.0 L614.0,915.7 L615.0,914.3 L616.0,912.8 L616.2,912.5 L617.0,911.2 L618.0,909.4 L619.0,907.2 L620.0,904.7 L621.0,901.9 L621.9,898.8 L622.0,898.5 L623.0,893.9 L624.0,887.9 L625.0,880.8 L625.3,878.3 L626.0,872.9 L627.0,863.3 L628.0,851.8 L628.1,851.0 L629.0,837.0 L630.0,819.0 L630.1,816.8 L631.0,798.3 L631.7,782.6 L632.0,776.2 L633.0,753.9 L633.3,748.4 L634.0,737.9 L635.0,725.5 L635.6,721.0 L636.0,718.9 L637.0,714.5 L638.0,712.1 L638.3,711.9 L639.0,712.6 L640.0,715.4 L640.6,717.6 L641.0,719.7 L642.0,728.3 L642.9,737.0 L643.0,738.1 L644.0,748.4 L645.0,759.1 L645.8,766.6 L646.0,767.8 L647.0,774.9 L648.0,781.2 L649.0,786.1 L649.3,787.1 L650.0,789.7 L651.0,793.0 L652.0,795.7 L653.0,797.2 L653.4,797.4 L654.0,797.6 L655.0,797.8 L656.0,797.9 L657.0,798.0 L658.0,798.1 L658.4,798.1 L659.0,798.0 L660.0,797.5 L661.0,796.7 L662.0,795.6 L663.0,794.4 L664.0,793.2 L665.0,792.0 L665.2,791.7 L666.0,790.8 L667.0,789.5 L668.0,788.1 L669.0,786.6 L670.0,785.0 L671.0,783.4 L672.0,781.8 L673.0,780.2 L674.0,778.6 L674.3,778.0 L675.0,777.0 L676.0,775.4 L677.0,773.9 L678.0,772.3 L679.0,770.6 L680.0,768.9 L681.0,767.0 L682.0,765.0 L682.3,764.3 L683.0,762.9 L684.0,760.6 L685.0,758.2 L686.0,755.4 L687.0,752.2 L688.0,748.5 L688.0,748.4 L689.0,743.4 L690.0,736.8 L691.0,729.1 L691.4,725.6 L692.0,720.8 L693.0,710.9 L693.7,702.8 L694.0,699.2 L695.0,684.5 L695.3,680.0 L696.0,670.4 L697.0,656.6 L698.0,643.1 L698.7,633.5 L699.0,630.1 L700.0,617.6 L700.6,610.7 L701.0,605.0 L702.0,592.1 L702.4,587.9 L703.0,581.8 L704.0,574.3 L704.0,574.1 L705.0,570.0 L705.1,569.7 L706.0,573.7 L706.3,575.4 L707.0,583.8 L707.4,587.9 L708.0,592.4 L709.0,598.5 L710.0,603.6 L711.0,608.3 L711.5,610.7 L712.0,613.2 L713.0,618.0 L714.0,622.6 L715.0,627.1 L716.0,631.4 L716.5,633.5 L717.0,635.6 L718.0,639.8 L719.0,643.9 L720.0,647.9 L721.0,651.5 L721.8,654.1 L722.0,654.8 L723.0,657.9 L724.0,660.8 L725.0,663.5 L726.0,666.0 L726.8,667.7 L727.0,668.2 L728.0,670.3 L729.0,672.3 L730.0,674.1 L731.0,675.8 L732.0,677.5 L733.0,679.1 L733.6,680.0 L734.0,680.6 L735.0,681.9 L736.0,683.2 L737.0,684.4 L738.0,685.6 L739.0,686.9 L740.0,688.4 L740.4,689.1 L741.0,690.1 L742.0,692.2 L743.0,694.4 L744.0,696.9 L745.0,699.6 L746.0,702.4 L746.1,702.8 L747.0,705.5 L748.0,709.0 L749.0,712.7 L750.0,716.4 L750.7,718.8 L751.0,719.7 L752.0,723.2 L753.0,726.5 L754.0,729.1 L754.6,730.1 L755.0,730.7 L756.0,732.0 L757.0,733.1 L758.0,734.0 L759.0,734.6 L759.8,734.7 L760.0,734.7 L761.0,734.7 L762.0,734.7 L763.0,734.6 L764.0,734.5 L765.0,734.4 L766.0,734.3 L766.7,734.3 L767.0,734.2 L768.0,733.8 L769.0,733.1 L770.0,732.3 L771.0,731.4 L772.0,730.5 L772.4,730.1 L773.0,729.5 L774.0,728.4 L775.0,727.2 L776.0,726.0 L777.0,725.1 L778.0,724.5 L778.1,724.4 L779.0,724.1 L780.0,723.9 L781.0,723.6 L782.0,723.4 L783.0,723.3 L783.8,723.3 L784.0,723.3 L785.0,723.7 L786.0,724.4 L787.0,725.3 L788.0,726.3 L789.0,727.2 L790.0,728.0 L790.6,728.3 L791.0,728.5 L792.0,729.0 L793.0,729.4 L794.0,729.7 L795.0,730.0 L796.0,730.1 L796.3,730.1 L797.0,730.1 L798.0,730.0 L799.0,729.8 L800.0,729.6 L801.0,729.3 L802.0,729.0 L802.0,729.0 L803.0,728.6 L804.0,727.9 L805.0,727.1 L806.0,726.2 L807.0,725.2 L808.0,724.1 L808.8,723.3 L809.0,723.1 L810.0,722.1 L811.0,721.1 L812.0,719.9 L813.0,718.7 L814.0,717.5 L815.0,716.2 L815.7,715.3 L816.0,714.9 L817.0,713.4 L818.0,711.7 L819.0,710.0 L820.0,708.2 L821.0,706.4 L822.0,704.7 L823.0,703.1 L824.0,701.6 L824.8,700.5 L825.0,700.2 L826.0,699.1 L827.0,697.9 L828.0,696.9 L829.0,695.9 L830.0,694.9 L831.0,693.9 L832.0,693.0 L833.0,692.1 L834.0,691.2 L835.0,690.3 L835.0,690.3 L836.0,689.3 L837.0,688.3 L838.0,687.3 L839.0,686.4 L840.0,685.4 L841.0,684.6 L842.0,683.9 L843.0,683.4 L843.0,683.4 L844.0,683.0 L845.0,682.6 L846.0,682.3 L847.0,682.0 L848.0,681.9 L848.7,681.8 L849.0,681.8 L850.0,682.1 L851.0,682.5 L852.0,683.1 L853.0,683.9 L854.0,684.6 L855.0,685.3 L855.6,685.7 L856.0,686.0 L857.0,686.6 L858.0,687.2 L859.0,687.8 L860.0,688.5 L861.0,689.1 L862.0,689.8 L863.0,690.5 L864.0,691.2 L865.0,691.9 L865.8,692.5 L866.0,692.7 L867.0,693.5 L868.0,694.3 L869.0,695.2 L870.0,696.1 L871.0,697.0 L872.0,697.9 L873.0,698.8 L874.0,699.7 L874.9,700.5 L875.0,700.6 L876.0,701.5 L877.0,702.4 L878.0,703.3 L879.0,704.3 L880.0,705.1 L881.0,706.0 L882.0,706.7 L882.9,707.4 L883.0,707.4 L884.0,708.0 L885.0,708.5 L886.0,709.0 L887.0,709.5 L888.0,709.9 L889.0,710.3 L890.0,710.8 L890.9,711.2 L891.0,711.3 L892.0,711.8 L893.0,712.3 L894.0,712.8 L895.0,713.2 L896.0,713.7 L897.0,714.3 L898.0,714.8 L899.0,715.4 L900.0,716.0 L900.0,716.0 L901.0,716.7 L902.0,717.5 L903.0,718.3 L904.0,719.2 L905.0,720.1 L906.0,721.0 L907.0,722.0 L908.0,722.9 L909.0,723.7 L910.0,724.6 L911.0,725.3 L911.4,725.6 L912.0,726.0 L913.0,726.6 L914.0,727.2 L915.0,727.7 L916.0,728.2 L917.0,728.7 L918.0,729.2 L919.0,729.7 L920.0,730.2 L921.0,730.8 L922.0,731.4 L922.8,732.0 L923.0,732.1 L924.0,732.9 L925.0,733.7 L926.0,734.5 L927.0,735.4 L928.0,736.4 L929.0,737.4 L930.0,738.4 L931.0,739.4 L931.9,740.4 L932.0,740.5 L933.0,741.6 L934.0,742.8 L935.0,744.1 L936.0,745.5 L937.0,746.9 L938.0,748.3 L939.0,749.7 L940.0,751.0 L941.0,752.4 L942.0,753.7 L943.0,754.9 L943.3,755.2 L944.0,756.0 L945.0,757.1 L946.0,758.1 L947.0,759.1 L948.0,760.1 L949.0,761.1 L950.0,762.1 L951.0,763.0 L952.0,764.0 L953.0,764.9 L954.0,765.9 L954.7,766.6 L955.0,766.9 L956.0,767.9 L957.0,769.0 L958.0,770.0 L959.0,771.0 L960.0,772.1 L961.0,773.1 L962.0,774.1 L963.0,775.1 L964.0,776.1 L965.0,777.0 L966.0,777.9 L966.1,778.0 L967.0,778.8 L968.0,779.6 L969.0,780.4 L970.0,781.2 L971.0,782.0 L972.0,782.8 L973.0,783.5 L974.0,784.2 L975.0,785.0 L976.0,785.7 L977.0,786.3 L977.5,786.7 L978.0,787.0 L979.0,787.8 L980.0,788.5 L981.0,789.3 L982.0,790.1 L983.0,790.9 L984.0,791.6 L985.0,792.2 L986.0,792.8 L987.0,793.2 L988.0,793.4 L988.9,793.5 L989.0,793.5 L990.0,793.3 L991.0,792.7 L992.0,792.0 L993.0,791.3 L994.0,790.7 L994.6,790.6 L995.0,790.5 L996.0,790.3 L997.0,790.1 L998.0,790.0 L999.0,789.9 L1000.0,789.9 L1000.3,789.9 L1001.0,790.1 L1002.0,791.0 L1003.0,792.5 L1004.0,794.2 L1005.0,795.9 L1006.0,797.4 L1006.0,797.4 L1007.0,798.6 L1008.0,799.9 L1009.0,801.2 L1010.0,802.4 L1011.0,803.6 L1012.0,804.6 L1013.0,805.6 L1014.0,806.5 L1014.0,806.5 L1015.0,807.3 L1016.0,808.0 L1017.0,808.7 L1018.0,809.4 L1019.0,810.0 L1020.0,810.6 L1021.0,811.1 L1022.0,811.7 L1023.0,812.2 L1023.1,812.2 L1024.0,812.6 L1025.0,813.1 L1026.0,813.5 L1027.0,813.9 L1028.0,814.3 L1029.0,814.6 L1030.0,815.0 L1031.0,815.4 L1032.0,815.7 L1033.0,816.1 L1034.0,816.6 L1034.5,816.8 L1035.0,817.0 L1036.0,817.4 L1037.0,817.9 L1038.0,818.4 L1039.0,818.9 L1040.0,819.3 L1041.0,819.9 L1042.0,820.4 L1043.0,821.0 L1043.6,821.3 L1044.0,821.6 L1045.0,822.2 L1046.0,822.9 L1047.0,823.7 L1048.0,824.4 L1049.0,825.2 L1050.0,825.9 L1050.0,825.9 L1051.0,826.6 L1052.0,827.2 L1053.0,827.9 L1054.0,828.5 L1055.0,829.1 L1056.0,829.7 L1057.0,830.4 L1058.0,831.0 L1059.0,831.6 L1060.0,832.2 L1061.0,832.8 L1061.7,833.2 L1062.0,833.4 L1063.0,834.0 L1064.0,834.7 L1065.0,835.3 L1066.0,836.0 L1067.0,836.6 L1068.0,837.2 L1069.0,837.8 L1070.0,838.3 L1071.0,838.8 L1071.9,839.1 L1072.0,839.1 L1073.0,839.5 L1074.0,839.8 L1075.0,840.2 L1076.0,840.5 L1077.0,840.8 L1078.0,841.0 L1079.0,841.2 L1080.0,841.3 L1081.0,841.4 L1081.0,841.4 L1082.0,841.4 L1083.0,841.3 L1084.0,841.2 L1085.0,841.1 L1086.0,841.0 L1087.0,840.8 L1088.0,840.6 L1089.0,840.5 L1090.0,840.3 L1090.1,840.2 L1091.0,840.0 L1092.0,839.7 L1093.0,839.3 L1094.0,838.8 L1095.0,838.4 L1096.0,837.9 L1097.0,837.6 L1098.0,837.3 L1098.1,837.3 L1099.0,837.1 L1100.0,837.0 L1101.0,836.8 L1102.0,836.7 L1103.0,836.5 L1104.0,836.5 L1105.0,836.4 L1106.0,836.4 L1106.1,836.4 L1107.0,836.4 L1108.0,836.6 L1109.0,836.9 L1110.0,837.3 L1111.0,837.7 L1112.0,838.1 L1112.9,838.4 L1113.0,838.4 L1114.0,838.8 L1115.0,839.2 L1116.0,839.7 L1117.0,840.1 L1118.0,840.4 L1119.0,840.6 L1119.8,840.7 L1120.0,840.7 L1121.0,840.6 L1122.0,840.3 L1123.0,839.9 L1124.0,839.5 L1125.0,839.1 L1125.5,838.9 L1126.0,838.7 L1127.0,838.1 L1128.0,837.5 L1129.0,837.0 L1130.0,836.8 L1130.0,836.8 L1131.0,836.9 L1132.0,837.1 L1133.0,837.4 L1134.0,837.7 L1134.6,838.0 L1135.0,838.2 L1136.0,839.5 L1137.0,841.3 L1138.0,843.3 L1139.0,845.0 L1139.2,845.3 L1140.0,846.5 L1141.0,847.9 L1142.0,849.3 L1143.0,850.6 L1144.0,851.7 L1144.9,852.6 L1145.0,852.7 L1146.0,853.6 L1147.0,854.5 L1148.0,855.3 L1149.0,856.0 L1150.0,856.6 L1151.0,857.1 L1151.7,857.3 L1152.0,857.4 L1153.0,857.7 L1154.0,857.9 L1155.0,858.1 L1156.0,858.3 L1157.0,858.4 L1158.0,858.5 L1158.5,858.5 L1159.0,858.5 L1160.0,858.3 L1161.0,858.0 L1162.0,857.7 L1163.0,857.2 L1164.0,856.8 L1164.2,856.7 L1165.0,856.1 L1166.0,855.1 L1167.0,853.9 L1168.0,852.7 L1169.0,851.6 L1169.9,851.0 L1170.0,850.9 L1171.0,850.4 L1172.0,850.0 L1173.0,849.6 L1174.0,849.4 L1174.5,849.4 L1175.0,849.4 L1176.0,849.7 L1177.0,850.1 L1178.0,850.7 L1179.0,851.4 L1179.0,851.4 L1180.0,852.3 L1181.0,853.6 L1182.0,855.1 L1183.0,856.6 L1184.0,858.1 L1184.7,858.9 L1185.0,859.2 L1186.0,860.2 L1187.0,861.1 L1188.0,862.0 L1189.0,862.8 L1190.0,863.6 L1191.0,864.3 L1191.6,864.6 L1192.0,864.9 L1193.0,865.4 L1194.0,866.0 L1195.0,866.5 L1196.0,866.9 L1197.0,867.4 L1198.0,867.8 L1199.0,868.2 L1200.0,868.6 L1201.0,868.9 L1201.8,869.2 L1202.0,869.2 L1203.0,869.6 L1204.0,869.9 L1205.0,870.2 L1206.0,870.5 L1207.0,870.8 L1208.0,871.1 L1209.0,871.3 L1210.0,871.6 L1211.0,871.8 L1212.0,872.0 L1213.0,872.2 L1214.0,872.4 L1215.0,872.5 L1215.5,872.6 L1216.0,872.7 L1217.0,872.8 L1218.0,872.9 L1219.0,873.0 L1220.0,873.2 L1221.0,873.3 L1222.0,873.4 L1223.0,873.5 L1224.0,873.5 L1225.0,873.6 L1226.0,873.7 L1227.0,873.7 L1228.0,873.7 L1229.0,873.8 L1229.2,873.8 L1230.0,873.8 L1231.0,873.8 L1232.0,873.8 L1233.0,873.8 L1234.0,873.8 L1235.0,873.8 L1236.0,873.8 L1237.0,873.8 L1238.0,873.8 L1239.0,873.8 L1240.0,873.8 L1240.6,873.8 L1241.0,873.8 L1242.0,873.9 L1243.0,874.0 L1244.0,874.3 L1245.0,874.6 L1246.0,874.8 L1247.0,875.1 L1248.0,875.3 L1249.0,875.5 L1249.7,875.6 L1250.0,875.6 L1251.0,875.7 L1252.0,875.7 L1253.0,875.8 L1254.0,875.8 L1255.0,875.8 L1256.0,875.9 L1257.0,875.9 L1258.0,876.0 L1259.0,876.0 L1260.0,876.0 L1261.0,876.0 L1262.0,876.0 L1263.0,876.0 L1263.4,876.0 L1264.0,876.0 L1265.0,876.0 L1266.0,876.0 L1267.0,876.0 L1268.0,876.0 L1269.0,876.0 L1270.0,876.0 L1271.0,875.9 L1272.0,875.9 L1273.0,875.9 L1274.0,875.8 L1275.0,875.8 L1276.0,875.7 L1277.0,875.7 L1278.0,875.7 L1279.0,875.6 L1279.3,875.6 L1280.0,875.5 L1281.0,875.4 L1282.0,875.1 L1283.0,874.8 L1284.0,874.5 L1285.0,874.1 L1286.0,873.7 L1287.0,873.2 L1288.0,872.8 L1288.5,872.6 L1289.0,872.4 L1290.0,871.9 L1291.0,871.3 L1292.0,870.8 L1293.0,870.1 L1294.0,869.5 L1295.0,868.8 L1296.0,868.1 L1297.0,867.3 L1297.6,866.9 L1298.0,866.6 L1299.0,865.7 L1300.0,864.7 L1301.0,863.7 L1302.0,862.7 L1303.0,861.8 L1304.0,861.0 L1304.4,860.8 L1305.0,860.4 L1306.0,859.9 L1307.0,859.4 L1308.0,858.9 L1309.0,858.6 L1310.0,858.5 L1310.1,858.5 L1311.0,858.6 L1312.0,858.8 L1313.0,859.3 L1314.0,859.8 L1315.0,860.3 L1315.8,860.8 L1316.0,860.9 L1317.0,861.5 L1318.0,862.3 L1319.0,863.2 L1320.0,864.1 L1321.0,865.0 L1322.0,865.9 L1322.7,866.5 L1323.0,866.7 L1324.0,867.6 L1325.0,868.6 L1326.0,869.5 L1327.0,870.2 L1328.0,870.9 L1328.4,871.0 L1329.0,871.3 L1330.0,871.7 L1331.0,872.0 L1332.0,872.3 L1333.0,872.5 L1334.0,872.6 L1334.1,872.6 L1335.0,872.2 L1336.0,871.0 L1337.0,869.6 L1338.0,868.5 L1338.6,868.1 L1339.0,867.9 L1340.0,867.5 L1341.0,867.2 L1342.0,867.0 L1343.0,866.9 L1343.2,866.9 L1344.0,867.2 L1345.0,868.2 L1346.0,869.6 L1346.6,870.3 L1347.0,870.9 L1348.0,872.7 L1349.0,874.7 L1350.0,876.6 L1351.0,878.2 L1351.1,878.3 L1352.0,879.2 L1353.0,880.2 L1354.0,881.1 L1355.0,881.6 L1355.7,881.7 L1356.0,881.7 L1357.0,881.1 L1358.0,880.0 L1359.0,878.5 L1359.1,878.3 L1360.0,875.7 L1361.0,871.1 L1361.9,866.9 L1362.0,866.3 L1363.0,861.5 L1364.0,856.7 L1364.8,853.2 L1365.0,852.6 L1366.0,849.1 L1367.0,845.9 L1368.0,843.5 L1368.2,843.0 L1369.0,841.7 L1370.0,840.1 L1371.0,839.0 L1371.7,838.4 L1372.0,838.2 L1373.0,837.5 L1374.0,837.0 L1375.0,836.8 L1375.1,836.8 L1376.0,837.1 L1377.0,837.9 L1378.0,839.0 L1378.5,839.6 L1379.0,840.2 L1380.0,842.2 L1381.0,844.4 L1381.9,846.4 L1382.0,846.6 L1383.0,848.7 L1384.0,850.9 L1385.0,853.0 L1386.0,854.8 L1386.5,855.5 L1387.0,856.2 L1388.0,857.5 L1389.0,858.6 L1390.0,859.6 L1391.0,860.5 L1392.0,861.1 L1392.2,861.2 L1393.0,861.6 L1394.0,862.1 L1395.0,862.6 L1396.0,862.9 L1397.0,863.2 L1398.0,863.4 L1399.0,863.5 L1399.0,863.5 L1400.0,863.4 L1401.0,863.1 L1402.0,862.7 L1403.0,862.2 L1404.0,861.7 L1404.7,861.2 L1405.0,861.0 L1406.0,860.1 L1407.0,858.8 L1408.0,857.3 L1409.0,855.6 L1410.0,853.9 L1410.4,853.2 L1411.0,852.2 L1412.0,850.2 L1413.0,848.0 L1414.0,845.8 L1415.0,843.8 L1416.0,842.0 L1416.1,841.8 L1417.0,840.5 L1418.0,839.0 L1419.0,837.7 L1420.0,836.6 L1420.7,836.1 L1421.0,836.0 L1422.0,835.5 L1423.0,835.0 L1424.0,834.7 L1425.0,834.6 L1425.2,834.5 L1426.0,834.6 L1427.0,834.8 L1428.0,835.0 L1429.0,835.4 L1430.0,835.8 L1430.9,836.1 L1431.0,836.2 L1432.0,836.8 L1433.0,837.7 L1434.0,838.8 L1435.0,840.0 L1436.0,841.2 L1437.0,842.3 L1437.8,843.0 L1438.0,843.2 L1439.0,844.1 L1440.0,845.1 L1441.0,846.1 L1442.0,846.9 L1443.0,847.6 L1444.0,848.1 L1444.6,848.2 L1445.0,848.3 L1446.0,848.4 L1447.0,848.5 L1448.0,848.5 L1449.0,848.6 L1450.0,848.6 L1451.0,848.7 L1452.0,848.7 L1452.6,848.7 L1453.0,848.7 L1454.0,848.6 L1455.0,848.3 L1456.0,848.0 L1457.0,847.7 L1458.0,847.3 L1459.0,846.8 L1460.0,846.4 L1461.0,846.0 L1461.7,845.7 L1462.0,845.6 L1463.0,845.2 L1464.0,844.7 L1465.0,844.3 L1466.0,843.8 L1467.0,843.4 L1468.0,843.1 L1468.5,843.0 L1469.0,842.9 L1470.0,842.7 L1471.0,842.5 L1472.0,842.4 L1473.0,842.3 L1473.1,842.3 L1474.0,842.5 L1475.0,843.2 L1476.0,844.1 L1477.0,845.3 L1478.0,846.6 L1478.8,847.5 L1479.0,847.8 L1480.0,849.2 L1481.0,850.9 L1482.0,852.7 L1483.0,854.5 L1484.0,856.3 L1485.0,858.0 L1485.6,858.9 L1486.0,859.4 L1487.0,860.8 L1488.0,862.1 L1489.0,863.4 L1490.0,864.6 L1491.0,865.6 L1492.0,866.5 L1492.5,866.9 L1493.0,867.3 L1494.0,868.0 L1495.0,868.7 L1496.0,869.3 L1497.0,869.9 L1498.0,870.4 L1499.0,870.7 L1500.0,871.0 L1500.0,871.0 L1501.0,871.2 L1502.0,871.4 L1503.0,871.5 L1504.0,871.6 L1505.0,871.7 L1506.0,871.8 L1507.0,872.0 L1508.0,872.1 L1508.2,872.2 L1509.0,872.3 L1510.0,872.6 L1511.0,872.9 L1512.0,873.2 L1513.0,873.6 L1514.0,873.9 L1515.0,874.3 L1516.0,874.6 L1517.0,875.0 L1518.0,875.2 L1519.0,875.5 L1519.6,875.6 L1520.0,875.6 L1521.0,875.8 L1522.0,876.0 L1523.0,876.1 L1524.0,876.2 L1525.0,876.4 L1526.0,876.4 L1527.0,876.5 L1527.6,876.5 L1528.0,876.5 L1529.0,876.4 L1530.0,876.2 L1531.0,875.9 L1532.0,875.5 L1533.0,875.0 L1534.0,874.6 L1535.0,874.1 L1535.6,873.8 L1536.0,873.5 L1537.0,872.8 L1538.0,872.0 L1539.0,871.0 L1540.0,870.0 L1541.0,868.8 L1542.0,867.6 L1543.0,866.4 L1543.6,865.8 L1544.0,865.3 L1545.0,864.0 L1546.0,862.7 L1547.0,861.2 L1548.0,859.8 L1549.0,858.3 L1550.0,856.8 L1551.0,855.2 L1551.5,854.4 L1552.0,853.7 L1553.0,852.1 L1554.0,850.4 L1555.0,848.8 L1556.0,847.1 L1557.0,845.4 L1558.0,843.6 L1558.4,843.0 L1559.0,841.9 L1560.0,839.9 L1561.0,837.9 L1562.0,836.2 L1562.9,835.0 L1563.0,835.0 L1564.0,834.1 L1565.0,833.3 L1566.0,832.7 L1567.0,832.3 L1567.5,832.3 L1568.0,832.3 L1569.0,832.7 L1570.0,833.3 L1571.0,834.1 L1572.0,835.0 L1572.1,835.0 L1573.0,836.1 L1574.0,837.6 L1575.0,839.4 L1576.0,841.2 L1577.0,843.0 L1577.8,844.1 L1578.0,844.4 L1579.0,845.8 L1580.0,847.2 L1581.0,848.6 L1582.0,849.8 L1583.0,850.9 L1584.0,851.7 L1584.6,852.1 L1585.0,852.3 L1586.0,852.8 L1587.0,853.3 L1588.0,853.8 L1589.0,854.2 L1590.0,854.5 L1591.0,854.7 L1592.0,854.8 L1592.6,854.8 L1593.0,854.8 L1594.0,854.7 L1595.0,854.4 L1596.0,854.0 L1597.0,853.5 L1598.0,853.0 L1598.3,852.8 L1599.0,852.1 L1600.0,850.6 L1601.0,848.6 L1602.0,846.2 L1602.8,844.1 L1603.0,843.7 L1604.0,840.1 L1605.0,836.0 L1606.0,832.3 L1606.3,831.6 L1607.0,829.6 L1608.0,827.1 L1609.0,825.3 L1609.7,824.7 L1610.0,824.6 L1611.0,824.3 L1612.0,824.1 L1613.0,824.1 L1613.1,824.1 L1614.0,824.7 L1615.0,826.6 L1616.0,829.1 L1616.5,830.4 L1617.0,831.9 L1618.0,835.9 L1619.0,840.4 L1619.9,844.1 L1620.0,844.4 L1621.0,847.7 L1622.0,850.9 L1623.0,853.9 L1624.0,856.6 L1624.5,857.8 L1625.0,859.0 L1626.0,861.3 L1627.0,863.4 L1628.0,865.4 L1629.0,867.2 L1630.0,868.9 L1630.2,869.2 L1631.0,870.5 L1632.0,872.0 L1633.0,873.3 L1634.0,874.7 L1635.0,875.9 L1636.0,877.1 L1637.0,878.3 L1637.0,878.3 L1638.0,879.5 L1639.0,880.8 L1640.0,882.0 L1641.0,883.0 L1642.0,883.8 L1642.7,884.0 L1643.0,884.1 L1644.0,884.2 L1645.0,884.3 L1646.0,884.4 L1647.0,884.5 L1647.7,884.5 L1648.0,884.4 L1649.0,883.8 L1650.0,882.7 L1651.0,881.3 L1652.0,879.9 L1653.0,878.8 L1653.0,878.8 L1654.0,877.9 L1655.0,877.0 L1656.0,876.2 L1657.0,875.6 L1657.5,875.3 L1658.0,875.2 L1659.0,874.9 L1660.0,874.7 L1661.0,874.5 L1662.0,874.2 L1663.0,873.9 L1663.2,873.8 L1664.0,873.3 L1665.0,872.4 L1666.0,871.3 L1667.0,869.9 L1668.0,868.4 L1668.9,866.9 L1669.0,866.8 L1670.0,865.0 L1671.0,862.9 L1672.0,860.6 L1673.0,858.0 L1674.0,855.1 L1674.6,853.2 L1675.0,852.1 L1676.0,848.5 L1677.0,844.5 L1678.0,840.2 L1679.0,835.9 L1679.2,835.0 L1680.0,831.0 L1681.0,825.6 L1682.0,820.9 L1682.6,819.0 L1683.0,818.2 L1684.0,816.4 L1685.0,815.2 L1685.6,814.9 L1686.0,815.1 L1687.0,816.2 L1688.0,818.2 L1688.8,820.2 L1689.0,820.9 L1690.0,826.7 L1691.0,834.4 L1691.7,839.6 L1692.0,841.3 L1693.0,847.9 L1694.0,854.2 L1695.0,859.4 L1695.2,860.1 L1696.0,863.4 L1697.0,866.9 L1698.0,869.9 L1699.0,872.4 L1699.7,873.8 L1700.0,874.2 L1701.0,875.8 L1702.0,877.2 L1703.0,878.4 L1704.0,879.4 L1705.0,880.4 L1706.0,881.3 L1706.5,881.7 L1707.0,882.1 L1708.0,882.8 L1709.0,883.5 L1710.0,884.1 L1711.0,884.7 L1712.0,885.2 L1713.0,885.8 L1714.0,886.4 L1715.0,887.0 L1715.7,887.4 L1716.0,887.7 L1717.0,888.4 L1718.0,889.1 L1719.0,889.8 L1720.0,890.5 L1721.0,891.3 L1722.0,892.1 L1723.0,892.8 L1724.0,893.6 L1724.8,894.3 L1725.0,894.4 L1726.0,895.3 L1727.0,896.2 L1728.0,897.1 L1729.0,898.0 L1730.0,899.0 L1731.0,899.9 L1732.0,900.8 L1733.0,901.7 L1734.0,902.6 L1735.0,903.4 L1735.0,903.4 L1736.0,904.1 L1737.0,904.9 L1738.0,905.6 L1739.0,906.4 L1740.0,907.1 L1741.0,907.8 L1742.0,908.4 L1743.0,909.1 L1744.0,909.6 L1745.0,910.1 L1745.3,910.2 L1746.0,910.5 L1747.0,911.0 L1748.0,911.4 L1749.0,911.9 L1750.0,912.3 L1751.0,912.6 L1752.0,912.9 L1753.0,913.1 L1754.0,913.2 L1754.4,913.2 L1755.0,913.2 L1756.0,913.2 L1757.0,913.1 L1758.0,913.0 L1759.0,912.9 L1760.0,912.8 L1761.0,912.7 L1762.0,912.6 L1762.4,912.5 L1763.0,912.4 L1764.0,911.9 L1765.0,911.2 L1766.0,910.4 L1767.0,909.4 L1768.0,908.3 L1769.0,907.1 L1769.2,906.8 L1770.0,905.8 L1771.0,904.1 L1772.0,902.1 L1773.0,899.9 L1774.0,897.5 L1775.0,894.9 L1776.0,892.2 L1776.1,892.0 L1777.0,889.3 L1778.0,885.9 L1779.0,882.3 L1780.0,878.5 L1781.0,874.5 L1781.8,871.5 L1782.0,870.6 L1783.0,866.4 L1784.0,862.0 L1785.0,857.5 L1786.0,853.0 L1787.0,848.5 L1787.5,846.4 L1788.0,844.1 L1789.0,839.6 L1790.0,835.0 L1791.0,830.6 L1792.0,826.2 L1793.0,822.0 L1793.2,821.3 L1794.0,817.9 L1795.0,813.8 L1796.0,809.8 L1797.0,806.3 L1797.7,804.2 L1798.0,803.5 L1799.0,801.0 L1800.0,798.6 L1801.0,796.7 L1802.0,795.4 L1802.3,795.1 L1803.0,794.6 L1804.0,794.0 L1805.0,793.6 L1806.0,793.3 L1806.4,793.3 L1807.0,793.4 L1808.0,794.0 L1809.0,794.9 L1810.0,796.0 L1811.0,797.0 L1811.4,797.4 L1812.0,797.9 L1813.0,798.6 L1814.0,799.3 L1815.0,800.1 L1816.0,800.9 L1817.0,801.8 L1818.0,802.8 L1818.2,803.1 L1819.0,804.1 L1820.0,805.8 L1821.0,807.7 L1822.0,809.9 L1823.0,812.2 L1823.9,814.5 L1824.0,814.6 L1825.0,817.3 L1826.0,820.3 L1827.0,823.5 L1828.0,826.7 L1829.0,829.8 L1829.6,831.6 L1830.0,832.5 L1831.0,835.1 L1832.0,837.4 L1833.0,839.7 L1834.0,842.0 L1835.0,844.5 L1836.0,847.2 L1836.5,848.7 L1837.0,850.4 L1838.0,854.0 L1839.0,857.9 L1840.0,862.1 L1841.0,866.5 L1842.0,870.7 L1842.2,871.5 L1843.0,875.0 L1844.0,879.5 L1845.0,884.1 L1846.0,888.6 L1847.0,892.9 L1847.9,896.5 L1848.0,897.0 L1849.0,901.0 L1850.0,905.0 L1851.0,908.8 L1852.0,912.4 L1853.0,915.5 L1853.6,917.1 L1854.0,918.2 L1855.0,920.6 L1856.0,922.9 L1857.0,925.0 L1858.0,926.8 L1859.0,928.2 L1859.3,928.5 L1860.0,929.2 L1861.0,930.3 L1862.0,931.2 L1863.0,931.9 L1864.0,932.4 L1865.0,932.6 L1865.0,932.6 L1866.0,932.4 L1867.0,931.9 L1868.0,931.2 L1869.0,930.3 L1870.0,929.2 L1870.7,928.5 L1871.0,928.0 L1872.0,926.0 L1873.0,923.2 L1874.0,919.7 L1875.0,915.7 L1875.2,914.8 L1876.0,911.0 L1877.0,904.6 L1878.0,897.1 L1878.6,892.0 L1879.0,889.0 L1880.0,879.2 L1881.0,868.6 L1881.6,862.4 L1882.0,858.6 L1883.0,849.7 L1884.0,840.9 L1885.0,831.4 L1886.0,820.2 L1886.1,819.0 L1887.0,806.5 L1888.0,790.0 L1889.0,770.7 L1889.5,760.0 L1890.0,747.8 L1891.0,717.7 L1892.0,684.1 L1893.0,652.0 L1893.5,638.0 L1894.0,625.3 L1895.0,601.2 L1896.0,578.6 L1897.0,557.3 L1897.9,539.0 L1898.0,537.0 L1899.0,518.5 L1900.0,500.7 L1900.3,495.0 L1901.0,481.2 L1901.4,473.0 L1902.0,485.5 L1902.5,495.0 L1903.0,503.1 L1904.0,516.8 L1905.0,531.6 L1905.4,539.0 L1906.0,553.9 L1907.0,586.8 L1908.0,620.3 L1908.7,638.0 L1909.0,643.8 L1910.0,660.8 L1911.0,675.1 L1912.0,687.9 L1913.0,700.0 L1914.0,711.7 L1915.0,722.6 L1916.0,732.6 L1916.8,740.0 L1917.0,741.8 L1918.0,749.9 L1918.3,751.9 L1919.0,755.7 L1920.0,760.2 L1921.0,764.4 L1921.3,765.7 L1922.0,769.0 L1923.0,773.9 L1924.0,778.4 L1924.3,779.5 L1925.0,781.9 L1926.0,785.0 L1927.0,787.9 L1928.0,790.5 L1929.0,792.9 L1929.2,793.4 L1930.0,795.2 L1931.0,797.4 L1932.0,799.4 L1933.0,801.3 L1934.0,803.2 L1935.0,805.0 L1935.1,805.2 L1936.0,806.8 L1937.0,808.4 L1938.0,810.0 L1939.0,811.6 L1940.0,813.2 L1941.0,814.9 L1941.1,815.1 L1942.0,816.8 L1943.0,818.8 L1944.0,820.8 L1945.0,822.9 L1946.0,825.0 L1947.0,827.2 L1948.0,829.5 L1949.0,831.8 L1950.0,833.9 L1951.0,835.9 L1952.0,838.0 L1953.0,839.7 L1953.9,840.8 L1954.0,840.9 L1955.0,841.7 L1956.0,842.2 L1957.0,842.8 L1958.0,843.3 L1958.9,843.8 L1959.0,843.9 L1960.0,844.5 L1961.0,845.1 L1962.0,845.9 L1962.8,846.7 L1963.0,847.0 L1964.0,849.0 L1965.0,851.6 L1965.8,853.6 L1966.0,854.1 L1967.0,856.4 L1968.0,858.8 L1969.0,861.1 L1969.7,862.5 L1970.0,863.1 L1971.0,864.9 L1972.0,866.6 L1973.0,868.2 L1973.7,869.4 L1974.0,869.9 L1975.0,871.6 L1976.0,873.3 L1977.0,875.0 L1978.0,876.7 L1979.0,878.3 L1980.0,880.0" stroke="#008000" stroke-width="7.0"/>
</g>
<rect x="1375.1" y="668.0" width="5.0" height="712.0" fill="#000"/>
<rect x="1470.9" y="735.5" width="5.0" height="644.5" fill="#000"/>
<rect x="1562.2" y="789.3" width="6.0" height="590.7" fill="#000"/>
<rect x="1609.1" y="640.9" width="5.0" height="739.1" fill="#000"/>
<rect x="1716.2" y="547.3" width="4.8" height="832.7" fill="#000"/>
<text class="t61" transform="translate(150.0,1468.6) scale(1,1.065)" text-anchor="middle">1800</text>
<rect x="464.9" y="1383" width="5" height="21" fill="#000"/>
<text class="t61" transform="translate(467.4,1468.6) scale(1,1.065)" text-anchor="middle">1600</text>
<rect x="782.2" y="1383" width="5" height="21" fill="#000"/>
<text class="t61" transform="translate(784.7,1468.6) scale(1,1.065)" text-anchor="middle">1400</text>
<rect x="1099.6" y="1383" width="5" height="21" fill="#000"/>
<text class="t61" transform="translate(1102.1,1468.6) scale(1,1.065)" text-anchor="middle">1200</text>
<rect x="1416.9" y="1383" width="5" height="21" fill="#000"/>
<text class="t61" transform="translate(1419.4,1468.6) scale(1,1.065)" text-anchor="middle">1000</text>
<rect x="1734.3" y="1383" width="5" height="21" fill="#000"/>
<text class="t61" transform="translate(1736.8,1468.6) scale(1,1.065)" text-anchor="middle">800</text>
<rect x="306.2" y="1383" width="5" height="9" fill="#000"/>
<rect x="623.5" y="1383" width="5" height="9" fill="#000"/>
<rect x="940.9" y="1383" width="5" height="9" fill="#000"/>
<rect x="1258.3" y="1383" width="5" height="9" fill="#000"/>
<rect x="1575.6" y="1383" width="5" height="9" fill="#000"/>
<rect x="1893.0" y="1383" width="5" height="9" fill="#000"/>
<rect x="211" y="126.8" width="164" height="7.5" fill="#000000"/>
<text class="t73" transform="translate(394,155.0) scale(1,1.057)" text-anchor="start">ST</text>
<rect x="211" y="215.8" width="164" height="7.5" fill="#ff0000"/>
<text class="t73" transform="translate(394,244.0) scale(1,1.05)" text-anchor="start">epST-38</text>
<rect x="211" y="305.4" width="164" height="7.5" fill="#0000ff"/>
<text class="t73" transform="translate(394,333.6) scale(1,1.05)" text-anchor="start">epST-57</text>
<rect x="211" y="395.1" width="164" height="7.5" fill="#008000"/>
<text class="t73" transform="translate(394,423.4) scale(1,1.05)" text-anchor="start">epST-82</text>
<text class="t61" transform="translate(1313.7,638.0) scale(1,1.065)" text-anchor="start">1028</text>
<text class="t61" transform="translate(1425.2,702.4) scale(1,1.065)" text-anchor="start">965</text>
<text class="t61" transform="translate(1504.9,773.6) scale(1,1.065)" text-anchor="start">908</text>
<text class="t61" transform="translate(1562.3,602.0) scale(1,1.065)" text-anchor="start">880</text>
<text class="t61" transform="translate(1674.0,511.4) scale(1,1.065)" text-anchor="start">812</text>
<text class="t73" transform="translate(1062.0,1577.8) scale(1,1.03)" text-anchor="middle">Wavenumber (cm<tspan font-size="48.5" dy="-30">-1</tspan><tspan dy="30">)</tspan></text>
<text class="t73" transform="translate(96,707.8) rotate(-90) scale(1,1.03)" text-anchor="middle">Absorption (a.u)</text>
</svg></body></html>
